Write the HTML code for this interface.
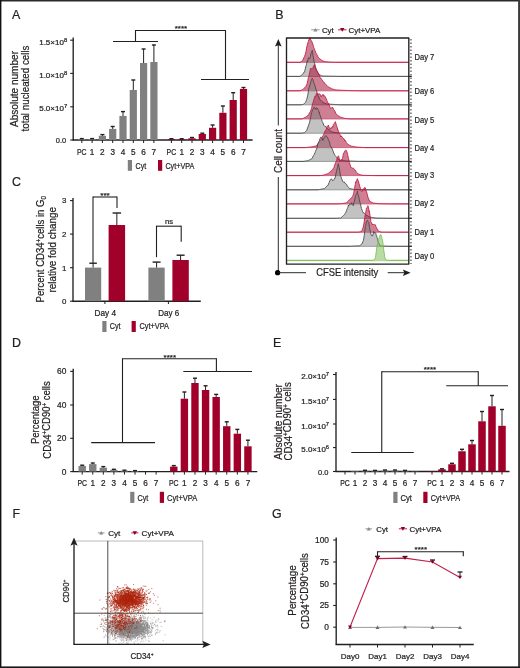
<!DOCTYPE html>
<html><head><meta charset="utf-8"><style>
html,body{margin:0;padding:0;background:#fff;}
svg{display:block;font-family:"Liberation Sans", sans-serif;filter:blur(0.55px);}
text{stroke:#231f20;stroke-width:0.22px;}
</style></head><body>
<svg width="520" height="668" viewBox="0 0 520 668">
<rect width="520" height="668" fill="#fff"/>
<rect x="0" y="0" width="520" height="1.5" fill="#2a2a2a"/>
<rect x="0" y="0" width="1.4" height="668" fill="#111"/>
<rect x="518.1" y="0" width="1.9" height="668" fill="#3a3a3a"/>
<rect x="0" y="666.4" width="520" height="1.6" fill="#1a1a1a"/>
<text x="12" y="18.8" font-size="12.4" fill="#231f20">A</text>
<text x="275.3" y="18.8" font-size="12.4" fill="#231f20">B</text>
<text x="12" y="185.6" font-size="12.4" fill="#231f20">C</text>
<text x="12" y="347.1" font-size="12.4" fill="#231f20">D</text>
<text x="273" y="347.1" font-size="12.4" fill="#231f20">E</text>
<text x="12.4" y="517.5" font-size="12.4" fill="#231f20">F</text>
<text x="272" y="518" font-size="12.4" fill="#231f20">G</text>
<line x1="73.2" y1="37.6" x2="73.2" y2="140.5" stroke="#231f20" stroke-width="1.35"/>
<line x1="72.7" y1="140" x2="252.6" y2="140" stroke="#231f20" stroke-width="1.35"/>
<line x1="70.2" y1="40.2" x2="73.2" y2="40.2" stroke="#231f20" stroke-width="1.1"/>
<text x="67.2" y="44.8" font-size="7.4" fill="#231f20" text-anchor="end" textLength="28" lengthAdjust="spacingAndGlyphs">1.5×10<tspan font-size="5.4" dy="-2.97">8</tspan></text>
<line x1="70.2" y1="73.4" x2="73.2" y2="73.4" stroke="#231f20" stroke-width="1.1"/>
<text x="67.2" y="78" font-size="7.4" fill="#231f20" text-anchor="end" textLength="28" lengthAdjust="spacingAndGlyphs">1.0×10<tspan font-size="5.4" dy="-2.97">8</tspan></text>
<line x1="70.2" y1="106.8" x2="73.2" y2="106.8" stroke="#231f20" stroke-width="1.1"/>
<text x="67.2" y="111.4" font-size="7.4" fill="#231f20" text-anchor="end" textLength="28" lengthAdjust="spacingAndGlyphs">5.0×10<tspan font-size="5.4" dy="-2.97">7</tspan></text>
<line x1="70.2" y1="140" x2="73.2" y2="140" stroke="#231f20" stroke-width="1.1"/>
<text x="66.2" y="143" font-size="7.4" fill="#231f20" text-anchor="end" textLength="10.4" lengthAdjust="spacingAndGlyphs">0.0</text>
<rect x="78.2" y="139.2" width="7.2" height="0.8" fill="#808080"/>
<line x1="81.8" y1="139.2" x2="81.8" y2="138.6" stroke="#231f20" stroke-width="1"/>
<line x1="79.8" y1="138.6" x2="83.8" y2="138.6" stroke="#231f20" stroke-width="1.4"/>
<rect x="88.5" y="139.2" width="7.2" height="0.8" fill="#808080"/>
<line x1="92.1" y1="139.2" x2="92.1" y2="138.6" stroke="#231f20" stroke-width="1"/>
<line x1="90.1" y1="138.6" x2="94.1" y2="138.6" stroke="#231f20" stroke-width="1.4"/>
<rect x="98.8" y="135.8" width="7.2" height="4.2" fill="#808080"/>
<line x1="102.4" y1="135.8" x2="102.4" y2="134.6" stroke="#231f20" stroke-width="1"/>
<line x1="100.4" y1="134.6" x2="104.4" y2="134.6" stroke="#231f20" stroke-width="1.4"/>
<rect x="109.1" y="128.9" width="7.2" height="11.1" fill="#808080"/>
<line x1="112.7" y1="128.9" x2="112.7" y2="126.5" stroke="#231f20" stroke-width="1"/>
<line x1="110.7" y1="126.5" x2="114.7" y2="126.5" stroke="#231f20" stroke-width="1.4"/>
<rect x="119.4" y="115.9" width="7.2" height="24.1" fill="#808080"/>
<line x1="123" y1="115.9" x2="123" y2="111.6" stroke="#231f20" stroke-width="1"/>
<line x1="121" y1="111.6" x2="125" y2="111.6" stroke="#231f20" stroke-width="1.4"/>
<rect x="129.7" y="90" width="7.2" height="50" fill="#808080"/>
<line x1="133.3" y1="90" x2="133.3" y2="80" stroke="#231f20" stroke-width="1"/>
<line x1="131.3" y1="80" x2="135.3" y2="80" stroke="#231f20" stroke-width="1.4"/>
<rect x="140" y="63" width="7.2" height="77" fill="#808080"/>
<line x1="143.6" y1="63" x2="143.6" y2="49" stroke="#231f20" stroke-width="1"/>
<line x1="141.6" y1="49" x2="145.6" y2="49" stroke="#231f20" stroke-width="1.4"/>
<rect x="150.3" y="62" width="7.2" height="78" fill="#808080"/>
<line x1="153.9" y1="62" x2="153.9" y2="45" stroke="#231f20" stroke-width="1"/>
<line x1="151.9" y1="45" x2="155.9" y2="45" stroke="#231f20" stroke-width="1.4"/>
<rect x="167.8" y="139.2" width="7.2" height="0.8" fill="#a0002a"/>
<line x1="171.4" y1="139.2" x2="171.4" y2="138.7" stroke="#231f20" stroke-width="1"/>
<line x1="169.4" y1="138.7" x2="173.4" y2="138.7" stroke="#231f20" stroke-width="1.4"/>
<rect x="178.1" y="139.2" width="7.2" height="0.8" fill="#a0002a"/>
<line x1="181.7" y1="139.2" x2="181.7" y2="138.7" stroke="#231f20" stroke-width="1"/>
<line x1="179.7" y1="138.7" x2="183.7" y2="138.7" stroke="#231f20" stroke-width="1.4"/>
<rect x="188.4" y="138.3" width="7.2" height="1.7" fill="#a0002a"/>
<line x1="192" y1="138.3" x2="192" y2="137.5" stroke="#231f20" stroke-width="1"/>
<line x1="190" y1="137.5" x2="194" y2="137.5" stroke="#231f20" stroke-width="1.4"/>
<rect x="198.7" y="134" width="7.2" height="6" fill="#a0002a"/>
<line x1="202.3" y1="134" x2="202.3" y2="133.2" stroke="#231f20" stroke-width="1"/>
<line x1="200.3" y1="133.2" x2="204.3" y2="133.2" stroke="#231f20" stroke-width="1.4"/>
<rect x="209" y="127.8" width="7.2" height="12.2" fill="#a0002a"/>
<line x1="212.6" y1="127.8" x2="212.6" y2="125" stroke="#231f20" stroke-width="1"/>
<line x1="210.6" y1="125" x2="214.6" y2="125" stroke="#231f20" stroke-width="1.4"/>
<rect x="219.3" y="112.8" width="7.2" height="27.2" fill="#a0002a"/>
<line x1="222.9" y1="112.8" x2="222.9" y2="106" stroke="#231f20" stroke-width="1"/>
<line x1="220.9" y1="106" x2="224.9" y2="106" stroke="#231f20" stroke-width="1.4"/>
<rect x="229.6" y="100" width="7.2" height="40" fill="#a0002a"/>
<line x1="233.2" y1="100" x2="233.2" y2="92.7" stroke="#231f20" stroke-width="1"/>
<line x1="231.2" y1="92.7" x2="235.2" y2="92.7" stroke="#231f20" stroke-width="1.4"/>
<rect x="239.9" y="88.9" width="7.2" height="51.1" fill="#a0002a"/>
<line x1="243.5" y1="88.9" x2="243.5" y2="87.5" stroke="#231f20" stroke-width="1"/>
<line x1="241.5" y1="87.5" x2="245.5" y2="87.5" stroke="#231f20" stroke-width="1.4"/>
<line x1="81.8" y1="140" x2="81.8" y2="143" stroke="#231f20" stroke-width="1"/>
<line x1="92.1" y1="140" x2="92.1" y2="143" stroke="#231f20" stroke-width="1"/>
<line x1="102.4" y1="140" x2="102.4" y2="143" stroke="#231f20" stroke-width="1"/>
<line x1="112.7" y1="140" x2="112.7" y2="143" stroke="#231f20" stroke-width="1"/>
<line x1="123" y1="140" x2="123" y2="143" stroke="#231f20" stroke-width="1"/>
<line x1="133.3" y1="140" x2="133.3" y2="143" stroke="#231f20" stroke-width="1"/>
<line x1="143.6" y1="140" x2="143.6" y2="143" stroke="#231f20" stroke-width="1"/>
<line x1="153.9" y1="140" x2="153.9" y2="143" stroke="#231f20" stroke-width="1"/>
<line x1="171.4" y1="140" x2="171.4" y2="143" stroke="#231f20" stroke-width="1"/>
<line x1="181.7" y1="140" x2="181.7" y2="143" stroke="#231f20" stroke-width="1"/>
<line x1="192" y1="140" x2="192" y2="143" stroke="#231f20" stroke-width="1"/>
<line x1="202.3" y1="140" x2="202.3" y2="143" stroke="#231f20" stroke-width="1"/>
<line x1="212.6" y1="140" x2="212.6" y2="143" stroke="#231f20" stroke-width="1"/>
<line x1="222.9" y1="140" x2="222.9" y2="143" stroke="#231f20" stroke-width="1"/>
<line x1="233.2" y1="140" x2="233.2" y2="143" stroke="#231f20" stroke-width="1"/>
<line x1="243.5" y1="140" x2="243.5" y2="143" stroke="#231f20" stroke-width="1"/>
<text x="81.8" y="154.6" font-size="8.2" fill="#231f20" text-anchor="middle" textLength="9.6" lengthAdjust="spacingAndGlyphs">PC</text>
<text x="92.1" y="154.6" font-size="8.2" fill="#231f20" text-anchor="middle">1</text>
<text x="102.4" y="154.6" font-size="8.2" fill="#231f20" text-anchor="middle">2</text>
<text x="112.7" y="154.6" font-size="8.2" fill="#231f20" text-anchor="middle">3</text>
<text x="123" y="154.6" font-size="8.2" fill="#231f20" text-anchor="middle">4</text>
<text x="133.3" y="154.6" font-size="8.2" fill="#231f20" text-anchor="middle">5</text>
<text x="143.6" y="154.6" font-size="8.2" fill="#231f20" text-anchor="middle">6</text>
<text x="153.9" y="154.6" font-size="8.2" fill="#231f20" text-anchor="middle">7</text>
<text x="171.4" y="154.6" font-size="8.2" fill="#231f20" text-anchor="middle" textLength="9.6" lengthAdjust="spacingAndGlyphs">PC</text>
<text x="181.7" y="154.6" font-size="8.2" fill="#231f20" text-anchor="middle">1</text>
<text x="192" y="154.6" font-size="8.2" fill="#231f20" text-anchor="middle">2</text>
<text x="202.3" y="154.6" font-size="8.2" fill="#231f20" text-anchor="middle">3</text>
<text x="212.6" y="154.6" font-size="8.2" fill="#231f20" text-anchor="middle">4</text>
<text x="222.9" y="154.6" font-size="8.2" fill="#231f20" text-anchor="middle">5</text>
<text x="233.2" y="154.6" font-size="8.2" fill="#231f20" text-anchor="middle">6</text>
<text x="243.5" y="154.6" font-size="8.2" fill="#231f20" text-anchor="middle">7</text>
<line x1="135.5" y1="30.5" x2="225.5" y2="30.5" stroke="#231f20" stroke-width="1.1"/>
<line x1="135.5" y1="30" x2="135.5" y2="41.5" stroke="#231f20" stroke-width="1.1"/>
<line x1="225.5" y1="30" x2="225.5" y2="79.5" stroke="#231f20" stroke-width="1.1"/>
<line x1="113" y1="41.5" x2="158" y2="41.5" stroke="#231f20" stroke-width="1.1"/>
<line x1="201" y1="79.5" x2="249" y2="79.5" stroke="#231f20" stroke-width="1.1"/>
<text x="181" y="31.2" font-size="7.2" fill="#231f20" text-anchor="middle" textLength="12.5" lengthAdjust="spacingAndGlyphs">****</text>
<rect x="127.8" y="160" width="4.2" height="10.8" fill="#808080"/>
<text x="135.6" y="168.6" font-size="8.6" fill="#231f20" textLength="10.6" lengthAdjust="spacingAndGlyphs">Cyt</text>
<rect x="158" y="160" width="4.2" height="10.8" fill="#a0002a"/>
<text x="165.4" y="168.6" font-size="8.6" fill="#231f20" textLength="28.9" lengthAdjust="spacingAndGlyphs">Cyt+VPA</text>
<text x="18" y="89" font-size="10.2" fill="#231f20" text-anchor="middle" textLength="76" lengthAdjust="spacingAndGlyphs" transform="rotate(-90 18 89)">Absolute number</text>
<text x="28.8" y="88.5" font-size="10.2" fill="#231f20" text-anchor="middle" textLength="86" lengthAdjust="spacingAndGlyphs" transform="rotate(-90 28.8 88.5)">total nucleated cells</text>
<path d="M286.5 62.3L300 62.3L300.75 61.85L301.5 61.4L302.25 60.95L302.5 60.8L303 59.75L303.75 58.04L304.5 56.56L304.6 56.37L305.25 54.27L306 51.39L306.75 47.05L307 46.11L307.5 44.1L308.25 41.86L308.3 41.62L309 39.31L309.2 39.45L309.75 37.9L310 37.87L310.5 38.94L310.8 40.56L311.25 40.91L311.5 40.7L312 42.07L312.3 42.66L312.75 44.22L313.5 46.29L313.75 47.59L314.25 48.56L315 50.63L315.75 52.91L316.2 53.25L316.5 54.13L317.25 55.25L318 56.93L318.75 57.79L319.5 58.57L320 59.11L320.25 59.2L321 59.76L321.75 60.32L322.5 60.8L323.25 61.04L324 61.28L324.75 61.52L325 61.6L325.5 61.65L326.25 61.72L327 61.8L327.75 61.88L328.5 61.95L329.25 62.02L330 62.1L330.75 62.12L331.5 62.15L332.25 62.17L333 62.2L333.75 62.22L334.5 62.25L335.25 62.27L336 62.3L408.8 62.3Z" fill="rgba(160,0,40,0.5)" stroke="none"/>
<line x1="286.5" y1="62.3" x2="408.8" y2="62.3" stroke="#d2607f" stroke-width="1"/>
<path d="M286.5 62.3L300 62.3L300.75 61.85L301.5 61.4L302.25 60.95L302.5 60.8L303 59.75L303.75 58.04L304.5 56.56L304.6 56.37L305.25 54.27L306 51.39L306.75 47.05L307 46.11L307.5 44.1L308.25 41.86L308.3 41.62L309 39.31L309.2 39.45L309.75 37.9L310 37.87L310.5 38.94L310.8 40.56L311.25 40.91L311.5 40.7L312 42.07L312.3 42.66L312.75 44.22L313.5 46.29L313.75 47.59L314.25 48.56L315 50.63L315.75 52.91L316.2 53.25L316.5 54.13L317.25 55.25L318 56.93L318.75 57.79L319.5 58.57L320 59.11L320.25 59.2L321 59.76L321.75 60.32L322.5 60.8L323.25 61.04L324 61.28L324.75 61.52L325 61.6L325.5 61.65L326.25 61.72L327 61.8L327.75 61.88L328.5 61.95L329.25 62.02L330 62.1L330.75 62.12L331.5 62.15L332.25 62.17L333 62.2L333.75 62.22L334.5 62.25L335.25 62.27L336 62.3L408.8 62.3" fill="none" stroke="#c0163f" stroke-width="0.85" stroke-linejoin="round"/>
<path d="M286.5 76.4L299.8 76.4L300.55 75.89L301.3 75.38L302 74.9L302.05 74.84L302.8 73.97L303.55 73L304.3 71.78L304.6 71.75L305.05 69.72L305.8 66.58L306.5 64.57L306.55 63.73L307.3 60.91L307.5 61.81L308.05 59.23L308.5 57.65L308.8 58.36L309.5 58.68L309.55 58.76L310.3 56.93L310.9 53.93L311.05 53.63L311.8 51.69L312.3 50.25L312.55 52.31L313.3 57.15L314.05 61.37L314.7 63.62L314.8 64.56L315.55 67.29L315.7 68.11L316.3 69.36L317.05 70.96L317.5 71.68L317.8 72.72L318.55 73.87L319 74.5L319.3 74.65L320.05 75.03L320.8 75.4L321.55 75.78L322 76L322.3 76.01L323.05 76.03L323.8 76.05L324.55 76.06L325.3 76.08L326.05 76.1L326.8 76.12L327.55 76.14L328.3 76.16L329.05 76.18L329.8 76.2L330 76.2L330.55 76.21L331.3 76.23L332.05 76.24L332.8 76.26L333.55 76.27L334.3 76.29L335.05 76.3L335.8 76.32L336.55 76.33L337.3 76.35L338.05 76.36L338.8 76.38L339.55 76.39L340 76.4L408.8 76.4Z" fill="rgba(128,128,128,0.48)" stroke="none"/>
<line x1="286.5" y1="76.4" x2="408.8" y2="76.4" stroke="#999999" stroke-width="1"/>
<path d="M286.5 76.4L299.8 76.4L300.55 75.89L301.3 75.38L302 74.9L302.05 74.84L302.8 73.97L303.55 73L304.3 71.78L304.6 71.75L305.05 69.72L305.8 66.58L306.5 64.57L306.55 63.73L307.3 60.91L307.5 61.81L308.05 59.23L308.5 57.65L308.8 58.36L309.5 58.68L309.55 58.76L310.3 56.93L310.9 53.93L311.05 53.63L311.8 51.69L312.3 50.25L312.55 52.31L313.3 57.15L314.05 61.37L314.7 63.62L314.8 64.56L315.55 67.29L315.7 68.11L316.3 69.36L317.05 70.96L317.5 71.68L317.8 72.72L318.55 73.87L319 74.5L319.3 74.65L320.05 75.03L320.8 75.4L321.55 75.78L322 76L322.3 76.01L323.05 76.03L323.8 76.05L324.55 76.06L325.3 76.08L326.05 76.1L326.8 76.12L327.55 76.14L328.3 76.16L329.05 76.18L329.8 76.2L330 76.2L330.55 76.21L331.3 76.23L332.05 76.24L332.8 76.26L333.55 76.27L334.3 76.29L335.05 76.3L335.8 76.32L336.55 76.33L337.3 76.35L338.05 76.36L338.8 76.38L339.55 76.39L340 76.4L408.8 76.4" fill="none" stroke="#444444" stroke-width="0.85" stroke-linejoin="round"/>
<path d="M286.5 90.8L300 90.8L300.75 90.46L301.5 90.13L302.25 89.79L302.9 89.5L303 89.4L303.75 88.59L304.5 87.66L305 87.22L305.25 87.21L306 86.3L306.7 84.72L306.75 84.78L307.5 82.07L308.25 78.33L308.5 77.3L309 75.47L309.75 72.03L310.4 69L310.5 68.46L311.25 68.7L312 68.55L312.3 68.45L312.75 68.69L313.5 66.22L314.25 65.12L314.7 64.56L315 66.86L315.7 68.99L315.75 68.41L316.5 70.9L317.25 71.47L317.6 71.54L318 73.47L318.75 73.82L319.5 75.95L320 77.37L320.25 77.49L321 78.35L321.75 79.6L322.5 80.23L322.9 81.44L323.25 81.75L324 82.17L324.75 83.36L325.5 84.46L325.8 84.38L326.25 84.67L327 85.73L327.75 86.52L328.5 86.96L328.8 87.22L329.25 87.46L330 87.63L330.75 88.25L331.5 88.41L332.25 88.88L332.7 89.1L333 89.17L333.75 89.35L334.5 89.54L335.25 89.72L336 89.9L336.75 89.95L337.5 90L338.25 90.05L339 90.1L339.75 90.16L340.4 90.2L340.5 90.2L341.25 90.24L342 90.27L342.75 90.3L343.5 90.33L344.25 90.36L345 90.39L345.75 90.42L346.5 90.45L347.25 90.49L348 90.52L348.75 90.55L349.5 90.58L350 90.6L350.25 90.61L351 90.62L351.75 90.63L352.5 90.65L353.25 90.66L354 90.68L354.75 90.69L355.5 90.71L356.25 90.72L357 90.74L357.75 90.75L358.5 90.77L359.25 90.78L360 90.8L408.8 90.8Z" fill="rgba(160,0,40,0.5)" stroke="none"/>
<line x1="286.5" y1="90.8" x2="408.8" y2="90.8" stroke="#d2607f" stroke-width="1"/>
<path d="M286.5 90.8L300 90.8L300.75 90.46L301.5 90.13L302.25 89.79L302.9 89.5L303 89.4L303.75 88.59L304.5 87.66L305 87.22L305.25 87.21L306 86.3L306.7 84.72L306.75 84.78L307.5 82.07L308.25 78.33L308.5 77.3L309 75.47L309.75 72.03L310.4 69L310.5 68.46L311.25 68.7L312 68.55L312.3 68.45L312.75 68.69L313.5 66.22L314.25 65.12L314.7 64.56L315 66.86L315.7 68.99L315.75 68.41L316.5 70.9L317.25 71.47L317.6 71.54L318 73.47L318.75 73.82L319.5 75.95L320 77.37L320.25 77.49L321 78.35L321.75 79.6L322.5 80.23L322.9 81.44L323.25 81.75L324 82.17L324.75 83.36L325.5 84.46L325.8 84.38L326.25 84.67L327 85.73L327.75 86.52L328.5 86.96L328.8 87.22L329.25 87.46L330 87.63L330.75 88.25L331.5 88.41L332.25 88.88L332.7 89.1L333 89.17L333.75 89.35L334.5 89.54L335.25 89.72L336 89.9L336.75 89.95L337.5 90L338.25 90.05L339 90.1L339.75 90.16L340.4 90.2L340.5 90.2L341.25 90.24L342 90.27L342.75 90.3L343.5 90.33L344.25 90.36L345 90.39L345.75 90.42L346.5 90.45L347.25 90.49L348 90.52L348.75 90.55L349.5 90.58L350 90.6L350.25 90.61L351 90.62L351.75 90.63L352.5 90.65L353.25 90.66L354 90.68L354.75 90.69L355.5 90.71L356.25 90.72L357 90.74L357.75 90.75L358.5 90.77L359.25 90.78L360 90.8L408.8 90.8" fill="none" stroke="#c0163f" stroke-width="0.85" stroke-linejoin="round"/>
<path d="M286.5 104.8L301 104.8L301.75 104.65L302.5 104.5L303.25 104.35L303.5 104.3L304 103.8L304.75 103.05L305.5 102.42L306.25 100.69L306.8 99.17L307 98.23L307.75 95.2L307.8 95.18L308.5 90.41L308.7 89.03L309.25 87.05L310 84.94L310.6 82.78L310.75 82.09L311.3 80.3L311.5 79.53L312 78.55L312.25 78.27L313 80.15L313.75 82.44L314 83.07L314.5 84.54L315.25 86.56L315.9 89.25L316 89.24L316.75 90.94L317.3 94.59L317.5 94.43L318.25 95.67L319 97.43L319.7 99.15L319.75 99.34L320.5 99.91L321.25 100.75L322 101.63L322.75 102.12L323 102.57L323.5 102.82L324.25 103.04L325 103.3L325.75 103.56L326.5 103.83L327 104L327.25 104.02L328 104.06L328.75 104.11L329.5 104.16L330.25 104.21L331 104.26L331.7 104.3L331.75 104.3L332.5 104.35L333.25 104.39L334 104.44L334.75 104.48L335.5 104.53L336.25 104.57L337 104.62L337.75 104.66L338.5 104.71L339.25 104.75L340 104.8L408.8 104.8Z" fill="rgba(128,128,128,0.48)" stroke="none"/>
<line x1="286.5" y1="104.8" x2="408.8" y2="104.8" stroke="#999999" stroke-width="1"/>
<path d="M286.5 104.8L301 104.8L301.75 104.65L302.5 104.5L303.25 104.35L303.5 104.3L304 103.8L304.75 103.05L305.5 102.42L306.25 100.69L306.8 99.17L307 98.23L307.75 95.2L307.8 95.18L308.5 90.41L308.7 89.03L309.25 87.05L310 84.94L310.6 82.78L310.75 82.09L311.3 80.3L311.5 79.53L312 78.55L312.25 78.27L313 80.15L313.75 82.44L314 83.07L314.5 84.54L315.25 86.56L315.9 89.25L316 89.24L316.75 90.94L317.3 94.59L317.5 94.43L318.25 95.67L319 97.43L319.7 99.15L319.75 99.34L320.5 99.91L321.25 100.75L322 101.63L322.75 102.12L323 102.57L323.5 102.82L324.25 103.04L325 103.3L325.75 103.56L326.5 103.83L327 104L327.25 104.02L328 104.06L328.75 104.11L329.5 104.16L330.25 104.21L331 104.26L331.7 104.3L331.75 104.3L332.5 104.35L333.25 104.39L334 104.44L334.75 104.48L335.5 104.53L336.25 104.57L337 104.62L337.75 104.66L338.5 104.71L339.25 104.75L340 104.8L408.8 104.8" fill="none" stroke="#444444" stroke-width="0.85" stroke-linejoin="round"/>
<path d="M286.5 118.9L302 118.9L302.75 118.53L303.5 118.15L303.8 118L304.25 117.78L305 117.4L305.75 117.03L306 116.9L306.5 116.48L307.25 115.86L308 115.21L308.7 115.04L308.75 114.58L309.5 112.72L310.25 111.72L311 109.86L311.5 108.44L311.75 107.37L312.5 103.83L313.25 102.04L313.5 100.36L314 99.14L314.75 96.88L314.9 96.31L315.5 96.97L316.25 93.97L316.8 94.15L317 93.31L317.75 94.74L318.3 94.32L318.5 93.79L319.25 94.13L319.7 93.81L320 94.12L320.75 95.87L321.2 96.84L321.5 95.81L322.25 95.28L322.6 95.53L323 94.31L323.75 96.35L324.5 95.7L325 96.42L325.25 96.82L326 98.3L326.75 100.25L326.9 100.41L327.5 102.3L328.25 103.44L328.8 103.32L329 104.55L329.75 106.53L330.5 108.62L330.8 108.32L331.25 108.18L332 107.31L332.7 107.8L332.75 107.49L333.5 109.34L334.25 110.09L335 111.33L335.75 113.37L336.5 114.35L337.25 114.92L338 115.55L338.75 116.2L339.5 116.32L340.25 116.91L340.4 117L341 117.19L341.75 117.42L342.5 117.66L343.25 117.89L344 118.13L344.75 118.36L345.2 118.5L345.5 118.53L346.25 118.59L347 118.65L347.75 118.71L348.5 118.78L349.25 118.84L350 118.9L408.8 118.9Z" fill="rgba(160,0,40,0.5)" stroke="none"/>
<line x1="286.5" y1="118.9" x2="408.8" y2="118.9" stroke="#d2607f" stroke-width="1"/>
<path d="M286.5 118.9L302 118.9L302.75 118.53L303.5 118.15L303.8 118L304.25 117.78L305 117.4L305.75 117.03L306 116.9L306.5 116.48L307.25 115.86L308 115.21L308.7 115.04L308.75 114.58L309.5 112.72L310.25 111.72L311 109.86L311.5 108.44L311.75 107.37L312.5 103.83L313.25 102.04L313.5 100.36L314 99.14L314.75 96.88L314.9 96.31L315.5 96.97L316.25 93.97L316.8 94.15L317 93.31L317.75 94.74L318.3 94.32L318.5 93.79L319.25 94.13L319.7 93.81L320 94.12L320.75 95.87L321.2 96.84L321.5 95.81L322.25 95.28L322.6 95.53L323 94.31L323.75 96.35L324.5 95.7L325 96.42L325.25 96.82L326 98.3L326.75 100.25L326.9 100.41L327.5 102.3L328.25 103.44L328.8 103.32L329 104.55L329.75 106.53L330.5 108.62L330.8 108.32L331.25 108.18L332 107.31L332.7 107.8L332.75 107.49L333.5 109.34L334.25 110.09L335 111.33L335.75 113.37L336.5 114.35L337.25 114.92L338 115.55L338.75 116.2L339.5 116.32L340.25 116.91L340.4 117L341 117.19L341.75 117.42L342.5 117.66L343.25 117.89L344 118.13L344.75 118.36L345.2 118.5L345.5 118.53L346.25 118.59L347 118.65L347.75 118.71L348.5 118.78L349.25 118.84L350 118.9L408.8 118.9" fill="none" stroke="#c0163f" stroke-width="0.85" stroke-linejoin="round"/>
<path d="M286.5 133.2L302 133.2L302.75 133.02L303.5 132.84L304.25 132.66L304.5 132.6L305 132.12L305.75 131.41L306.5 130.71L307.25 128.92L308 126.86L308.7 125.08L308.75 124.56L309.5 122.75L310.25 119.14L310.6 117.73L311 115.17L311.5 112.68L311.75 112.37L312.5 109.87L313 109.15L313.25 108.8L314 107.2L314.4 107.42L314.75 108.66L315.5 108.5L315.9 109.53L316.25 108.11L317 107.85L317.3 108.08L317.75 108.94L318.5 110.46L319.2 112.56L319.25 112.16L320 115.19L320.75 117.1L321.5 119.31L321.6 119.58L322.25 121.89L323 122.77L323.75 125.21L324 125.43L324.5 126.16L325.25 126.08L326 127.38L326.4 127.5L326.75 127.9L327.5 128.65L328.25 129.5L329 130.17L329.75 130.48L330.5 131.1L331.25 131.55L332 132L332.75 132.15L333.5 132.3L334.25 132.45L335 132.6L335.75 132.75L336 132.8L336.5 132.82L337.25 132.86L338 132.89L338.75 132.92L339.5 132.96L340.25 132.99L341 133.02L341.75 133.06L342.5 133.09L343.25 133.12L344 133.16L344.75 133.19L345 133.2L408.8 133.2Z" fill="rgba(128,128,128,0.48)" stroke="none"/>
<line x1="286.5" y1="133.2" x2="408.8" y2="133.2" stroke="#999999" stroke-width="1"/>
<path d="M286.5 133.2L302 133.2L302.75 133.02L303.5 132.84L304.25 132.66L304.5 132.6L305 132.12L305.75 131.41L306.5 130.71L307.25 128.92L308 126.86L308.7 125.08L308.75 124.56L309.5 122.75L310.25 119.14L310.6 117.73L311 115.17L311.5 112.68L311.75 112.37L312.5 109.87L313 109.15L313.25 108.8L314 107.2L314.4 107.42L314.75 108.66L315.5 108.5L315.9 109.53L316.25 108.11L317 107.85L317.3 108.08L317.75 108.94L318.5 110.46L319.2 112.56L319.25 112.16L320 115.19L320.75 117.1L321.5 119.31L321.6 119.58L322.25 121.89L323 122.77L323.75 125.21L324 125.43L324.5 126.16L325.25 126.08L326 127.38L326.4 127.5L326.75 127.9L327.5 128.65L328.25 129.5L329 130.17L329.75 130.48L330.5 131.1L331.25 131.55L332 132L332.75 132.15L333.5 132.3L334.25 132.45L335 132.6L335.75 132.75L336 132.8L336.5 132.82L337.25 132.86L338 132.89L338.75 132.92L339.5 132.96L340.25 132.99L341 133.02L341.75 133.06L342.5 133.09L343.25 133.12L344 133.16L344.75 133.19L345 133.2L408.8 133.2" fill="none" stroke="#444444" stroke-width="0.85" stroke-linejoin="round"/>
<path d="M286.5 147.6L305 147.6L305.75 147.51L306.5 147.43L307.25 147.34L308 147.26L308.75 147.17L309.5 147.09L310.25 147L311 146.91L311.75 146.83L312 146.8L312.5 146.69L313.25 146.52L314 146.36L314.75 146.19L315.5 146.02L316.25 145.86L316.5 145.8L317 145.05L317.75 143.92L318.5 143.03L319.25 142.22L320 141.04L320.75 139.37L321.5 139.03L322.25 137.49L322.9 135.77L323 135.63L323.75 134.31L324.5 132.29L325.2 131.03L325.25 131.51L326 129.87L326.75 127.65L326.9 126.58L327.5 126.33L328.25 125.34L328.4 125.05L329 127.1L329.75 128.61L329.8 129.23L330.5 127.98L331.25 128.61L332 126.81L332.7 126.69L332.75 127.17L333.5 124.41L334.25 123.3L335 122.62L335.2 121.59L335.75 122.9L336.5 125.74L337.25 127.68L337.3 127.86L338 130.04L338.75 132.49L339 132.8L339.5 133.88L340.25 135.14L340.8 137.09L341 135.96L341.75 136.34L342.5 137.51L343.25 138.51L344 138.69L344.75 140.72L344.8 140.17L345.5 140.69L346.25 142.48L347 143.22L347.7 144.07L347.75 144.34L348.5 144.65L349.25 145.01L350 145.55L350.75 145.87L351.2 146.1L351.5 146.15L352.25 146.28L353 146.41L353.75 146.54L354.5 146.67L355.25 146.8L356 146.93L356.75 147.06L357 147.1L357.5 147.13L358.25 147.18L359 147.22L359.75 147.27L360.5 147.32L361.25 147.37L362 147.41L362.75 147.46L363.5 147.51L364.25 147.55L365 147.6L408.8 147.6Z" fill="rgba(160,0,40,0.5)" stroke="none"/>
<line x1="286.5" y1="147.6" x2="408.8" y2="147.6" stroke="#d2607f" stroke-width="1"/>
<path d="M286.5 147.6L305 147.6L305.75 147.51L306.5 147.43L307.25 147.34L308 147.26L308.75 147.17L309.5 147.09L310.25 147L311 146.91L311.75 146.83L312 146.8L312.5 146.69L313.25 146.52L314 146.36L314.75 146.19L315.5 146.02L316.25 145.86L316.5 145.8L317 145.05L317.75 143.92L318.5 143.03L319.25 142.22L320 141.04L320.75 139.37L321.5 139.03L322.25 137.49L322.9 135.77L323 135.63L323.75 134.31L324.5 132.29L325.2 131.03L325.25 131.51L326 129.87L326.75 127.65L326.9 126.58L327.5 126.33L328.25 125.34L328.4 125.05L329 127.1L329.75 128.61L329.8 129.23L330.5 127.98L331.25 128.61L332 126.81L332.7 126.69L332.75 127.17L333.5 124.41L334.25 123.3L335 122.62L335.2 121.59L335.75 122.9L336.5 125.74L337.25 127.68L337.3 127.86L338 130.04L338.75 132.49L339 132.8L339.5 133.88L340.25 135.14L340.8 137.09L341 135.96L341.75 136.34L342.5 137.51L343.25 138.51L344 138.69L344.75 140.72L344.8 140.17L345.5 140.69L346.25 142.48L347 143.22L347.7 144.07L347.75 144.34L348.5 144.65L349.25 145.01L350 145.55L350.75 145.87L351.2 146.1L351.5 146.15L352.25 146.28L353 146.41L353.75 146.54L354.5 146.67L355.25 146.8L356 146.93L356.75 147.06L357 147.1L357.5 147.13L358.25 147.18L359 147.22L359.75 147.27L360.5 147.32L361.25 147.37L362 147.41L362.75 147.46L363.5 147.51L364.25 147.55L365 147.6L408.8 147.6" fill="none" stroke="#c0163f" stroke-width="0.85" stroke-linejoin="round"/>
<path d="M286.5 161.4L303 161.4L303.75 161.3L304.5 161.19L305.25 161.09L306 160.98L306.75 160.88L307.5 160.77L308 160.7L308.25 160.57L309 160.19L309.75 159.8L310.5 159.42L311.25 159.04L311.9 158.67L312 158.41L312.75 157.03L313.5 155.59L314.25 154.35L315 152.71L315.4 151.48L315.75 150.8L316.5 149.17L317.25 147.11L317.7 144.3L318 143.96L318.75 141.63L319.4 140.87L319.5 139.29L320.25 138.4L321 136.9L321.2 137.21L321.75 138.17L322.5 138.92L322.9 140.57L323.25 138.76L324 138.07L324.6 137.72L324.75 136.65L325.5 135.69L326.25 136.38L326.3 136L327 136.7L327.75 137.95L328.1 138.78L328.5 140.24L329.25 141.1L329.8 143.23L330 144.74L330.75 146.7L331.5 147.22L332.1 149.06L332.25 149.01L333 150.99L333.75 153.08L334.4 154.03L334.5 154.83L335.25 155.56L336 156.55L336.7 157.53L336.75 157.74L337.5 158.25L338.25 158.79L339 159.42L339.6 159.9L339.75 159.93L340.5 160.06L341.25 160.18L342 160.31L342.75 160.44L343.5 160.57L344.25 160.7L345 160.83L345.4 160.9L345.75 160.91L346.5 160.94L347.25 160.96L348 160.99L348.75 161.01L349.5 161.04L350.25 161.07L351 161.09L351.75 161.12L352.5 161.14L353.25 161.17L354 161.19L354.75 161.22L355.5 161.25L356.25 161.27L357 161.3L357.75 161.32L358.5 161.35L359.25 161.37L360 161.4L408.8 161.4Z" fill="rgba(128,128,128,0.48)" stroke="none"/>
<line x1="286.5" y1="161.4" x2="408.8" y2="161.4" stroke="#999999" stroke-width="1"/>
<path d="M286.5 161.4L303 161.4L303.75 161.3L304.5 161.19L305.25 161.09L306 160.98L306.75 160.88L307.5 160.77L308 160.7L308.25 160.57L309 160.19L309.75 159.8L310.5 159.42L311.25 159.04L311.9 158.67L312 158.41L312.75 157.03L313.5 155.59L314.25 154.35L315 152.71L315.4 151.48L315.75 150.8L316.5 149.17L317.25 147.11L317.7 144.3L318 143.96L318.75 141.63L319.4 140.87L319.5 139.29L320.25 138.4L321 136.9L321.2 137.21L321.75 138.17L322.5 138.92L322.9 140.57L323.25 138.76L324 138.07L324.6 137.72L324.75 136.65L325.5 135.69L326.25 136.38L326.3 136L327 136.7L327.75 137.95L328.1 138.78L328.5 140.24L329.25 141.1L329.8 143.23L330 144.74L330.75 146.7L331.5 147.22L332.1 149.06L332.25 149.01L333 150.99L333.75 153.08L334.4 154.03L334.5 154.83L335.25 155.56L336 156.55L336.7 157.53L336.75 157.74L337.5 158.25L338.25 158.79L339 159.42L339.6 159.9L339.75 159.93L340.5 160.06L341.25 160.18L342 160.31L342.75 160.44L343.5 160.57L344.25 160.7L345 160.83L345.4 160.9L345.75 160.91L346.5 160.94L347.25 160.96L348 160.99L348.75 161.01L349.5 161.04L350.25 161.07L351 161.09L351.75 161.12L352.5 161.14L353.25 161.17L354 161.19L354.75 161.22L355.5 161.25L356.25 161.27L357 161.3L357.75 161.32L358.5 161.35L359.25 161.37L360 161.4L408.8 161.4" fill="none" stroke="#444444" stroke-width="0.85" stroke-linejoin="round"/>
<path d="M286.5 175.6L320 175.6L320.75 175.49L321.5 175.39L322.25 175.28L323 175.17L323.5 175.1L323.75 175.02L324.5 174.77L325.25 174.53L326 174.28L326.75 174.04L327.5 173.8L328.1 173.6L328.25 173.44L329 172.77L329.75 172.17L330.5 171.6L331.25 170.77L331.5 170.69L332 170.24L332.75 169.28L333.5 168.18L333.8 167.83L334.25 166.45L335 164.33L335.6 162.52L335.75 162.25L336.5 160.73L337.25 157.95L337.3 157.53L338 156.46L338.5 155.79L338.75 156.5L339.5 160.13L339.8 161.75L340.25 160.62L341 160.63L341.75 159.45L341.9 160.19L342.5 158.58L343.1 155.57L343.25 153.98L344 152.84L344.75 151.25L344.8 150.84L345.5 150.27L346.25 150.28L346.3 150.42L347 152.13L347.7 154.78L347.75 155.35L348.5 158.64L349.25 161.74L349.4 162.76L350 164.32L350.75 167.01L351.2 167.84L351.5 167.67L352.25 168.16L353 167.98L353.5 168.24L353.75 168.48L354.5 169.71L355.25 170.13L355.8 171.1L356 171.58L356.75 172.45L357.5 173.15L358.1 174.1L358.25 174.14L359 174.33L359.75 174.53L360.5 174.73L361.25 174.92L362 175.12L362.7 175.3L362.75 175.3L363.5 175.32L364.25 175.34L365 175.36L365.75 175.37L366.5 175.39L367.25 175.41L368 175.43L368.75 175.45L369.5 175.47L370.25 175.48L371 175.5L371.75 175.52L372.5 175.54L373.25 175.56L374 175.58L374.75 175.59L375 175.6L408.8 175.6Z" fill="rgba(160,0,40,0.5)" stroke="none"/>
<line x1="286.5" y1="175.6" x2="408.8" y2="175.6" stroke="#d2607f" stroke-width="1"/>
<path d="M286.5 175.6L320 175.6L320.75 175.49L321.5 175.39L322.25 175.28L323 175.17L323.5 175.1L323.75 175.02L324.5 174.77L325.25 174.53L326 174.28L326.75 174.04L327.5 173.8L328.1 173.6L328.25 173.44L329 172.77L329.75 172.17L330.5 171.6L331.25 170.77L331.5 170.69L332 170.24L332.75 169.28L333.5 168.18L333.8 167.83L334.25 166.45L335 164.33L335.6 162.52L335.75 162.25L336.5 160.73L337.25 157.95L337.3 157.53L338 156.46L338.5 155.79L338.75 156.5L339.5 160.13L339.8 161.75L340.25 160.62L341 160.63L341.75 159.45L341.9 160.19L342.5 158.58L343.1 155.57L343.25 153.98L344 152.84L344.75 151.25L344.8 150.84L345.5 150.27L346.25 150.28L346.3 150.42L347 152.13L347.7 154.78L347.75 155.35L348.5 158.64L349.25 161.74L349.4 162.76L350 164.32L350.75 167.01L351.2 167.84L351.5 167.67L352.25 168.16L353 167.98L353.5 168.24L353.75 168.48L354.5 169.71L355.25 170.13L355.8 171.1L356 171.58L356.75 172.45L357.5 173.15L358.1 174.1L358.25 174.14L359 174.33L359.75 174.53L360.5 174.73L361.25 174.92L362 175.12L362.7 175.3L362.75 175.3L363.5 175.32L364.25 175.34L365 175.36L365.75 175.37L366.5 175.39L367.25 175.41L368 175.43L368.75 175.45L369.5 175.47L370.25 175.48L371 175.5L371.75 175.52L372.5 175.54L373.25 175.56L374 175.58L374.75 175.59L375 175.6L408.8 175.6" fill="none" stroke="#c0163f" stroke-width="0.85" stroke-linejoin="round"/>
<path d="M286.5 189.8L318 189.8L318.75 189.65L319.5 189.5L320.25 189.36L321 189.21L321.75 189.06L322.5 188.91L323.25 188.77L324 188.62L324.6 188.5L324.75 188.35L325.5 187.63L326.25 186.75L327 185.96L327.75 185.35L328.1 185.21L328.5 184.06L329.25 182.3L330 180.32L330.4 179.51L330.75 179.6L331.5 178.86L332.25 180.13L332.7 180.93L333 180.6L333.75 179.77L334.5 178.45L335 178.56L335.25 177.19L336 173.33L336.7 170.66L336.75 169.99L337.5 167.54L338.2 164.01L338.25 163.67L339 167.05L339.6 170.02L339.75 170.97L340.5 175.81L340.8 176.08L341.25 177.76L342 179.38L342.5 181.29L342.75 181.22L343.5 182.2L344.2 181.87L344.25 181.88L345 183.39L345.75 183.66L346.5 184.27L347.25 185.75L348 186.75L348.75 187.67L349.4 188.5L349.5 188.52L350.25 188.66L351 188.81L351.75 188.95L352.5 189.1L353.25 189.24L354 189.38L354.6 189.5L354.75 189.5L355.5 189.53L356.25 189.55L357 189.57L357.75 189.59L358.5 189.61L359.25 189.63L360 189.66L360.75 189.68L361.5 189.7L362.25 189.72L363 189.74L363.75 189.76L364.5 189.79L365 189.8L408.8 189.8Z" fill="rgba(128,128,128,0.48)" stroke="none"/>
<line x1="286.5" y1="189.8" x2="408.8" y2="189.8" stroke="#999999" stroke-width="1"/>
<path d="M286.5 189.8L318 189.8L318.75 189.65L319.5 189.5L320.25 189.36L321 189.21L321.75 189.06L322.5 188.91L323.25 188.77L324 188.62L324.6 188.5L324.75 188.35L325.5 187.63L326.25 186.75L327 185.96L327.75 185.35L328.1 185.21L328.5 184.06L329.25 182.3L330 180.32L330.4 179.51L330.75 179.6L331.5 178.86L332.25 180.13L332.7 180.93L333 180.6L333.75 179.77L334.5 178.45L335 178.56L335.25 177.19L336 173.33L336.7 170.66L336.75 169.99L337.5 167.54L338.2 164.01L338.25 163.67L339 167.05L339.6 170.02L339.75 170.97L340.5 175.81L340.8 176.08L341.25 177.76L342 179.38L342.5 181.29L342.75 181.22L343.5 182.2L344.2 181.87L344.25 181.88L345 183.39L345.75 183.66L346.5 184.27L347.25 185.75L348 186.75L348.75 187.67L349.4 188.5L349.5 188.52L350.25 188.66L351 188.81L351.75 188.95L352.5 189.1L353.25 189.24L354 189.38L354.6 189.5L354.75 189.5L355.5 189.53L356.25 189.55L357 189.57L357.75 189.59L358.5 189.61L359.25 189.63L360 189.66L360.75 189.68L361.5 189.7L362.25 189.72L363 189.74L363.75 189.76L364.5 189.79L365 189.8L408.8 189.8" fill="none" stroke="#444444" stroke-width="0.85" stroke-linejoin="round"/>
<path d="M286.5 203.9L338 203.9L338.75 203.84L339.5 203.78L340.25 203.73L341 203.67L341.75 203.61L341.9 203.6L342.5 203.5L343.25 203.37L344 203.23L344.75 203.1L345.5 202.97L346.25 202.84L346.5 202.8L347 202.3L347.75 201.61L348.5 200.96L349.25 200.05L350 199.26L350.75 198.42L351.5 197.64L352.25 196.66L352.3 196.7L353 195.45L353.5 193.8L353.75 192.74L354.5 188.81L354.6 187.84L355.25 184.66L355.8 181.78L356 182.26L356.75 180.4L357.3 178.61L357.5 179.18L358.25 181.05L358.7 182.03L359 183.6L359.75 186.08L359.8 186.44L360.5 188.57L361.25 190.91L361.5 191.38L362 191.86L362.75 190.07L363.3 188.88L363.5 189.4L364.25 187.96L365 187.31L365.2 187.82L365.75 189.19L366.4 191.44L366.5 191.47L367.25 194.31L367.9 197.01L368 197.45L368.75 199.08L369.5 200.87L369.6 201.02L370.25 201.43L371 201.92L371.75 202.27L372.5 202.67L373.1 203L373.25 203.02L374 203.11L374.75 203.2L375.5 203.29L376.25 203.39L377 203.48L377.75 203.57L378.5 203.66L378.8 203.7L379.25 203.71L380 203.72L380.75 203.73L381.5 203.75L382.25 203.76L383 203.78L383.75 203.79L384.5 203.8L385.25 203.82L386 203.83L386.75 203.84L387.5 203.86L388.25 203.87L389 203.88L389.75 203.9L390 203.9L408.8 203.9Z" fill="rgba(160,0,40,0.5)" stroke="none"/>
<line x1="286.5" y1="203.9" x2="408.8" y2="203.9" stroke="#d2607f" stroke-width="1"/>
<path d="M286.5 203.9L338 203.9L338.75 203.84L339.5 203.78L340.25 203.73L341 203.67L341.75 203.61L341.9 203.6L342.5 203.5L343.25 203.37L344 203.23L344.75 203.1L345.5 202.97L346.25 202.84L346.5 202.8L347 202.3L347.75 201.61L348.5 200.96L349.25 200.05L350 199.26L350.75 198.42L351.5 197.64L352.25 196.66L352.3 196.7L353 195.45L353.5 193.8L353.75 192.74L354.5 188.81L354.6 187.84L355.25 184.66L355.8 181.78L356 182.26L356.75 180.4L357.3 178.61L357.5 179.18L358.25 181.05L358.7 182.03L359 183.6L359.75 186.08L359.8 186.44L360.5 188.57L361.25 190.91L361.5 191.38L362 191.86L362.75 190.07L363.3 188.88L363.5 189.4L364.25 187.96L365 187.31L365.2 187.82L365.75 189.19L366.4 191.44L366.5 191.47L367.25 194.31L367.9 197.01L368 197.45L368.75 199.08L369.5 200.87L369.6 201.02L370.25 201.43L371 201.92L371.75 202.27L372.5 202.67L373.1 203L373.25 203.02L374 203.11L374.75 203.2L375.5 203.29L376.25 203.39L377 203.48L377.75 203.57L378.5 203.66L378.8 203.7L379.25 203.71L380 203.72L380.75 203.73L381.5 203.75L382.25 203.76L383 203.78L383.75 203.79L384.5 203.8L385.25 203.82L386 203.83L386.75 203.84L387.5 203.86L388.25 203.87L389 203.88L389.75 203.9L390 203.9L408.8 203.9" fill="none" stroke="#c0163f" stroke-width="0.85" stroke-linejoin="round"/>
<path d="M286.5 218.3L336 218.3L336.75 218.25L337.5 218.21L338.25 218.16L339 218.11L339.75 218.07L340.5 218.02L340.8 218L341.25 217.57L342 216.86L342.75 216.26L343.5 215.48L344.25 214.82L344.8 214.37L345 213.82L345.75 212.41L346.5 210.77L347.25 208.7L348 207.14L348.3 205.15L348.75 205.87L349.5 204.43L350 204.35L350.25 203.65L351 204.47L351.7 203.04L351.75 202.71L352.5 204.3L353.2 205.15L353.25 205.85L354 202.31L354.6 200.06L354.75 199.32L355.5 196.27L355.8 195.27L356.25 194.04L357 193.21L357.5 191.17L357.75 193.26L358.5 196L359.2 198.25L359.25 199.51L360 202.52L360.75 205.13L361 206.69L361.5 208.53L362.25 210.45L362.7 211.76L363 212.04L363.75 213.1L364.5 213.4L365.25 214.21L365.6 214.8L366 215L366.75 215.51L367.5 215.76L368.25 216.32L369 216.75L369.6 217.1L369.75 217.12L370.5 217.23L371.25 217.34L372 217.45L372.75 217.56L373.5 217.67L374.25 217.77L375 217.88L375.75 217.99L376.5 218.1L377.25 218.11L378 218.12L378.75 218.13L379.5 218.14L380.25 218.16L381 218.17L381.75 218.18L382.5 218.19L383.25 218.2L384 218.21L384.75 218.22L385.5 218.23L386.25 218.24L387 218.26L387.75 218.27L388.5 218.28L389.25 218.29L390 218.3L408.8 218.3Z" fill="rgba(128,128,128,0.48)" stroke="none"/>
<line x1="286.5" y1="218.3" x2="408.8" y2="218.3" stroke="#999999" stroke-width="1"/>
<path d="M286.5 218.3L336 218.3L336.75 218.25L337.5 218.21L338.25 218.16L339 218.11L339.75 218.07L340.5 218.02L340.8 218L341.25 217.57L342 216.86L342.75 216.26L343.5 215.48L344.25 214.82L344.8 214.37L345 213.82L345.75 212.41L346.5 210.77L347.25 208.7L348 207.14L348.3 205.15L348.75 205.87L349.5 204.43L350 204.35L350.25 203.65L351 204.47L351.7 203.04L351.75 202.71L352.5 204.3L353.2 205.15L353.25 205.85L354 202.31L354.6 200.06L354.75 199.32L355.5 196.27L355.8 195.27L356.25 194.04L357 193.21L357.5 191.17L357.75 193.26L358.5 196L359.2 198.25L359.25 199.51L360 202.52L360.75 205.13L361 206.69L361.5 208.53L362.25 210.45L362.7 211.76L363 212.04L363.75 213.1L364.5 213.4L365.25 214.21L365.6 214.8L366 215L366.75 215.51L367.5 215.76L368.25 216.32L369 216.75L369.6 217.1L369.75 217.12L370.5 217.23L371.25 217.34L372 217.45L372.75 217.56L373.5 217.67L374.25 217.77L375 217.88L375.75 217.99L376.5 218.1L377.25 218.11L378 218.12L378.75 218.13L379.5 218.14L380.25 218.16L381 218.17L381.75 218.18L382.5 218.19L383.25 218.2L384 218.21L384.75 218.22L385.5 218.23L386.25 218.24L387 218.26L387.75 218.27L388.5 218.28L389.25 218.29L390 218.3L408.8 218.3" fill="none" stroke="#444444" stroke-width="0.85" stroke-linejoin="round"/>
<path d="M286.5 232.2L358 232.2L358.75 232.07L359.5 231.94L360.25 231.81L361 231.69L361.5 231.6L361.75 230.96L362.5 229.13L363.25 227L363.3 227.09L364 222.96L364.75 217.81L365 216L365.5 213.75L366.25 209.76L366.4 208.23L367 207.7L367.75 206.39L367.9 205.61L368.5 208.07L369.25 211.66L369.4 210.97L370 215.98L370.75 220.64L370.8 221.56L371.5 222.72L372.25 224.72L372.5 224.2L373 224.18L373.75 224.73L374.5 224.63L374.8 224.59L375.25 224.71L376 226.67L376.5 227.61L376.75 228.13L377.5 229.56L378.25 231L378.3 231.1L379 231.34L379.75 231.6L380.5 231.86L381.2 232.1L381.25 232.1L382 232.11L382.75 232.12L383.5 232.13L384.25 232.13L385 232.14L385.75 232.15L386.5 232.16L387.25 232.17L388 232.18L388.75 232.19L389.5 232.19L390 232.2L408.8 232.2Z" fill="rgba(160,0,40,0.5)" stroke="none"/>
<line x1="286.5" y1="232.2" x2="408.8" y2="232.2" stroke="#d2607f" stroke-width="1"/>
<path d="M286.5 232.2L358 232.2L358.75 232.07L359.5 231.94L360.25 231.81L361 231.69L361.5 231.6L361.75 230.96L362.5 229.13L363.25 227L363.3 227.09L364 222.96L364.75 217.81L365 216L365.5 213.75L366.25 209.76L366.4 208.23L367 207.7L367.75 206.39L367.9 205.61L368.5 208.07L369.25 211.66L369.4 210.97L370 215.98L370.75 220.64L370.8 221.56L371.5 222.72L372.25 224.72L372.5 224.2L373 224.18L373.75 224.73L374.5 224.63L374.8 224.59L375.25 224.71L376 226.67L376.5 227.61L376.75 228.13L377.5 229.56L378.25 231L378.3 231.1L379 231.34L379.75 231.6L380.5 231.86L381.2 232.1L381.25 232.1L382 232.11L382.75 232.12L383.5 232.13L384.25 232.13L385 232.14L385.75 232.15L386.5 232.16L387.25 232.17L388 232.18L388.75 232.19L389.5 232.19L390 232.2L408.8 232.2" fill="none" stroke="#c0163f" stroke-width="0.85" stroke-linejoin="round"/>
<path d="M286.5 246.3L350 246.3L350.75 246.25L351.5 246.21L352.25 246.16L353 246.11L353.75 246.07L354.5 246.02L354.8 246L355.25 245.98L356 245.95L356.75 245.92L357.5 245.89L358.25 245.86L359 245.83L359.6 245.8L359.75 245.68L360.5 245.05L361.25 244.43L362 243.9L362.75 241.9L363.5 240.34L364.25 235.2L364.4 234.06L365 229.37L365.4 226.6L365.75 225.23L366.3 222.13L366.5 222.18L367.25 220.39L367.5 220.45L368 221.41L368.75 222.41L369.5 227.49L369.7 228.92L370.25 231.12L371 234.17L371.2 234.99L371.75 235.84L372.1 235.84L372.5 235.87L373.25 233.68L373.6 231.54L374 233.2L374.5 232.03L374.75 232.1L375.5 233.23L375.8 233.57L376.25 235.22L376.9 236.97L377 237.4L377.75 239.63L378.4 242.21L378.5 242.28L379.25 243.96L379.8 245.3L380 245.37L380.75 245.65L381.5 245.93L381.7 246L382.25 246.02L383 246.05L383.75 246.07L384.5 246.1L385.25 246.13L386 246.16L386.75 246.18L387.5 246.21L388.25 246.24L389 246.26L389.75 246.29L390 246.3L408.8 246.3Z" fill="rgba(128,128,128,0.48)" stroke="none"/>
<line x1="286.5" y1="246.3" x2="408.8" y2="246.3" stroke="#999999" stroke-width="1"/>
<path d="M286.5 246.3L350 246.3L350.75 246.25L351.5 246.21L352.25 246.16L353 246.11L353.75 246.07L354.5 246.02L354.8 246L355.25 245.98L356 245.95L356.75 245.92L357.5 245.89L358.25 245.86L359 245.83L359.6 245.8L359.75 245.68L360.5 245.05L361.25 244.43L362 243.9L362.75 241.9L363.5 240.34L364.25 235.2L364.4 234.06L365 229.37L365.4 226.6L365.75 225.23L366.3 222.13L366.5 222.18L367.25 220.39L367.5 220.45L368 221.41L368.75 222.41L369.5 227.49L369.7 228.92L370.25 231.12L371 234.17L371.2 234.99L371.75 235.84L372.1 235.84L372.5 235.87L373.25 233.68L373.6 231.54L374 233.2L374.5 232.03L374.75 232.1L375.5 233.23L375.8 233.57L376.25 235.22L376.9 236.97L377 237.4L377.75 239.63L378.4 242.21L378.5 242.28L379.25 243.96L379.8 245.3L380 245.37L380.75 245.65L381.5 245.93L381.7 246L382.25 246.02L383 246.05L383.75 246.07L384.5 246.1L385.25 246.13L386 246.16L386.75 246.18L387.5 246.21L388.25 246.24L389 246.26L389.75 246.29L390 246.3L408.8 246.3" fill="none" stroke="#444444" stroke-width="0.85" stroke-linejoin="round"/>
<path d="M286.5 260.4L372 260.4L372.75 260.32L373.5 260.25L374 260.2L374.25 259.72L375 258.35L375.5 257.42L375.75 255.29L376.5 249.99L376.9 246.41L377.25 244.8L378 241.65L378.4 239.77L378.75 238.97L379.5 237.26L379.8 235.71L380.25 234.82L380.8 234.44L381 234.89L381.7 236.76L381.75 237.74L382.5 240.65L382.7 241.06L383.25 246.38L383.7 249.54L384 251.75L384.75 256.75L384.8 257.26L385.5 258.99L386 260.2L386.25 260.21L387 260.25L387.75 260.29L388.5 260.32L389.25 260.36L390 260.4L408.8 260.4Z" fill="rgba(130,190,90,0.55)" stroke="none"/>
<line x1="286.5" y1="260.4" x2="408.8" y2="260.4" stroke="#b4d9a0" stroke-width="1.5"/>
<path d="M286.5 260.4L372 260.4L372.75 260.32L373.5 260.25L374 260.2L374.25 259.72L375 258.35L375.5 257.42L375.75 255.29L376.5 249.99L376.9 246.41L377.25 244.8L378 241.65L378.4 239.77L378.75 238.97L379.5 237.26L379.8 235.71L380.25 234.82L380.8 234.44L381 234.89L381.7 236.76L381.75 237.74L382.5 240.65L382.7 241.06L383.25 246.38L383.7 249.54L384 251.75L384.75 256.75L384.8 257.26L385.5 258.99L386 260.2L386.25 260.21L387 260.25L387.75 260.29L388.5 260.32L389.25 260.36L390 260.4L408.8 260.4" fill="none" stroke="#7cbd58" stroke-width="0.85" stroke-linejoin="round"/>
<line x1="286.5" y1="37.5" x2="286.5" y2="264.6" stroke="#231f20" stroke-width="1.35"/>
<line x1="286.5" y1="38" x2="409.3" y2="38" stroke="#231f20" stroke-width="1.35"/>
<line x1="286.5" y1="264.1" x2="409.3" y2="264.1" stroke="#231f20" stroke-width="1.35"/>
<line x1="408.8" y1="38" x2="408.8" y2="264.1" stroke="#231f20" stroke-width="1.35"/>
<line x1="410.7" y1="39" x2="410.7" y2="264.1" stroke="#8a8a8a" stroke-width="2.4" stroke-dasharray="1.6 1.9"/>
<line x1="408.8" y1="76.4" x2="411.8" y2="76.4" stroke="#231f20" stroke-width="1.1"/>
<line x1="408.8" y1="104.8" x2="411.8" y2="104.8" stroke="#231f20" stroke-width="1.1"/>
<line x1="408.8" y1="133.2" x2="411.8" y2="133.2" stroke="#231f20" stroke-width="1.1"/>
<line x1="408.8" y1="161.4" x2="411.8" y2="161.4" stroke="#231f20" stroke-width="1.1"/>
<line x1="408.8" y1="189.8" x2="411.8" y2="189.8" stroke="#231f20" stroke-width="1.1"/>
<line x1="408.8" y1="218.3" x2="411.8" y2="218.3" stroke="#231f20" stroke-width="1.1"/>
<line x1="408.8" y1="246.3" x2="411.8" y2="246.3" stroke="#231f20" stroke-width="1.1"/>
<text x="414.5" y="60.3" font-size="8.2" fill="#231f20" textLength="19.8" lengthAdjust="spacingAndGlyphs">Day 7</text>
<text x="414.5" y="94.1" font-size="8.2" fill="#231f20" textLength="19.8" lengthAdjust="spacingAndGlyphs">Day 6</text>
<text x="414.5" y="123.3" font-size="8.2" fill="#231f20" textLength="19.8" lengthAdjust="spacingAndGlyphs">Day 5</text>
<text x="414.5" y="150.6" font-size="8.2" fill="#231f20" textLength="19.8" lengthAdjust="spacingAndGlyphs">Day 4</text>
<text x="414.5" y="178.1" font-size="8.2" fill="#231f20" textLength="19.8" lengthAdjust="spacingAndGlyphs">Day 3</text>
<text x="414.5" y="206.4" font-size="8.2" fill="#231f20" textLength="19.8" lengthAdjust="spacingAndGlyphs">Day 2</text>
<text x="414.5" y="234.9" font-size="8.2" fill="#231f20" textLength="19.8" lengthAdjust="spacingAndGlyphs">Day 1</text>
<text x="414.5" y="258.6" font-size="8.2" fill="#231f20" textLength="19.8" lengthAdjust="spacingAndGlyphs">Day 0</text>
<line x1="311.2" y1="29.8" x2="319.6" y2="29.8" stroke="#9a9a9a" stroke-width="1"/>
<path d="M313.4 31.4L317.4 31.4L315.4 28Z" fill="#8a8a8a"/>
<text x="321.9" y="32.7" font-size="8" fill="#231f20" textLength="11.9" lengthAdjust="spacingAndGlyphs">Cyt</text>
<line x1="338" y1="29.8" x2="346.5" y2="29.8" stroke="#c21e4b" stroke-width="1"/>
<path d="M340.05 28.04L344.45 28.04L342.25 31.78Z" fill="#8a0022"/>
<text x="348.5" y="32.7" font-size="8" fill="#231f20" textLength="31.9" lengthAdjust="spacingAndGlyphs">Cyt+VPA</text>
<line x1="278.3" y1="272.5" x2="278.3" y2="177" stroke="#231f20" stroke-width="0.95"/>
<line x1="278.3" y1="125.5" x2="278.3" y2="44" stroke="#231f20" stroke-width="0.95"/>
<path d="M278.3 38.9L275.0 46.6L278.3 45.2L281.6 46.6Z" fill="#231f20"/>
<text x="281.9" y="151" font-size="10.5" fill="#231f20" text-anchor="middle" textLength="44" lengthAdjust="spacingAndGlyphs" transform="rotate(-90 281.9 151)">Cell count</text>
<circle cx="277.6" cy="272.7" r="2.6" fill="#000"/>
<line x1="277.6" y1="272.7" x2="306" y2="272.7" stroke="#231f20" stroke-width="0.95"/>
<text x="347.2" y="275.9" font-size="10.5" fill="#231f20" text-anchor="middle" textLength="62.1" lengthAdjust="spacingAndGlyphs">CFSE intensity</text>
<line x1="387.7" y1="272.7" x2="405" y2="272.7" stroke="#231f20" stroke-width="0.95"/>
<path d="M410.6 272.7L402.9 269.4L404.3 272.7L402.9 276.0Z" fill="#231f20"/>
<line x1="74" y1="541" x2="202.8" y2="541" stroke="#a8a8a8" stroke-width="0.8"/>
<line x1="202.8" y1="540.9" x2="202.8" y2="644.4" stroke="#a0a0a0" stroke-width="0.7"/>
<path d="M130.2 627.7h1v1h-1zM129.6 629.1h1v1h-1zM133.7 634.3h1v1h-1zM139.2 626.7h1v1h-1zM108.4 627.4h1v1h-1zM130.7 627.1h1v1h-1zM126.0 625.5h1v1h-1zM138.3 634.5h1v1h-1zM139.9 621.0h1v1h-1zM137.0 625.1h1v1h-1zM125.1 627.5h1v1h-1zM133.8 629.0h1v1h-1zM142.3 627.4h1v1h-1zM130.2 635.1h1v1h-1zM126.0 628.8h1v1h-1zM132.4 622.6h1v1h-1zM143.5 621.4h1v1h-1zM145.0 630.6h1v1h-1zM126.1 630.3h1v1h-1zM121.7 631.3h1v1h-1zM142.7 630.3h1v1h-1zM132.5 630.7h1v1h-1zM139.2 630.6h1v1h-1zM124.9 631.4h1v1h-1zM131.5 638.9h1v1h-1zM151.2 624.8h1v1h-1zM113.0 639.2h1v1h-1zM118.3 626.9h1v1h-1zM142.4 629.7h1v1h-1zM120.6 625.4h1v1h-1zM121.3 632.2h1v1h-1zM128.0 625.2h1v1h-1zM137.0 629.4h1v1h-1zM138.4 621.6h1v1h-1zM120.7 619.9h1v1h-1zM130.3 625.4h1v1h-1zM125.2 630.6h1v1h-1zM130.4 628.8h1v1h-1zM134.2 630.1h1v1h-1zM131.5 630.6h1v1h-1zM147.4 617.6h1v1h-1zM137.2 619.2h1v1h-1zM134.3 636.6h1v1h-1zM123.2 637.3h1v1h-1zM135.5 627.2h1v1h-1zM130.5 624.5h1v1h-1zM151.6 626.9h1v1h-1zM127.5 625.2h1v1h-1zM125.5 631.1h1v1h-1zM128.0 634.2h1v1h-1zM125.8 630.0h1v1h-1zM126.2 625.7h1v1h-1zM131.8 633.6h1v1h-1zM124.9 629.0h1v1h-1zM141.4 638.1h1v1h-1zM118.6 617.4h1v1h-1zM136.9 622.8h1v1h-1zM132.6 622.7h1v1h-1zM126.8 628.1h1v1h-1zM126.3 630.4h1v1h-1zM130.8 628.8h1v1h-1zM120.0 627.5h1v1h-1zM127.1 630.3h1v1h-1zM143.9 628.5h1v1h-1zM132.1 623.8h1v1h-1zM139.7 627.7h1v1h-1zM136.5 628.3h1v1h-1zM137.4 633.4h1v1h-1zM126.5 635.3h1v1h-1zM143.6 632.2h1v1h-1zM123.9 631.0h1v1h-1zM120.6 622.7h1v1h-1zM121.7 627.9h1v1h-1zM136.3 625.7h1v1h-1zM135.2 636.2h1v1h-1zM143.6 631.2h1v1h-1zM136.7 629.8h1v1h-1zM131.3 624.3h1v1h-1zM117.0 627.8h1v1h-1zM130.7 630.6h1v1h-1zM142.5 626.6h1v1h-1zM122.2 630.1h1v1h-1zM142.6 630.5h1v1h-1zM132.6 622.0h1v1h-1zM139.0 627.6h1v1h-1zM128.8 626.3h1v1h-1zM133.1 635.5h1v1h-1zM120.6 620.1h1v1h-1zM135.3 631.5h1v1h-1zM141.2 625.7h1v1h-1zM150.4 633.3h1v1h-1zM145.8 629.2h1v1h-1zM127.7 628.8h1v1h-1zM126.5 639.7h1v1h-1zM122.8 632.3h1v1h-1zM132.0 621.9h1v1h-1zM148.6 635.7h1v1h-1zM150.9 626.3h1v1h-1zM129.1 637.3h1v1h-1zM144.3 621.0h1v1h-1zM130.0 632.4h1v1h-1zM121.1 627.4h1v1h-1zM131.9 627.0h1v1h-1zM141.7 626.9h1v1h-1zM121.9 628.3h1v1h-1zM124.4 635.0h1v1h-1zM128.6 620.9h1v1h-1zM131.3 623.5h1v1h-1zM146.5 629.6h1v1h-1zM133.2 629.9h1v1h-1zM131.3 632.0h1v1h-1zM124.9 634.0h1v1h-1zM125.1 629.3h1v1h-1zM129.8 634.5h1v1h-1zM127.9 636.8h1v1h-1zM122.4 621.7h1v1h-1zM131.1 626.4h1v1h-1zM112.4 628.0h1v1h-1zM129.2 630.5h1v1h-1zM147.1 625.4h1v1h-1zM126.0 623.4h1v1h-1zM113.4 626.0h1v1h-1zM145.1 636.0h1v1h-1zM124.5 622.2h1v1h-1zM122.5 629.4h1v1h-1zM142.4 631.7h1v1h-1zM137.1 623.8h1v1h-1zM139.5 632.0h1v1h-1zM142.8 635.5h1v1h-1zM130.4 627.6h1v1h-1zM130.9 622.8h1v1h-1zM134.0 627.7h1v1h-1zM122.7 629.7h1v1h-1zM138.0 629.4h1v1h-1zM128.3 627.3h1v1h-1zM125.5 629.9h1v1h-1zM127.9 630.6h1v1h-1zM135.7 622.6h1v1h-1zM131.5 619.0h1v1h-1zM128.0 625.9h1v1h-1zM144.9 616.9h1v1h-1zM130.9 631.4h1v1h-1zM127.5 630.2h1v1h-1zM121.9 634.6h1v1h-1zM128.3 625.4h1v1h-1zM125.0 630.5h1v1h-1zM138.9 628.0h1v1h-1zM135.4 632.1h1v1h-1zM133.2 628.5h1v1h-1zM132.9 628.9h1v1h-1zM135.2 625.2h1v1h-1zM136.7 632.8h1v1h-1zM134.1 625.1h1v1h-1zM133.0 622.9h1v1h-1zM119.0 622.9h1v1h-1zM141.3 629.5h1v1h-1zM139.0 622.7h1v1h-1zM136.2 621.7h1v1h-1zM123.8 635.1h1v1h-1zM136.1 631.8h1v1h-1zM135.1 628.9h1v1h-1zM125.7 634.2h1v1h-1zM138.5 626.3h1v1h-1zM127.3 623.5h1v1h-1zM141.1 625.9h1v1h-1zM140.8 619.4h1v1h-1zM138.9 620.8h1v1h-1zM124.7 630.2h1v1h-1zM135.8 624.2h1v1h-1zM147.4 625.3h1v1h-1zM145.1 632.7h1v1h-1zM111.8 634.3h1v1h-1zM134.0 643.1h1v1h-1zM136.2 630.9h1v1h-1zM137.4 629.6h1v1h-1zM130.6 629.8h1v1h-1zM142.0 628.1h1v1h-1zM129.6 626.9h1v1h-1zM123.8 632.3h1v1h-1zM130.2 622.0h1v1h-1zM138.4 635.0h1v1h-1zM124.4 630.0h1v1h-1zM125.0 628.0h1v1h-1zM137.5 631.1h1v1h-1zM111.5 630.2h1v1h-1zM124.1 627.8h1v1h-1zM130.0 629.6h1v1h-1zM142.7 630.5h1v1h-1zM132.0 627.2h1v1h-1zM122.3 618.9h1v1h-1zM131.5 630.7h1v1h-1zM103.7 635.8h1v1h-1zM139.2 624.8h1v1h-1zM113.6 627.3h1v1h-1zM135.8 630.2h1v1h-1zM120.0 627.3h1v1h-1zM133.0 626.6h1v1h-1zM133.9 621.7h1v1h-1zM134.5 630.4h1v1h-1zM131.5 635.0h1v1h-1zM136.3 627.1h1v1h-1zM134.1 628.4h1v1h-1zM119.1 629.5h1v1h-1zM134.3 628.9h1v1h-1zM129.8 619.4h1v1h-1zM130.8 631.9h1v1h-1zM135.7 631.6h1v1h-1zM130.8 629.4h1v1h-1zM113.3 630.2h1v1h-1zM129.4 620.8h1v1h-1zM116.5 629.4h1v1h-1zM133.7 624.2h1v1h-1zM136.7 631.2h1v1h-1zM145.5 639.4h1v1h-1zM126.5 636.9h1v1h-1zM130.7 627.5h1v1h-1zM126.8 627.3h1v1h-1zM135.5 627.4h1v1h-1zM147.2 622.6h1v1h-1zM124.0 628.4h1v1h-1zM123.1 623.5h1v1h-1zM129.4 632.2h1v1h-1zM130.8 630.8h1v1h-1zM129.7 632.3h1v1h-1zM111.6 627.4h1v1h-1zM119.2 628.1h1v1h-1zM112.3 626.6h1v1h-1zM126.0 634.9h1v1h-1zM136.2 626.5h1v1h-1zM152.3 622.1h1v1h-1zM125.8 642.5h1v1h-1zM135.5 629.9h1v1h-1zM131.8 625.5h1v1h-1zM133.4 630.6h1v1h-1zM127.0 635.8h1v1h-1zM122.9 632.2h1v1h-1zM126.8 626.6h1v1h-1zM120.8 630.3h1v1h-1zM118.5 631.8h1v1h-1zM136.1 631.4h1v1h-1zM135.0 623.4h1v1h-1zM118.6 634.6h1v1h-1zM134.6 627.5h1v1h-1zM125.9 625.0h1v1h-1zM125.7 623.9h1v1h-1zM131.6 628.8h1v1h-1zM131.6 632.7h1v1h-1zM133.3 618.7h1v1h-1zM145.3 629.6h1v1h-1zM127.5 637.0h1v1h-1zM139.5 633.1h1v1h-1zM125.0 625.4h1v1h-1zM127.2 630.1h1v1h-1zM138.2 618.2h1v1h-1zM119.5 621.0h1v1h-1zM117.2 623.8h1v1h-1zM120.5 639.4h1v1h-1zM132.1 634.7h1v1h-1zM127.2 631.5h1v1h-1zM138.8 625.5h1v1h-1zM123.5 626.7h1v1h-1zM128.8 625.3h1v1h-1zM138.3 634.3h1v1h-1zM143.6 618.2h1v1h-1zM141.9 627.9h1v1h-1zM142.6 627.8h1v1h-1zM124.2 621.5h1v1h-1zM134.3 624.8h1v1h-1zM124.6 620.7h1v1h-1zM132.6 628.5h1v1h-1zM140.4 630.9h1v1h-1zM149.4 631.7h1v1h-1zM118.9 625.4h1v1h-1zM117.1 635.9h1v1h-1zM134.4 627.9h1v1h-1zM131.8 627.2h1v1h-1zM126.0 622.7h1v1h-1zM128.5 622.2h1v1h-1zM130.9 630.9h1v1h-1zM141.4 631.1h1v1h-1zM151.6 619.6h1v1h-1zM140.2 629.6h1v1h-1zM126.7 627.1h1v1h-1zM127.7 632.4h1v1h-1zM133.8 632.1h1v1h-1zM131.9 632.9h1v1h-1zM126.9 623.4h1v1h-1zM138.1 620.4h1v1h-1zM132.3 626.6h1v1h-1zM116.5 627.4h1v1h-1zM127.0 625.1h1v1h-1zM140.6 626.6h1v1h-1zM123.2 630.6h1v1h-1zM112.1 635.9h1v1h-1zM121.6 629.8h1v1h-1zM138.9 622.4h1v1h-1zM110.9 625.7h1v1h-1zM127.1 626.7h1v1h-1zM135.3 628.9h1v1h-1zM119.1 628.2h1v1h-1zM136.9 621.3h1v1h-1zM137.0 634.5h1v1h-1zM127.1 622.5h1v1h-1zM139.3 629.2h1v1h-1zM127.9 624.3h1v1h-1zM129.8 634.2h1v1h-1zM143.0 632.8h1v1h-1zM135.6 627.9h1v1h-1zM135.4 623.5h1v1h-1zM128.5 622.3h1v1h-1zM129.4 634.2h1v1h-1zM129.8 626.7h1v1h-1zM135.9 625.4h1v1h-1zM130.4 633.3h1v1h-1zM139.3 626.0h1v1h-1zM118.9 631.2h1v1h-1zM129.6 637.2h1v1h-1zM135.3 628.7h1v1h-1zM137.2 627.1h1v1h-1zM127.7 625.8h1v1h-1zM132.8 635.0h1v1h-1zM145.0 627.7h1v1h-1zM131.0 626.3h1v1h-1zM136.4 627.9h1v1h-1zM136.8 631.9h1v1h-1zM114.6 637.7h1v1h-1zM119.6 624.3h1v1h-1zM131.4 624.5h1v1h-1zM122.5 625.9h1v1h-1zM122.7 634.4h1v1h-1zM134.5 628.6h1v1h-1zM141.0 630.5h1v1h-1zM123.0 628.0h1v1h-1zM133.2 626.9h1v1h-1zM131.2 626.1h1v1h-1zM130.5 625.7h1v1h-1zM134.0 624.7h1v1h-1zM120.1 629.3h1v1h-1zM128.9 628.5h1v1h-1zM138.5 623.2h1v1h-1zM131.0 630.3h1v1h-1zM134.7 627.6h1v1h-1zM135.0 633.8h1v1h-1zM137.9 637.3h1v1h-1zM141.1 619.6h1v1h-1zM125.1 628.3h1v1h-1zM140.0 624.3h1v1h-1zM133.0 626.6h1v1h-1zM135.8 621.2h1v1h-1zM127.1 627.4h1v1h-1zM129.0 632.0h1v1h-1zM135.5 624.5h1v1h-1zM133.7 628.2h1v1h-1zM132.4 628.9h1v1h-1zM124.4 624.1h1v1h-1zM144.7 634.6h1v1h-1zM135.3 623.9h1v1h-1zM133.2 627.4h1v1h-1zM130.6 631.0h1v1h-1zM146.8 626.6h1v1h-1zM134.8 631.8h1v1h-1zM135.2 609.8h1v1h-1zM159.2 631.5h1v1h-1zM136.8 633.5h1v1h-1zM121.1 626.9h1v1h-1zM136.9 629.8h1v1h-1zM127.4 618.5h1v1h-1zM141.5 620.0h1v1h-1zM134.9 630.2h1v1h-1zM124.5 618.9h1v1h-1zM141.4 633.0h1v1h-1zM115.6 623.4h1v1h-1zM133.4 641.4h1v1h-1zM125.0 630.1h1v1h-1zM129.0 616.4h1v1h-1zM139.9 622.6h1v1h-1zM134.8 627.6h1v1h-1zM121.4 625.6h1v1h-1zM136.3 629.9h1v1h-1zM131.7 629.9h1v1h-1zM125.2 623.5h1v1h-1zM128.3 633.0h1v1h-1zM125.0 632.6h1v1h-1zM129.7 626.8h1v1h-1zM135.3 623.7h1v1h-1zM142.9 623.3h1v1h-1zM131.7 625.5h1v1h-1zM103.7 636.9h1v1h-1zM124.7 632.0h1v1h-1zM122.4 628.4h1v1h-1zM127.8 627.9h1v1h-1zM129.6 627.7h1v1h-1zM128.3 631.6h1v1h-1zM129.6 633.9h1v1h-1zM134.7 624.9h1v1h-1zM132.6 619.0h1v1h-1zM142.3 619.9h1v1h-1zM143.5 623.9h1v1h-1zM123.3 633.5h1v1h-1zM131.4 621.3h1v1h-1zM123.5 623.4h1v1h-1zM142.3 624.0h1v1h-1zM125.7 625.0h1v1h-1zM128.2 630.0h1v1h-1zM130.2 630.6h1v1h-1zM137.3 625.5h1v1h-1zM124.4 623.0h1v1h-1zM145.0 628.9h1v1h-1zM142.4 623.7h1v1h-1zM136.2 630.6h1v1h-1zM122.6 635.2h1v1h-1zM114.1 631.5h1v1h-1zM126.0 631.5h1v1h-1zM139.6 624.9h1v1h-1zM130.9 628.1h1v1h-1zM141.8 630.9h1v1h-1zM130.5 629.0h1v1h-1zM128.7 624.6h1v1h-1zM127.9 635.9h1v1h-1zM127.9 631.0h1v1h-1zM130.3 622.3h1v1h-1zM128.8 628.3h1v1h-1zM123.4 633.0h1v1h-1zM127.9 625.5h1v1h-1zM134.6 629.6h1v1h-1zM130.8 629.7h1v1h-1zM145.4 622.4h1v1h-1zM131.3 631.8h1v1h-1zM127.5 636.8h1v1h-1zM128.7 626.2h1v1h-1zM135.1 632.4h1v1h-1zM132.8 626.1h1v1h-1zM135.8 621.4h1v1h-1zM136.1 627.6h1v1h-1zM127.8 622.0h1v1h-1zM118.0 628.4h1v1h-1zM137.5 622.9h1v1h-1zM133.9 626.9h1v1h-1zM126.2 630.8h1v1h-1zM118.7 629.5h1v1h-1zM126.0 626.1h1v1h-1zM133.1 633.3h1v1h-1zM131.9 625.1h1v1h-1zM136.6 628.8h1v1h-1zM139.5 625.8h1v1h-1zM137.6 622.6h1v1h-1zM128.8 628.3h1v1h-1zM119.0 625.8h1v1h-1zM150.9 625.5h1v1h-1zM119.8 633.1h1v1h-1zM127.5 626.4h1v1h-1zM141.6 626.2h1v1h-1zM127.0 624.6h1v1h-1zM136.4 628.4h1v1h-1zM138.7 621.8h1v1h-1zM130.3 619.2h1v1h-1zM121.2 620.1h1v1h-1zM131.4 634.9h1v1h-1zM131.9 622.5h1v1h-1zM133.6 630.9h1v1h-1zM131.3 632.6h1v1h-1zM121.8 624.6h1v1h-1zM132.8 629.9h1v1h-1zM127.4 632.6h1v1h-1zM144.6 627.7h1v1h-1zM123.1 638.4h1v1h-1zM120.3 635.2h1v1h-1zM142.4 637.6h1v1h-1zM127.8 629.7h1v1h-1zM131.4 625.7h1v1h-1zM125.9 627.3h1v1h-1zM119.2 627.9h1v1h-1zM143.7 632.5h1v1h-1zM120.8 630.2h1v1h-1zM122.9 619.8h1v1h-1zM132.1 628.7h1v1h-1zM126.5 632.8h1v1h-1zM138.1 635.4h1v1h-1zM130.7 630.1h1v1h-1zM141.4 631.4h1v1h-1zM123.8 627.2h1v1h-1zM116.0 633.1h1v1h-1zM126.3 627.9h1v1h-1zM134.2 627.0h1v1h-1zM115.3 624.3h1v1h-1zM134.0 636.1h1v1h-1zM122.6 621.4h1v1h-1zM143.8 625.3h1v1h-1zM139.3 629.5h1v1h-1zM155.2 630.3h1v1h-1zM126.3 628.0h1v1h-1zM140.4 624.6h1v1h-1zM134.9 630.3h1v1h-1zM136.2 630.3h1v1h-1zM132.4 627.5h1v1h-1zM137.9 629.1h1v1h-1zM127.7 625.5h1v1h-1zM118.9 624.5h1v1h-1zM120.2 631.1h1v1h-1zM127.1 630.0h1v1h-1zM139.0 631.4h1v1h-1zM123.1 628.5h1v1h-1zM119.2 625.3h1v1h-1zM136.0 625.1h1v1h-1zM132.3 628.7h1v1h-1zM131.1 637.6h1v1h-1zM133.6 623.0h1v1h-1zM130.0 619.4h1v1h-1zM125.0 631.4h1v1h-1zM135.6 629.5h1v1h-1zM112.5 638.8h1v1h-1zM125.5 625.0h1v1h-1zM125.1 628.6h1v1h-1zM133.0 624.0h1v1h-1zM127.9 637.2h1v1h-1zM141.9 625.0h1v1h-1zM138.7 616.8h1v1h-1zM133.4 620.5h1v1h-1zM142.9 630.2h1v1h-1zM148.1 627.6h1v1h-1zM123.4 629.7h1v1h-1zM136.0 635.2h1v1h-1zM147.0 633.6h1v1h-1zM119.3 630.1h1v1h-1zM137.7 626.0h1v1h-1zM122.7 629.0h1v1h-1zM137.5 628.2h1v1h-1zM119.6 630.5h1v1h-1zM130.5 631.4h1v1h-1zM123.7 630.9h1v1h-1zM148.6 626.8h1v1h-1zM120.7 633.5h1v1h-1zM124.3 633.5h1v1h-1zM135.1 633.9h1v1h-1zM129.9 618.8h1v1h-1zM125.0 634.5h1v1h-1zM129.7 632.1h1v1h-1zM140.4 626.7h1v1h-1zM136.2 629.4h1v1h-1zM131.8 626.4h1v1h-1zM128.9 635.0h1v1h-1zM107.9 632.2h1v1h-1zM121.3 625.4h1v1h-1zM116.1 627.6h1v1h-1zM136.2 624.5h1v1h-1zM124.9 630.6h1v1h-1zM139.0 634.3h1v1h-1zM145.0 622.8h1v1h-1zM134.5 631.7h1v1h-1zM141.9 629.3h1v1h-1zM137.5 632.3h1v1h-1zM123.3 636.9h1v1h-1zM140.3 620.5h1v1h-1zM131.3 627.2h1v1h-1zM128.5 632.4h1v1h-1zM137.3 637.1h1v1h-1zM130.8 630.8h1v1h-1zM128.9 630.1h1v1h-1zM143.3 629.9h1v1h-1zM132.2 619.9h1v1h-1zM122.1 629.6h1v1h-1zM128.9 637.3h1v1h-1zM131.3 628.5h1v1h-1zM132.5 635.7h1v1h-1zM125.6 626.2h1v1h-1zM135.6 625.8h1v1h-1zM129.5 625.2h1v1h-1zM134.3 627.0h1v1h-1zM127.3 620.4h1v1h-1zM143.1 631.8h1v1h-1zM131.5 623.6h1v1h-1zM134.3 630.7h1v1h-1zM120.7 642.4h1v1h-1zM125.9 627.6h1v1h-1zM127.8 615.6h1v1h-1zM132.6 627.5h1v1h-1zM132.9 629.4h1v1h-1zM139.0 630.4h1v1h-1zM127.2 623.1h1v1h-1zM145.7 630.0h1v1h-1zM124.6 623.8h1v1h-1zM137.6 632.3h1v1h-1zM125.3 628.8h1v1h-1zM128.5 629.8h1v1h-1zM128.1 626.2h1v1h-1zM134.9 627.2h1v1h-1zM122.7 642.1h1v1h-1zM134.1 632.5h1v1h-1zM142.6 621.2h1v1h-1zM125.7 628.1h1v1h-1zM143.1 628.2h1v1h-1zM143.6 629.6h1v1h-1zM149.1 628.1h1v1h-1zM138.8 623.6h1v1h-1zM123.7 628.3h1v1h-1zM141.8 626.8h1v1h-1zM124.8 627.7h1v1h-1zM122.1 624.9h1v1h-1zM125.7 628.0h1v1h-1zM126.8 628.4h1v1h-1zM111.4 626.0h1v1h-1zM123.7 631.5h1v1h-1zM135.9 629.9h1v1h-1zM128.3 624.6h1v1h-1zM137.6 623.6h1v1h-1zM119.1 633.4h1v1h-1zM123.7 629.3h1v1h-1zM126.8 634.7h1v1h-1zM115.8 632.3h1v1h-1zM119.1 628.7h1v1h-1zM120.8 632.3h1v1h-1zM143.1 632.7h1v1h-1zM119.8 625.4h1v1h-1zM130.6 626.1h1v1h-1zM110.0 629.3h1v1h-1zM141.9 635.1h1v1h-1zM128.4 627.0h1v1h-1zM130.6 628.3h1v1h-1zM126.2 626.8h1v1h-1zM130.1 627.5h1v1h-1zM126.7 630.2h1v1h-1zM120.4 631.0h1v1h-1zM121.5 631.8h1v1h-1zM127.5 622.7h1v1h-1zM155.1 621.0h1v1h-1zM139.3 632.1h1v1h-1zM132.0 628.3h1v1h-1zM124.7 631.1h1v1h-1zM127.8 633.9h1v1h-1zM136.9 628.5h1v1h-1zM119.2 630.1h1v1h-1zM135.3 624.7h1v1h-1zM137.8 625.1h1v1h-1zM123.6 627.0h1v1h-1zM122.7 631.9h1v1h-1zM134.8 620.3h1v1h-1zM144.2 623.9h1v1h-1zM129.4 626.3h1v1h-1zM126.9 623.0h1v1h-1zM124.8 627.1h1v1h-1zM135.2 629.9h1v1h-1zM129.5 630.9h1v1h-1zM127.1 629.6h1v1h-1zM121.8 625.6h1v1h-1zM126.3 623.8h1v1h-1zM122.0 630.2h1v1h-1zM117.1 622.7h1v1h-1zM141.3 628.6h1v1h-1zM144.5 632.5h1v1h-1zM121.0 632.6h1v1h-1zM133.5 623.4h1v1h-1zM122.4 626.7h1v1h-1zM135.3 629.0h1v1h-1zM139.0 618.9h1v1h-1zM122.6 633.0h1v1h-1zM140.3 626.0h1v1h-1zM136.6 630.8h1v1h-1zM142.8 620.4h1v1h-1zM119.0 627.5h1v1h-1zM144.6 627.2h1v1h-1zM135.2 628.0h1v1h-1zM136.0 633.1h1v1h-1zM135.2 625.3h1v1h-1zM130.3 626.3h1v1h-1zM133.3 623.1h1v1h-1zM142.5 630.6h1v1h-1zM121.6 628.8h1v1h-1zM144.5 623.8h1v1h-1zM147.5 626.6h1v1h-1zM136.3 630.8h1v1h-1zM116.4 632.4h1v1h-1zM135.8 629.4h1v1h-1zM119.8 631.8h1v1h-1zM135.9 632.1h1v1h-1zM126.6 629.2h1v1h-1zM112.4 623.7h1v1h-1zM111.0 628.4h1v1h-1zM110.2 623.3h1v1h-1zM115.3 625.2h1v1h-1zM122.9 631.4h1v1h-1zM114.6 622.9h1v1h-1zM112.9 630.6h1v1h-1zM113.6 620.6h1v1h-1zM116.8 623.9h1v1h-1zM118.3 631.7h1v1h-1zM109.6 623.4h1v1h-1zM112.2 632.7h1v1h-1zM117.9 617.8h1v1h-1zM102.3 620.2h1v1h-1zM100.6 622.3h1v1h-1zM110.6 627.2h1v1h-1zM112.7 622.3h1v1h-1zM110.8 630.8h1v1h-1zM115.4 625.7h1v1h-1zM103.0 619.6h1v1h-1zM112.2 622.5h1v1h-1zM105.2 620.0h1v1h-1zM118.4 611.9h1v1h-1zM115.3 616.8h1v1h-1zM107.9 623.2h1v1h-1zM118.7 625.6h1v1h-1zM116.0 616.9h1v1h-1zM111.9 624.1h1v1h-1zM116.7 625.1h1v1h-1zM114.6 633.4h1v1h-1zM109.9 625.5h1v1h-1zM115.9 617.1h1v1h-1zM120.9 632.1h1v1h-1zM113.8 620.6h1v1h-1zM102.5 626.0h1v1h-1zM103.8 615.0h1v1h-1zM110.0 625.8h1v1h-1zM119.4 636.6h1v1h-1zM115.1 621.5h1v1h-1zM110.6 623.5h1v1h-1zM119.0 626.3h1v1h-1zM121.1 625.6h1v1h-1zM110.4 632.3h1v1h-1zM105.7 629.9h1v1h-1zM112.4 626.1h1v1h-1zM122.0 630.0h1v1h-1zM108.4 630.2h1v1h-1zM116.7 624.6h1v1h-1zM112.9 621.4h1v1h-1zM106.9 625.5h1v1h-1zM116.7 613.5h1v1h-1zM116.3 622.5h1v1h-1zM106.0 624.1h1v1h-1zM110.4 621.7h1v1h-1zM109.0 631.0h1v1h-1zM119.0 631.5h1v1h-1zM109.7 629.4h1v1h-1zM110.4 618.1h1v1h-1zM115.6 630.9h1v1h-1zM109.4 635.7h1v1h-1zM112.0 611.4h1v1h-1zM110.5 623.7h1v1h-1zM117.1 629.9h1v1h-1zM120.3 619.8h1v1h-1zM129.2 624.4h1v1h-1zM126.9 630.0h1v1h-1zM136.2 624.9h1v1h-1zM146.4 625.6h1v1h-1zM159.7 611.8h1v1h-1zM116.7 631.6h1v1h-1zM157.3 630.4h1v1h-1zM128.0 622.2h1v1h-1zM106.2 621.4h1v1h-1zM136.7 623.6h1v1h-1zM105.0 634.5h1v1h-1zM134.5 629.8h1v1h-1zM123.6 617.2h1v1h-1zM119.3 627.6h1v1h-1zM112.0 618.4h1v1h-1zM155.0 633.0h1v1h-1zM112.6 620.2h1v1h-1zM138.3 630.9h1v1h-1zM135.6 615.4h1v1h-1zM131.9 629.6h1v1h-1zM137.2 633.0h1v1h-1zM109.4 627.0h1v1h-1zM136.1 632.3h1v1h-1zM128.5 620.5h1v1h-1zM134.2 631.9h1v1h-1zM127.0 618.4h1v1h-1zM147.0 625.9h1v1h-1zM111.1 628.6h1v1h-1z" fill="#7e7e7e" fill-opacity="0.55"/>
<path d="M130.5 631.7h1v1h-1zM133.5 633.6h1v1h-1zM131.9 627.9h1v1h-1zM134.8 629.3h1v1h-1zM123.4 633.1h1v1h-1zM132.5 632.1h1v1h-1zM127.4 631.1h1v1h-1zM136.0 631.9h1v1h-1zM131.8 629.6h1v1h-1zM126.6 624.9h1v1h-1zM115.3 624.7h1v1h-1zM141.0 631.8h1v1h-1zM148.7 625.4h1v1h-1zM138.7 631.0h1v1h-1zM146.7 622.3h1v1h-1zM133.4 622.6h1v1h-1zM130.4 630.0h1v1h-1zM132.0 625.9h1v1h-1zM117.7 627.7h1v1h-1zM136.0 630.3h1v1h-1zM134.0 638.2h1v1h-1zM142.0 625.2h1v1h-1zM122.7 631.5h1v1h-1zM135.8 625.4h1v1h-1zM115.1 632.9h1v1h-1zM134.6 625.9h1v1h-1zM130.0 636.6h1v1h-1zM135.7 631.3h1v1h-1zM114.3 629.6h1v1h-1zM131.9 630.7h1v1h-1zM111.2 628.5h1v1h-1zM125.6 636.0h1v1h-1zM129.5 639.3h1v1h-1zM111.7 621.1h1v1h-1zM134.4 629.9h1v1h-1zM126.9 626.0h1v1h-1zM146.6 627.4h1v1h-1zM147.7 631.5h1v1h-1zM124.8 638.2h1v1h-1zM134.9 618.6h1v1h-1zM138.3 619.0h1v1h-1zM134.1 624.8h1v1h-1zM124.2 630.0h1v1h-1zM138.5 627.1h1v1h-1zM136.9 627.4h1v1h-1zM123.2 625.6h1v1h-1zM117.9 627.7h1v1h-1zM124.8 637.2h1v1h-1zM137.9 631.4h1v1h-1zM138.7 627.8h1v1h-1zM112.8 631.6h1v1h-1zM137.6 620.9h1v1h-1zM133.5 626.8h1v1h-1zM131.0 628.0h1v1h-1zM128.7 628.5h1v1h-1zM113.7 623.4h1v1h-1zM143.1 622.9h1v1h-1zM126.6 626.1h1v1h-1zM133.1 635.4h1v1h-1zM114.8 634.6h1v1h-1zM122.7 635.3h1v1h-1zM132.6 631.5h1v1h-1zM127.0 629.3h1v1h-1zM137.9 631.8h1v1h-1zM131.7 619.6h1v1h-1zM122.5 622.6h1v1h-1zM140.7 632.6h1v1h-1zM131.4 626.1h1v1h-1zM140.0 626.5h1v1h-1zM138.5 622.8h1v1h-1zM123.5 628.9h1v1h-1zM129.0 623.8h1v1h-1zM118.4 632.4h1v1h-1zM119.7 630.7h1v1h-1zM121.8 637.3h1v1h-1zM116.7 630.1h1v1h-1zM128.8 624.9h1v1h-1zM129.5 625.0h1v1h-1zM133.9 631.2h1v1h-1zM133.7 631.4h1v1h-1zM130.0 626.2h1v1h-1zM132.6 629.7h1v1h-1zM136.2 628.9h1v1h-1zM133.1 625.1h1v1h-1zM122.8 624.7h1v1h-1zM133.1 629.9h1v1h-1zM128.7 623.7h1v1h-1zM121.7 631.8h1v1h-1zM131.4 622.4h1v1h-1zM127.9 628.8h1v1h-1zM137.4 622.7h1v1h-1zM118.9 630.6h1v1h-1zM126.9 632.2h1v1h-1zM135.8 622.6h1v1h-1zM144.3 626.9h1v1h-1zM131.9 625.2h1v1h-1zM126.5 626.6h1v1h-1zM127.2 629.3h1v1h-1zM138.0 627.4h1v1h-1zM128.9 636.7h1v1h-1zM103.7 621.7h1v1h-1zM124.0 630.1h1v1h-1zM131.0 621.2h1v1h-1zM141.6 628.9h1v1h-1zM129.9 623.8h1v1h-1zM121.4 621.9h1v1h-1zM133.2 627.4h1v1h-1zM141.7 631.4h1v1h-1zM129.2 632.9h1v1h-1zM139.9 623.0h1v1h-1zM147.4 627.6h1v1h-1zM125.6 625.1h1v1h-1zM121.1 626.6h1v1h-1zM125.8 621.8h1v1h-1zM125.1 626.2h1v1h-1zM118.3 622.2h1v1h-1zM127.4 636.1h1v1h-1zM134.8 625.0h1v1h-1zM136.2 627.4h1v1h-1zM121.2 635.4h1v1h-1zM140.7 617.8h1v1h-1zM132.1 630.0h1v1h-1zM128.1 633.8h1v1h-1zM140.1 626.1h1v1h-1zM133.7 627.9h1v1h-1zM108.2 626.7h1v1h-1zM124.9 623.2h1v1h-1zM145.1 630.6h1v1h-1zM148.9 627.2h1v1h-1zM147.0 627.9h1v1h-1zM131.2 623.1h1v1h-1zM135.2 619.0h1v1h-1zM127.5 623.8h1v1h-1zM124.1 624.6h1v1h-1zM126.4 620.1h1v1h-1zM126.4 633.1h1v1h-1zM134.4 627.4h1v1h-1zM121.8 626.1h1v1h-1zM127.3 616.7h1v1h-1zM144.7 633.0h1v1h-1zM136.6 622.2h1v1h-1zM129.3 624.8h1v1h-1zM130.0 627.7h1v1h-1zM133.4 622.3h1v1h-1zM126.2 624.3h1v1h-1zM127.1 623.9h1v1h-1zM132.7 630.8h1v1h-1zM128.5 623.4h1v1h-1zM146.9 622.8h1v1h-1zM124.3 636.4h1v1h-1zM122.4 626.1h1v1h-1zM139.4 631.4h1v1h-1zM135.0 630.6h1v1h-1zM131.9 620.5h1v1h-1zM128.0 626.8h1v1h-1zM127.9 633.4h1v1h-1zM121.7 629.0h1v1h-1zM127.2 633.5h1v1h-1zM126.1 628.8h1v1h-1zM129.6 633.2h1v1h-1zM128.4 625.2h1v1h-1zM136.6 631.3h1v1h-1zM120.4 635.1h1v1h-1zM125.9 625.0h1v1h-1zM132.2 630.8h1v1h-1zM139.3 628.8h1v1h-1zM133.4 625.6h1v1h-1zM131.4 623.3h1v1h-1zM155.5 622.1h1v1h-1zM133.0 625.9h1v1h-1zM135.8 625.0h1v1h-1zM133.2 633.3h1v1h-1zM130.0 629.3h1v1h-1zM138.0 621.6h1v1h-1zM137.1 622.9h1v1h-1zM117.8 633.5h1v1h-1zM131.7 631.0h1v1h-1zM134.8 627.9h1v1h-1zM115.2 619.9h1v1h-1zM133.4 620.7h1v1h-1zM118.3 631.0h1v1h-1zM137.1 628.8h1v1h-1zM131.6 625.4h1v1h-1zM142.7 622.6h1v1h-1zM115.8 628.6h1v1h-1zM142.8 630.8h1v1h-1zM137.1 624.8h1v1h-1zM121.2 635.6h1v1h-1zM145.4 630.6h1v1h-1zM121.1 634.9h1v1h-1zM130.6 623.0h1v1h-1zM127.2 638.8h1v1h-1zM142.8 631.2h1v1h-1zM139.8 621.8h1v1h-1zM141.5 633.9h1v1h-1zM138.0 629.9h1v1h-1zM143.9 626.3h1v1h-1zM141.0 638.6h1v1h-1zM125.4 635.4h1v1h-1zM127.2 628.0h1v1h-1zM123.9 622.8h1v1h-1zM124.2 624.3h1v1h-1zM126.1 640.1h1v1h-1zM122.1 631.1h1v1h-1zM136.1 627.7h1v1h-1zM137.5 630.1h1v1h-1zM124.8 627.1h1v1h-1zM141.3 625.8h1v1h-1zM125.9 624.5h1v1h-1zM125.6 632.4h1v1h-1zM126.6 642.5h1v1h-1zM145.2 624.4h1v1h-1zM121.9 630.0h1v1h-1zM131.0 624.5h1v1h-1zM122.6 634.2h1v1h-1zM108.8 632.1h1v1h-1zM123.1 624.4h1v1h-1zM139.1 628.3h1v1h-1zM131.2 626.8h1v1h-1zM140.5 636.8h1v1h-1zM127.1 626.8h1v1h-1zM135.1 635.1h1v1h-1zM127.7 624.6h1v1h-1zM129.7 624.4h1v1h-1zM129.9 626.1h1v1h-1zM140.1 629.3h1v1h-1zM114.3 635.8h1v1h-1zM134.7 627.0h1v1h-1zM135.5 626.1h1v1h-1zM147.6 622.8h1v1h-1zM121.6 627.7h1v1h-1zM124.9 629.8h1v1h-1zM143.1 619.7h1v1h-1zM128.5 631.8h1v1h-1zM144.3 627.9h1v1h-1zM142.3 623.1h1v1h-1zM134.9 630.1h1v1h-1zM128.3 625.9h1v1h-1zM141.5 630.4h1v1h-1zM127.2 628.5h1v1h-1zM121.8 628.7h1v1h-1zM131.2 622.3h1v1h-1zM133.5 627.8h1v1h-1zM140.1 627.5h1v1h-1zM126.9 625.2h1v1h-1zM138.8 628.4h1v1h-1zM128.2 639.5h1v1h-1zM137.4 628.2h1v1h-1zM126.2 630.8h1v1h-1zM130.6 624.4h1v1h-1zM132.8 632.2h1v1h-1zM107.9 630.6h1v1h-1zM121.0 634.7h1v1h-1zM110.2 625.5h1v1h-1zM133.7 626.5h1v1h-1zM137.1 635.2h1v1h-1zM152.1 627.8h1v1h-1zM137.0 637.9h1v1h-1zM121.2 628.8h1v1h-1zM121.8 632.3h1v1h-1zM136.0 631.4h1v1h-1zM141.5 616.7h1v1h-1zM111.9 630.7h1v1h-1zM124.1 622.1h1v1h-1zM123.0 633.7h1v1h-1zM142.3 628.0h1v1h-1zM135.0 626.9h1v1h-1zM124.7 631.7h1v1h-1zM121.6 621.6h1v1h-1zM136.4 632.8h1v1h-1zM137.3 628.8h1v1h-1zM140.6 624.1h1v1h-1zM129.4 624.0h1v1h-1zM124.2 635.8h1v1h-1zM116.0 633.1h1v1h-1zM127.5 643.1h1v1h-1zM142.0 630.9h1v1h-1zM131.0 624.4h1v1h-1zM135.2 632.8h1v1h-1zM127.6 632.8h1v1h-1zM126.7 627.5h1v1h-1zM122.6 631.7h1v1h-1zM137.4 630.4h1v1h-1zM138.5 619.4h1v1h-1zM154.1 623.9h1v1h-1zM135.1 623.9h1v1h-1zM140.9 626.1h1v1h-1zM122.8 632.1h1v1h-1zM141.5 627.3h1v1h-1zM119.6 637.0h1v1h-1zM129.9 627.4h1v1h-1zM138.3 628.1h1v1h-1zM133.1 622.1h1v1h-1zM147.1 634.5h1v1h-1zM118.9 632.1h1v1h-1zM129.2 626.1h1v1h-1zM132.5 633.0h1v1h-1zM124.2 626.5h1v1h-1zM135.4 625.9h1v1h-1zM121.6 625.5h1v1h-1zM127.9 634.8h1v1h-1zM122.4 628.8h1v1h-1zM142.7 627.5h1v1h-1zM136.3 628.2h1v1h-1zM137.0 623.4h1v1h-1zM136.3 632.5h1v1h-1zM135.2 624.1h1v1h-1zM138.6 621.0h1v1h-1zM146.7 626.9h1v1h-1zM133.9 630.4h1v1h-1zM125.4 635.4h1v1h-1zM146.5 625.3h1v1h-1zM127.5 620.2h1v1h-1zM119.6 631.3h1v1h-1zM139.0 626.5h1v1h-1zM129.5 629.9h1v1h-1zM125.4 634.1h1v1h-1zM133.6 623.2h1v1h-1zM129.7 626.3h1v1h-1zM118.3 636.7h1v1h-1zM131.4 628.2h1v1h-1zM142.2 614.9h1v1h-1zM124.5 637.8h1v1h-1zM130.4 628.4h1v1h-1zM124.7 620.5h1v1h-1zM129.6 630.9h1v1h-1zM125.3 620.5h1v1h-1zM149.2 630.3h1v1h-1zM157.2 624.4h1v1h-1zM133.2 616.7h1v1h-1zM134.1 622.8h1v1h-1zM126.2 626.3h1v1h-1zM120.4 622.7h1v1h-1zM139.6 630.3h1v1h-1zM127.9 621.7h1v1h-1zM142.2 633.3h1v1h-1zM144.3 630.2h1v1h-1zM126.9 631.4h1v1h-1zM135.8 625.4h1v1h-1zM143.9 623.5h1v1h-1zM124.3 632.9h1v1h-1zM124.5 629.8h1v1h-1zM127.4 634.8h1v1h-1zM131.9 624.9h1v1h-1zM132.0 628.3h1v1h-1zM128.4 628.7h1v1h-1zM128.9 624.3h1v1h-1zM122.9 627.0h1v1h-1zM130.8 624.4h1v1h-1zM136.6 632.5h1v1h-1zM135.3 630.0h1v1h-1zM137.1 629.9h1v1h-1zM123.5 631.9h1v1h-1zM143.6 615.9h1v1h-1zM130.6 637.0h1v1h-1zM135.3 624.4h1v1h-1zM144.6 628.6h1v1h-1zM126.7 626.4h1v1h-1zM137.2 637.1h1v1h-1zM124.5 633.5h1v1h-1zM135.1 637.8h1v1h-1zM135.5 627.7h1v1h-1zM134.8 637.0h1v1h-1zM136.2 621.3h1v1h-1zM141.4 640.4h1v1h-1zM133.6 633.8h1v1h-1zM135.8 624.6h1v1h-1zM139.8 626.6h1v1h-1zM146.3 624.6h1v1h-1zM132.9 625.1h1v1h-1zM151.8 623.2h1v1h-1zM137.6 627.2h1v1h-1zM140.5 636.1h1v1h-1zM131.5 630.1h1v1h-1zM139.2 624.2h1v1h-1zM129.5 626.0h1v1h-1zM135.6 632.0h1v1h-1zM129.3 628.7h1v1h-1zM136.5 634.7h1v1h-1zM116.3 625.7h1v1h-1zM132.1 629.4h1v1h-1zM118.6 629.9h1v1h-1zM130.7 633.6h1v1h-1zM125.4 633.7h1v1h-1zM114.3 627.7h1v1h-1zM112.6 629.8h1v1h-1zM154.9 625.3h1v1h-1zM119.9 623.0h1v1h-1zM128.2 632.0h1v1h-1zM127.2 630.1h1v1h-1zM129.0 634.2h1v1h-1zM130.7 631.0h1v1h-1zM131.0 618.0h1v1h-1zM130.2 626.5h1v1h-1zM120.5 632.6h1v1h-1zM136.1 623.0h1v1h-1zM137.2 628.5h1v1h-1zM129.0 637.2h1v1h-1zM139.3 636.2h1v1h-1zM129.6 633.0h1v1h-1zM130.4 633.2h1v1h-1zM130.6 628.1h1v1h-1zM125.7 631.9h1v1h-1zM118.6 628.9h1v1h-1zM155.7 631.9h1v1h-1zM140.3 634.1h1v1h-1zM129.2 621.9h1v1h-1zM126.4 627.5h1v1h-1zM114.5 629.3h1v1h-1zM136.9 620.6h1v1h-1zM126.1 636.5h1v1h-1zM113.2 624.3h1v1h-1zM147.8 630.1h1v1h-1zM125.8 635.6h1v1h-1zM129.3 636.4h1v1h-1zM125.5 625.4h1v1h-1zM124.2 636.9h1v1h-1zM137.5 631.2h1v1h-1zM124.9 626.5h1v1h-1zM150.2 623.6h1v1h-1zM135.6 631.9h1v1h-1zM144.5 627.1h1v1h-1zM126.5 629.2h1v1h-1zM127.7 627.1h1v1h-1zM133.4 631.2h1v1h-1zM125.5 629.0h1v1h-1zM129.1 626.3h1v1h-1zM138.9 627.5h1v1h-1zM126.0 635.9h1v1h-1zM125.6 632.8h1v1h-1zM138.3 627.0h1v1h-1zM130.5 627.0h1v1h-1zM135.1 632.2h1v1h-1zM135.3 627.0h1v1h-1zM132.8 622.2h1v1h-1zM142.2 631.4h1v1h-1zM134.4 628.0h1v1h-1zM125.0 629.1h1v1h-1zM116.2 631.7h1v1h-1zM138.8 630.7h1v1h-1zM125.5 628.7h1v1h-1zM120.1 626.9h1v1h-1zM122.5 636.5h1v1h-1zM140.4 633.4h1v1h-1zM116.7 631.7h1v1h-1zM132.8 623.3h1v1h-1zM146.9 623.7h1v1h-1zM137.5 631.2h1v1h-1zM132.0 624.7h1v1h-1zM131.4 624.5h1v1h-1zM126.3 626.1h1v1h-1zM128.8 624.8h1v1h-1zM131.3 619.5h1v1h-1zM128.7 625.9h1v1h-1zM127.4 636.2h1v1h-1zM131.0 622.5h1v1h-1zM114.7 637.3h1v1h-1zM134.9 618.9h1v1h-1zM119.4 624.5h1v1h-1zM123.0 628.7h1v1h-1zM130.2 625.9h1v1h-1zM120.0 629.7h1v1h-1zM122.4 629.0h1v1h-1zM134.4 635.8h1v1h-1zM113.5 633.2h1v1h-1zM139.7 626.2h1v1h-1zM129.0 629.1h1v1h-1zM130.5 628.3h1v1h-1zM118.2 627.8h1v1h-1zM123.9 630.1h1v1h-1zM131.0 633.0h1v1h-1zM120.6 624.0h1v1h-1zM130.3 630.4h1v1h-1zM137.2 631.4h1v1h-1zM135.5 620.9h1v1h-1zM122.5 625.8h1v1h-1zM125.1 624.5h1v1h-1zM141.8 620.3h1v1h-1zM143.0 631.8h1v1h-1zM137.7 625.5h1v1h-1zM127.7 633.2h1v1h-1zM141.0 633.3h1v1h-1zM118.3 623.9h1v1h-1zM133.0 628.7h1v1h-1zM121.1 627.4h1v1h-1zM130.7 624.6h1v1h-1zM135.7 622.1h1v1h-1zM145.6 625.7h1v1h-1zM137.3 628.8h1v1h-1zM125.3 635.4h1v1h-1zM126.7 625.1h1v1h-1zM120.8 636.7h1v1h-1zM142.7 630.6h1v1h-1zM136.8 621.1h1v1h-1zM142.6 629.1h1v1h-1zM140.9 638.2h1v1h-1zM139.7 630.3h1v1h-1zM133.9 625.5h1v1h-1zM132.6 632.9h1v1h-1zM139.7 630.7h1v1h-1zM139.7 632.4h1v1h-1zM141.9 629.1h1v1h-1zM132.5 621.2h1v1h-1zM137.9 624.6h1v1h-1zM123.9 623.2h1v1h-1zM124.1 631.0h1v1h-1zM123.8 633.3h1v1h-1zM123.6 622.5h1v1h-1zM118.6 627.2h1v1h-1zM139.9 625.5h1v1h-1zM123.4 625.3h1v1h-1zM135.3 634.6h1v1h-1zM132.7 629.4h1v1h-1zM122.3 632.9h1v1h-1zM138.5 625.7h1v1h-1zM130.9 633.2h1v1h-1zM143.0 621.5h1v1h-1zM141.0 626.4h1v1h-1zM144.7 627.1h1v1h-1zM131.5 630.4h1v1h-1zM137.0 625.7h1v1h-1zM135.7 625.8h1v1h-1zM125.7 622.7h1v1h-1zM106.0 631.1h1v1h-1zM133.5 634.2h1v1h-1zM129.4 625.9h1v1h-1zM124.7 626.9h1v1h-1zM124.6 633.0h1v1h-1zM139.3 632.2h1v1h-1zM145.0 636.6h1v1h-1zM117.5 628.7h1v1h-1zM146.5 630.3h1v1h-1zM137.7 626.4h1v1h-1zM128.3 626.3h1v1h-1zM126.2 631.4h1v1h-1zM116.1 625.7h1v1h-1zM127.2 625.8h1v1h-1zM132.3 629.3h1v1h-1zM134.0 629.2h1v1h-1zM131.1 631.1h1v1h-1zM142.9 634.0h1v1h-1zM124.7 628.0h1v1h-1zM124.0 624.5h1v1h-1zM123.7 630.6h1v1h-1zM130.4 628.6h1v1h-1zM131.6 628.9h1v1h-1zM124.9 631.8h1v1h-1zM128.6 625.1h1v1h-1zM123.5 624.2h1v1h-1zM133.1 630.3h1v1h-1zM127.3 632.1h1v1h-1zM134.4 627.7h1v1h-1zM133.6 626.1h1v1h-1zM116.8 631.5h1v1h-1zM129.7 627.6h1v1h-1zM135.5 625.6h1v1h-1zM131.8 627.8h1v1h-1zM133.6 629.9h1v1h-1zM126.8 620.9h1v1h-1zM126.2 630.0h1v1h-1zM127.7 635.6h1v1h-1zM141.1 624.6h1v1h-1zM125.9 625.4h1v1h-1zM125.5 624.0h1v1h-1zM128.8 626.9h1v1h-1zM127.5 628.9h1v1h-1zM123.5 633.8h1v1h-1zM132.5 626.8h1v1h-1zM131.2 629.8h1v1h-1zM125.9 628.3h1v1h-1zM141.4 631.7h1v1h-1zM125.0 631.4h1v1h-1zM127.7 632.7h1v1h-1zM133.5 617.7h1v1h-1zM122.7 625.9h1v1h-1zM137.4 621.5h1v1h-1zM128.5 630.6h1v1h-1zM144.0 623.7h1v1h-1zM141.4 624.2h1v1h-1zM122.1 636.1h1v1h-1zM146.7 627.8h1v1h-1zM132.0 629.8h1v1h-1zM129.3 633.1h1v1h-1zM116.3 629.5h1v1h-1zM120.8 624.2h1v1h-1zM127.1 624.4h1v1h-1zM111.6 620.6h1v1h-1zM132.3 619.2h1v1h-1zM145.0 627.9h1v1h-1zM124.8 628.4h1v1h-1zM130.1 627.3h1v1h-1zM140.2 627.9h1v1h-1zM127.7 626.0h1v1h-1zM135.5 633.1h1v1h-1zM127.5 630.4h1v1h-1zM136.2 622.0h1v1h-1zM142.4 635.6h1v1h-1zM132.4 631.7h1v1h-1zM138.6 632.3h1v1h-1zM155.5 626.1h1v1h-1zM137.2 630.7h1v1h-1zM112.3 633.7h1v1h-1zM132.4 621.9h1v1h-1zM127.7 623.8h1v1h-1zM135.2 630.4h1v1h-1zM146.3 626.6h1v1h-1zM125.1 629.8h1v1h-1zM130.9 622.2h1v1h-1zM159.6 630.2h1v1h-1zM138.5 629.0h1v1h-1zM141.5 629.5h1v1h-1zM144.1 624.7h1v1h-1zM134.4 633.1h1v1h-1zM138.7 631.2h1v1h-1zM125.3 632.0h1v1h-1zM137.5 634.5h1v1h-1zM135.5 630.4h1v1h-1zM136.3 625.7h1v1h-1zM119.8 627.4h1v1h-1zM139.4 622.3h1v1h-1zM125.8 623.2h1v1h-1zM135.0 627.3h1v1h-1zM130.2 630.9h1v1h-1zM142.5 632.3h1v1h-1zM128.7 634.8h1v1h-1zM119.2 628.6h1v1h-1zM143.7 628.4h1v1h-1zM119.9 626.9h1v1h-1zM131.1 628.9h1v1h-1zM127.6 632.4h1v1h-1zM140.0 624.1h1v1h-1zM130.3 624.5h1v1h-1zM138.5 627.1h1v1h-1zM117.0 624.3h1v1h-1zM132.2 633.4h1v1h-1zM139.7 625.1h1v1h-1zM116.5 628.4h1v1h-1zM129.9 623.4h1v1h-1zM139.9 630.4h1v1h-1zM137.5 625.4h1v1h-1zM131.3 629.2h1v1h-1zM129.5 624.9h1v1h-1zM118.5 630.7h1v1h-1zM138.5 621.7h1v1h-1zM146.1 625.9h1v1h-1zM126.0 622.1h1v1h-1zM120.9 633.8h1v1h-1zM125.7 633.0h1v1h-1zM133.8 624.3h1v1h-1zM108.8 626.5h1v1h-1zM134.1 622.5h1v1h-1zM123.3 626.2h1v1h-1zM137.4 620.6h1v1h-1zM141.8 623.8h1v1h-1zM136.0 634.7h1v1h-1zM139.5 627.3h1v1h-1zM123.9 633.3h1v1h-1zM132.8 635.5h1v1h-1zM125.9 629.3h1v1h-1zM133.8 629.6h1v1h-1zM125.8 625.1h1v1h-1zM122.4 627.5h1v1h-1zM122.4 629.1h1v1h-1zM118.1 630.3h1v1h-1zM147.8 631.7h1v1h-1zM133.8 624.4h1v1h-1zM130.6 623.6h1v1h-1zM129.9 622.6h1v1h-1zM126.4 626.1h1v1h-1zM132.4 627.7h1v1h-1zM130.5 635.7h1v1h-1zM136.2 626.9h1v1h-1zM135.0 635.5h1v1h-1zM126.9 636.1h1v1h-1zM132.4 627.8h1v1h-1zM119.2 621.5h1v1h-1zM118.9 629.2h1v1h-1zM109.0 631.5h1v1h-1zM117.3 628.3h1v1h-1zM107.7 617.1h1v1h-1zM107.0 616.1h1v1h-1zM119.6 622.2h1v1h-1zM114.0 626.7h1v1h-1zM107.6 627.1h1v1h-1zM114.4 632.0h1v1h-1zM103.0 628.6h1v1h-1zM118.4 621.3h1v1h-1zM114.4 618.9h1v1h-1zM108.2 630.9h1v1h-1zM117.9 627.7h1v1h-1zM109.4 615.0h1v1h-1zM115.8 632.5h1v1h-1zM115.8 620.3h1v1h-1zM115.6 618.1h1v1h-1zM115.7 625.6h1v1h-1zM113.8 626.4h1v1h-1zM117.6 628.6h1v1h-1zM111.1 621.0h1v1h-1zM109.2 622.5h1v1h-1zM114.3 624.4h1v1h-1zM116.1 625.1h1v1h-1zM111.8 621.8h1v1h-1zM115.5 630.3h1v1h-1zM117.5 629.1h1v1h-1zM110.8 621.6h1v1h-1zM112.3 623.7h1v1h-1zM120.9 627.2h1v1h-1zM111.8 618.4h1v1h-1zM119.7 629.7h1v1h-1zM120.0 634.1h1v1h-1zM113.8 627.5h1v1h-1zM107.2 633.7h1v1h-1zM114.3 623.3h1v1h-1zM112.0 616.9h1v1h-1zM112.5 624.8h1v1h-1zM104.1 626.2h1v1h-1zM115.5 624.2h1v1h-1zM118.2 618.5h1v1h-1zM109.2 629.1h1v1h-1zM109.5 626.8h1v1h-1zM112.8 623.3h1v1h-1zM110.9 627.3h1v1h-1zM117.3 628.7h1v1h-1zM110.6 628.2h1v1h-1zM118.6 630.5h1v1h-1zM117.3 613.9h1v1h-1zM115.3 624.4h1v1h-1zM109.5 637.7h1v1h-1zM122.4 628.9h1v1h-1zM109.9 631.0h1v1h-1zM114.8 628.4h1v1h-1zM118.7 634.8h1v1h-1zM115.1 628.0h1v1h-1zM117.3 625.9h1v1h-1zM108.1 628.3h1v1h-1zM109.2 631.8h1v1h-1zM103.0 620.7h1v1h-1zM111.2 629.7h1v1h-1zM137.7 643.1h1v1h-1zM122.8 626.7h1v1h-1zM140.2 621.7h1v1h-1zM129.9 619.5h1v1h-1zM138.1 624.7h1v1h-1zM164.5 634.2h1v1h-1zM126.2 615.6h1v1h-1zM138.0 621.9h1v1h-1zM140.0 620.2h1v1h-1zM140.3 630.8h1v1h-1zM121.0 621.3h1v1h-1zM143.5 629.2h1v1h-1zM124.8 631.6h1v1h-1zM132.3 618.2h1v1h-1zM147.2 632.2h1v1h-1zM137.5 625.3h1v1h-1zM115.0 625.6h1v1h-1zM146.2 623.3h1v1h-1zM120.0 636.2h1v1h-1zM137.2 629.6h1v1h-1zM138.5 627.9h1v1h-1zM120.4 616.8h1v1h-1zM154.8 634.3h1v1h-1zM132.9 636.1h1v1h-1zM146.2 622.0h1v1h-1zM119.2 623.0h1v1h-1zM162.7 640.2h1v1h-1zM144.1 628.6h1v1h-1zM121.1 625.1h1v1h-1z" fill="#7e7e7e" fill-opacity="0.55"/>
<path d="M130.4 621.5h1v1h-1zM137.3 628.5h1v1h-1zM136.2 621.3h1v1h-1zM138.4 622.7h1v1h-1zM137.3 622.3h1v1h-1zM137.1 629.6h1v1h-1zM129.3 639.4h1v1h-1zM144.1 627.0h1v1h-1zM128.7 632.0h1v1h-1zM139.9 625.1h1v1h-1zM126.5 630.7h1v1h-1zM133.9 623.5h1v1h-1zM145.5 627.8h1v1h-1zM110.6 633.4h1v1h-1zM127.7 635.0h1v1h-1zM139.3 627.8h1v1h-1zM146.9 619.4h1v1h-1zM120.5 630.2h1v1h-1zM133.8 632.0h1v1h-1zM125.3 634.2h1v1h-1zM133.6 626.9h1v1h-1zM116.3 631.0h1v1h-1zM129.8 621.6h1v1h-1zM135.0 632.8h1v1h-1zM128.8 628.2h1v1h-1zM125.4 629.2h1v1h-1zM122.6 630.5h1v1h-1zM142.9 626.3h1v1h-1zM143.8 637.3h1v1h-1zM136.6 625.8h1v1h-1zM135.5 635.2h1v1h-1zM140.2 630.0h1v1h-1zM144.8 620.8h1v1h-1zM130.9 628.0h1v1h-1zM140.2 631.4h1v1h-1zM112.4 630.7h1v1h-1zM127.0 626.0h1v1h-1zM140.6 624.4h1v1h-1zM136.5 619.2h1v1h-1zM121.3 632.8h1v1h-1zM145.7 628.4h1v1h-1zM132.5 626.2h1v1h-1zM133.3 625.1h1v1h-1zM125.9 625.2h1v1h-1zM138.2 627.0h1v1h-1zM122.8 633.1h1v1h-1zM130.8 621.5h1v1h-1zM130.1 624.7h1v1h-1zM143.8 624.9h1v1h-1zM121.0 631.8h1v1h-1zM133.0 625.6h1v1h-1zM128.6 625.7h1v1h-1zM120.8 632.6h1v1h-1zM131.6 620.4h1v1h-1zM131.6 637.4h1v1h-1zM140.9 623.6h1v1h-1zM124.8 629.5h1v1h-1zM137.9 629.7h1v1h-1zM130.6 626.8h1v1h-1zM119.8 625.7h1v1h-1zM144.7 618.2h1v1h-1zM129.5 629.0h1v1h-1zM130.0 627.8h1v1h-1zM139.7 629.2h1v1h-1zM131.4 630.3h1v1h-1zM123.0 622.7h1v1h-1zM125.8 627.6h1v1h-1zM141.1 616.7h1v1h-1zM130.7 626.7h1v1h-1zM149.8 636.1h1v1h-1zM141.1 620.6h1v1h-1zM129.2 616.6h1v1h-1zM129.5 637.6h1v1h-1zM130.0 629.3h1v1h-1zM129.4 625.0h1v1h-1zM126.9 622.5h1v1h-1zM122.8 626.5h1v1h-1zM131.5 630.8h1v1h-1zM117.4 630.3h1v1h-1zM132.1 629.1h1v1h-1zM138.4 623.9h1v1h-1zM140.9 625.7h1v1h-1zM124.6 627.4h1v1h-1zM122.0 628.4h1v1h-1zM130.2 617.2h1v1h-1zM141.1 627.7h1v1h-1zM123.8 619.3h1v1h-1zM120.0 621.2h1v1h-1zM130.4 630.8h1v1h-1zM140.6 628.9h1v1h-1zM164.5 620.2h1v1h-1zM136.3 626.5h1v1h-1zM123.1 621.0h1v1h-1zM124.2 630.1h1v1h-1zM122.7 627.8h1v1h-1zM112.3 626.7h1v1h-1zM137.6 632.8h1v1h-1zM136.6 623.2h1v1h-1zM123.3 627.6h1v1h-1zM113.8 635.3h1v1h-1zM126.5 629.0h1v1h-1zM136.6 634.6h1v1h-1zM134.8 623.9h1v1h-1zM116.5 624.6h1v1h-1zM128.6 626.4h1v1h-1zM142.0 620.2h1v1h-1zM142.8 630.2h1v1h-1zM138.1 624.3h1v1h-1zM138.1 632.4h1v1h-1zM132.6 638.6h1v1h-1zM142.3 623.5h1v1h-1zM131.5 637.4h1v1h-1zM138.9 627.6h1v1h-1zM143.0 629.4h1v1h-1zM123.5 624.1h1v1h-1zM126.9 625.6h1v1h-1zM133.6 630.4h1v1h-1zM136.1 623.3h1v1h-1zM148.6 625.1h1v1h-1zM142.4 628.0h1v1h-1zM136.5 630.1h1v1h-1zM140.1 618.6h1v1h-1zM146.6 632.8h1v1h-1zM131.3 625.7h1v1h-1zM125.0 632.6h1v1h-1zM125.9 632.5h1v1h-1zM130.0 628.0h1v1h-1zM133.1 631.4h1v1h-1zM134.4 630.1h1v1h-1zM132.1 632.5h1v1h-1zM133.3 622.8h1v1h-1zM121.8 628.5h1v1h-1zM134.4 627.2h1v1h-1zM118.6 642.8h1v1h-1zM122.7 622.6h1v1h-1zM128.1 629.7h1v1h-1zM133.4 626.5h1v1h-1zM129.3 630.7h1v1h-1zM124.9 626.4h1v1h-1zM121.5 635.0h1v1h-1zM130.2 627.7h1v1h-1zM131.0 628.9h1v1h-1zM131.4 625.2h1v1h-1zM134.0 629.0h1v1h-1zM124.9 630.2h1v1h-1zM130.2 627.3h1v1h-1zM131.2 632.6h1v1h-1zM139.5 620.5h1v1h-1zM121.3 626.4h1v1h-1zM119.2 623.4h1v1h-1zM125.5 631.3h1v1h-1zM138.3 625.5h1v1h-1zM119.6 624.6h1v1h-1zM112.5 633.2h1v1h-1zM140.1 629.8h1v1h-1zM147.1 630.2h1v1h-1zM116.8 626.8h1v1h-1zM133.3 629.6h1v1h-1zM131.6 633.4h1v1h-1zM125.2 634.2h1v1h-1zM129.4 621.9h1v1h-1zM144.8 625.9h1v1h-1zM136.6 621.6h1v1h-1zM126.1 632.2h1v1h-1zM146.5 631.4h1v1h-1zM132.0 625.9h1v1h-1zM123.1 630.9h1v1h-1zM124.1 628.1h1v1h-1zM124.5 629.9h1v1h-1zM131.5 635.1h1v1h-1zM132.1 624.7h1v1h-1zM130.3 629.4h1v1h-1zM146.8 623.4h1v1h-1zM140.4 633.3h1v1h-1zM130.0 622.9h1v1h-1zM127.4 629.3h1v1h-1zM120.5 632.0h1v1h-1zM121.2 628.3h1v1h-1zM131.5 629.2h1v1h-1zM130.2 629.7h1v1h-1zM120.6 623.0h1v1h-1zM151.3 629.6h1v1h-1zM122.0 635.5h1v1h-1zM138.4 625.0h1v1h-1zM131.0 626.6h1v1h-1zM127.3 634.7h1v1h-1zM138.6 627.8h1v1h-1zM122.2 618.8h1v1h-1zM125.7 632.3h1v1h-1zM121.8 626.6h1v1h-1zM122.9 633.0h1v1h-1zM127.0 628.9h1v1h-1zM135.9 624.7h1v1h-1zM142.8 624.6h1v1h-1zM142.5 628.5h1v1h-1zM145.5 627.3h1v1h-1zM118.9 631.6h1v1h-1zM113.9 634.0h1v1h-1zM119.6 638.5h1v1h-1zM128.0 634.1h1v1h-1zM118.1 624.0h1v1h-1zM122.8 622.7h1v1h-1zM115.7 630.6h1v1h-1zM134.9 634.2h1v1h-1zM123.7 633.4h1v1h-1zM122.4 633.4h1v1h-1zM132.4 622.9h1v1h-1zM137.5 627.2h1v1h-1zM114.9 627.7h1v1h-1zM126.3 627.5h1v1h-1zM129.6 626.4h1v1h-1zM134.8 633.4h1v1h-1zM123.2 625.6h1v1h-1zM123.0 636.6h1v1h-1zM143.1 626.7h1v1h-1zM134.6 620.3h1v1h-1zM134.2 626.0h1v1h-1zM139.3 633.6h1v1h-1zM135.4 630.5h1v1h-1zM127.0 632.4h1v1h-1zM131.7 634.3h1v1h-1zM128.2 632.6h1v1h-1zM147.6 626.0h1v1h-1zM125.2 630.2h1v1h-1zM122.8 625.0h1v1h-1zM130.7 626.4h1v1h-1zM138.7 624.2h1v1h-1zM121.8 626.6h1v1h-1zM157.9 618.6h1v1h-1zM142.9 627.8h1v1h-1zM147.4 623.7h1v1h-1zM137.1 634.9h1v1h-1zM136.4 623.1h1v1h-1zM131.1 631.8h1v1h-1zM130.4 626.9h1v1h-1zM129.9 630.7h1v1h-1zM131.3 622.1h1v1h-1zM131.7 636.2h1v1h-1zM141.8 629.8h1v1h-1zM134.7 634.0h1v1h-1zM140.7 629.5h1v1h-1zM139.3 629.0h1v1h-1zM118.8 633.7h1v1h-1zM144.6 620.0h1v1h-1zM136.2 633.2h1v1h-1zM126.4 623.6h1v1h-1zM130.8 626.2h1v1h-1zM133.4 629.0h1v1h-1zM135.1 637.2h1v1h-1zM120.8 625.3h1v1h-1zM151.4 631.0h1v1h-1zM143.8 624.9h1v1h-1zM114.6 631.3h1v1h-1zM127.1 627.9h1v1h-1zM130.6 625.5h1v1h-1zM129.7 622.7h1v1h-1zM135.8 627.5h1v1h-1zM117.1 627.0h1v1h-1zM151.7 634.4h1v1h-1zM132.4 630.9h1v1h-1zM119.4 635.4h1v1h-1zM125.1 624.7h1v1h-1zM119.3 627.6h1v1h-1zM117.1 634.2h1v1h-1zM125.4 623.3h1v1h-1zM127.7 641.3h1v1h-1zM135.6 629.6h1v1h-1zM122.1 632.5h1v1h-1zM131.7 626.3h1v1h-1zM117.4 632.8h1v1h-1zM143.9 620.2h1v1h-1zM151.3 629.0h1v1h-1zM136.1 629.3h1v1h-1zM148.3 637.8h1v1h-1zM123.4 635.8h1v1h-1zM123.3 629.3h1v1h-1zM135.6 621.1h1v1h-1zM132.2 628.6h1v1h-1zM123.0 627.5h1v1h-1zM129.2 633.0h1v1h-1zM128.0 630.4h1v1h-1zM137.4 629.6h1v1h-1zM139.0 626.5h1v1h-1zM136.2 627.6h1v1h-1zM128.0 635.6h1v1h-1zM140.1 631.6h1v1h-1zM129.1 623.8h1v1h-1zM127.1 626.2h1v1h-1zM123.0 632.3h1v1h-1zM119.3 627.9h1v1h-1zM144.7 626.6h1v1h-1zM120.9 628.9h1v1h-1zM123.4 629.0h1v1h-1zM136.3 631.1h1v1h-1zM128.4 632.2h1v1h-1zM138.0 627.5h1v1h-1zM136.5 634.1h1v1h-1zM129.8 625.5h1v1h-1zM127.0 633.3h1v1h-1zM124.5 626.7h1v1h-1zM135.6 629.3h1v1h-1zM137.1 631.4h1v1h-1zM126.7 629.0h1v1h-1zM140.5 616.7h1v1h-1zM133.4 628.8h1v1h-1zM130.8 620.5h1v1h-1zM132.6 627.1h1v1h-1zM132.8 636.7h1v1h-1zM133.1 631.3h1v1h-1zM129.8 632.1h1v1h-1zM155.5 619.4h1v1h-1zM132.5 621.4h1v1h-1zM134.3 626.8h1v1h-1zM146.7 627.3h1v1h-1zM125.5 628.2h1v1h-1zM122.2 627.0h1v1h-1zM143.8 633.9h1v1h-1zM128.5 626.4h1v1h-1zM136.0 632.1h1v1h-1zM126.9 629.1h1v1h-1zM127.4 629.9h1v1h-1zM141.4 633.7h1v1h-1zM125.9 624.8h1v1h-1zM135.0 629.2h1v1h-1zM130.9 630.4h1v1h-1zM127.4 625.4h1v1h-1zM141.4 626.1h1v1h-1zM135.8 627.1h1v1h-1zM131.7 627.5h1v1h-1zM124.3 625.0h1v1h-1zM127.6 633.9h1v1h-1zM130.1 626.9h1v1h-1zM120.0 631.2h1v1h-1zM142.7 637.3h1v1h-1zM129.3 638.2h1v1h-1zM128.4 627.8h1v1h-1zM140.7 631.3h1v1h-1zM123.0 629.9h1v1h-1zM124.7 630.9h1v1h-1zM136.0 626.3h1v1h-1zM135.9 624.6h1v1h-1zM120.0 630.7h1v1h-1zM140.5 627.9h1v1h-1zM122.1 621.6h1v1h-1zM145.4 627.1h1v1h-1zM135.2 627.8h1v1h-1zM137.8 627.1h1v1h-1zM131.0 630.3h1v1h-1zM122.4 632.3h1v1h-1zM125.1 620.9h1v1h-1zM125.0 633.3h1v1h-1zM131.4 624.9h1v1h-1zM142.7 633.8h1v1h-1zM134.7 628.4h1v1h-1zM140.9 629.0h1v1h-1zM134.4 631.0h1v1h-1zM129.0 633.2h1v1h-1zM119.2 628.3h1v1h-1zM112.2 630.9h1v1h-1zM132.0 626.8h1v1h-1zM127.7 625.7h1v1h-1zM133.9 624.0h1v1h-1zM133.3 627.7h1v1h-1zM139.0 624.1h1v1h-1zM151.2 626.9h1v1h-1zM143.1 628.3h1v1h-1zM139.7 626.1h1v1h-1zM143.9 625.8h1v1h-1zM126.9 627.2h1v1h-1zM109.5 639.6h1v1h-1zM112.6 625.5h1v1h-1zM143.2 631.3h1v1h-1zM131.3 630.6h1v1h-1zM123.5 633.1h1v1h-1zM146.7 631.2h1v1h-1zM130.2 622.7h1v1h-1zM136.4 627.0h1v1h-1zM129.0 621.2h1v1h-1zM136.2 631.6h1v1h-1zM135.0 631.5h1v1h-1zM140.8 630.8h1v1h-1zM132.5 632.0h1v1h-1zM143.0 626.3h1v1h-1zM113.5 631.4h1v1h-1zM135.6 621.4h1v1h-1zM133.1 626.0h1v1h-1zM130.5 638.7h1v1h-1zM114.2 632.2h1v1h-1zM118.9 625.3h1v1h-1zM126.5 632.8h1v1h-1zM121.0 624.7h1v1h-1zM132.9 627.7h1v1h-1zM134.7 626.3h1v1h-1zM133.8 631.2h1v1h-1zM135.6 631.4h1v1h-1zM139.8 620.1h1v1h-1zM119.0 629.2h1v1h-1zM124.5 626.7h1v1h-1zM137.5 633.1h1v1h-1zM146.7 628.2h1v1h-1zM131.3 636.8h1v1h-1zM131.4 633.6h1v1h-1zM136.2 624.3h1v1h-1zM120.4 622.1h1v1h-1zM144.4 622.4h1v1h-1zM138.3 627.8h1v1h-1zM130.6 625.2h1v1h-1zM141.2 619.6h1v1h-1zM136.9 634.4h1v1h-1zM128.2 631.8h1v1h-1zM148.1 631.3h1v1h-1zM135.3 630.5h1v1h-1zM133.3 623.0h1v1h-1zM138.8 634.7h1v1h-1zM139.9 626.7h1v1h-1zM136.3 634.5h1v1h-1zM127.0 627.3h1v1h-1zM153.5 616.8h1v1h-1zM126.3 630.7h1v1h-1zM130.1 627.5h1v1h-1zM130.5 627.7h1v1h-1zM127.3 622.6h1v1h-1zM133.5 626.3h1v1h-1zM130.6 634.1h1v1h-1zM138.7 626.1h1v1h-1zM140.4 630.7h1v1h-1zM127.6 629.2h1v1h-1zM143.8 631.8h1v1h-1zM118.5 622.8h1v1h-1zM118.6 635.4h1v1h-1zM136.4 627.0h1v1h-1zM130.2 629.4h1v1h-1zM129.2 629.3h1v1h-1zM109.2 625.1h1v1h-1zM131.6 632.7h1v1h-1zM128.3 626.5h1v1h-1zM134.3 627.9h1v1h-1zM115.1 632.7h1v1h-1zM131.3 628.4h1v1h-1zM121.3 619.2h1v1h-1zM118.8 630.6h1v1h-1zM138.6 627.0h1v1h-1zM130.8 626.3h1v1h-1zM130.6 626.3h1v1h-1zM119.5 619.6h1v1h-1zM121.1 629.8h1v1h-1zM116.8 623.9h1v1h-1zM154.3 623.8h1v1h-1zM126.3 620.0h1v1h-1zM124.1 634.7h1v1h-1zM137.6 630.8h1v1h-1zM127.7 637.5h1v1h-1zM131.5 625.6h1v1h-1zM147.3 628.9h1v1h-1zM132.7 636.4h1v1h-1zM139.0 627.2h1v1h-1zM140.8 618.7h1v1h-1zM138.7 627.0h1v1h-1zM121.4 631.8h1v1h-1zM135.9 631.4h1v1h-1zM121.8 635.5h1v1h-1zM127.7 628.2h1v1h-1zM102.3 627.7h1v1h-1zM122.2 624.9h1v1h-1zM124.6 628.0h1v1h-1zM136.1 626.2h1v1h-1zM143.5 630.2h1v1h-1zM146.5 626.0h1v1h-1zM134.0 629.0h1v1h-1zM125.1 625.3h1v1h-1zM119.8 625.6h1v1h-1zM132.4 623.4h1v1h-1zM134.7 622.6h1v1h-1zM116.5 637.7h1v1h-1zM138.6 626.5h1v1h-1zM134.8 630.9h1v1h-1zM157.3 620.2h1v1h-1zM123.6 629.4h1v1h-1zM119.9 631.3h1v1h-1zM138.1 628.0h1v1h-1zM138.6 624.2h1v1h-1zM134.6 626.2h1v1h-1zM129.3 628.5h1v1h-1zM141.4 627.6h1v1h-1zM121.2 630.4h1v1h-1zM136.8 632.8h1v1h-1zM123.2 629.5h1v1h-1zM138.5 625.4h1v1h-1zM115.1 628.5h1v1h-1zM122.0 621.9h1v1h-1zM121.4 629.6h1v1h-1zM132.9 631.2h1v1h-1zM121.5 629.8h1v1h-1zM138.1 633.4h1v1h-1zM122.3 625.6h1v1h-1zM149.2 626.6h1v1h-1zM127.8 625.6h1v1h-1zM136.1 630.0h1v1h-1zM129.6 627.7h1v1h-1zM140.3 618.9h1v1h-1zM133.5 636.5h1v1h-1zM135.4 629.5h1v1h-1zM136.7 634.8h1v1h-1zM128.1 632.7h1v1h-1zM129.4 635.5h1v1h-1zM131.3 632.4h1v1h-1zM118.6 631.8h1v1h-1zM130.1 625.9h1v1h-1zM137.2 629.2h1v1h-1zM128.7 622.5h1v1h-1zM133.9 624.6h1v1h-1zM131.5 628.5h1v1h-1zM117.2 628.7h1v1h-1zM138.4 627.0h1v1h-1zM134.2 629.3h1v1h-1zM119.4 626.1h1v1h-1zM120.2 630.8h1v1h-1zM132.5 632.3h1v1h-1zM124.0 621.4h1v1h-1zM144.1 625.1h1v1h-1zM133.5 631.6h1v1h-1zM120.2 624.1h1v1h-1zM145.6 621.6h1v1h-1zM146.4 630.0h1v1h-1zM145.0 626.3h1v1h-1zM126.3 626.5h1v1h-1zM134.9 635.1h1v1h-1zM132.0 630.5h1v1h-1zM140.9 634.4h1v1h-1zM133.1 624.4h1v1h-1zM119.2 630.3h1v1h-1zM135.9 628.3h1v1h-1zM133.1 624.0h1v1h-1zM128.2 626.8h1v1h-1zM136.2 629.2h1v1h-1zM115.0 632.9h1v1h-1zM129.7 621.8h1v1h-1zM139.5 623.7h1v1h-1zM121.2 621.2h1v1h-1zM144.3 628.6h1v1h-1zM109.6 634.3h1v1h-1zM119.1 628.4h1v1h-1zM131.0 632.4h1v1h-1zM150.3 621.6h1v1h-1zM125.1 632.3h1v1h-1zM130.7 633.3h1v1h-1zM130.8 620.0h1v1h-1zM129.8 635.0h1v1h-1zM129.8 635.8h1v1h-1zM141.0 612.1h1v1h-1zM132.0 626.6h1v1h-1zM132.3 624.8h1v1h-1zM106.8 628.6h1v1h-1zM141.4 625.5h1v1h-1zM141.0 631.9h1v1h-1zM146.4 629.3h1v1h-1zM116.6 622.3h1v1h-1zM136.0 630.4h1v1h-1zM128.4 624.6h1v1h-1zM133.6 631.0h1v1h-1zM136.1 629.2h1v1h-1zM132.2 629.2h1v1h-1zM123.3 632.7h1v1h-1zM128.3 628.4h1v1h-1zM116.4 625.8h1v1h-1zM149.8 631.6h1v1h-1zM112.1 626.0h1v1h-1zM138.3 629.6h1v1h-1zM124.9 628.4h1v1h-1zM125.4 632.9h1v1h-1zM148.8 641.0h1v1h-1zM132.3 623.4h1v1h-1zM130.9 640.3h1v1h-1zM139.0 627.6h1v1h-1zM129.7 634.4h1v1h-1zM123.7 633.6h1v1h-1zM128.9 620.5h1v1h-1zM127.1 635.9h1v1h-1zM116.2 634.3h1v1h-1zM126.0 631.5h1v1h-1zM130.5 623.9h1v1h-1zM134.0 629.6h1v1h-1zM134.7 630.0h1v1h-1zM131.6 630.2h1v1h-1zM127.0 632.1h1v1h-1zM126.9 629.7h1v1h-1zM133.7 629.2h1v1h-1zM138.9 631.1h1v1h-1zM117.3 630.3h1v1h-1zM135.0 631.5h1v1h-1zM129.2 637.6h1v1h-1zM113.8 638.5h1v1h-1zM112.1 632.7h1v1h-1zM126.8 632.3h1v1h-1zM144.9 620.6h1v1h-1zM129.4 626.9h1v1h-1zM144.9 637.4h1v1h-1zM136.9 619.2h1v1h-1zM144.0 635.9h1v1h-1zM141.8 622.4h1v1h-1zM147.6 620.4h1v1h-1zM130.3 634.5h1v1h-1zM119.5 629.3h1v1h-1zM146.2 628.8h1v1h-1zM149.9 631.2h1v1h-1zM129.4 629.3h1v1h-1zM113.8 628.3h1v1h-1zM122.7 628.6h1v1h-1zM125.5 631.2h1v1h-1zM141.9 634.4h1v1h-1zM137.5 631.5h1v1h-1zM131.5 635.5h1v1h-1zM124.5 633.3h1v1h-1zM133.7 618.0h1v1h-1zM124.9 630.9h1v1h-1zM126.7 626.3h1v1h-1zM123.0 626.3h1v1h-1zM116.1 626.6h1v1h-1zM135.4 624.8h1v1h-1zM127.2 622.9h1v1h-1zM128.9 632.8h1v1h-1zM129.1 625.1h1v1h-1zM113.6 619.9h1v1h-1zM127.1 633.9h1v1h-1zM126.0 629.0h1v1h-1zM144.1 633.5h1v1h-1zM137.4 628.1h1v1h-1zM128.3 624.7h1v1h-1zM122.3 620.0h1v1h-1zM123.6 636.0h1v1h-1zM125.6 628.2h1v1h-1zM156.3 629.0h1v1h-1zM131.6 621.1h1v1h-1zM137.3 626.9h1v1h-1zM141.5 628.4h1v1h-1zM142.6 634.9h1v1h-1zM129.1 623.1h1v1h-1zM141.7 629.2h1v1h-1zM134.0 631.7h1v1h-1zM123.9 625.1h1v1h-1zM131.6 630.2h1v1h-1zM133.8 629.2h1v1h-1zM125.8 626.2h1v1h-1zM126.9 629.3h1v1h-1zM125.3 629.6h1v1h-1zM123.6 622.0h1v1h-1zM138.7 634.8h1v1h-1zM122.3 622.5h1v1h-1zM125.5 631.7h1v1h-1zM132.6 635.1h1v1h-1zM116.1 626.7h1v1h-1zM124.1 632.7h1v1h-1zM136.5 628.0h1v1h-1zM126.9 634.3h1v1h-1zM132.5 628.6h1v1h-1zM144.5 629.7h1v1h-1zM125.4 631.4h1v1h-1zM116.5 636.6h1v1h-1zM145.5 628.0h1v1h-1zM116.6 631.8h1v1h-1zM128.0 631.0h1v1h-1zM123.4 627.8h1v1h-1zM140.4 633.6h1v1h-1zM140.0 630.5h1v1h-1zM139.1 629.2h1v1h-1zM146.8 625.1h1v1h-1zM140.7 629.6h1v1h-1zM140.6 630.4h1v1h-1zM135.7 629.9h1v1h-1zM115.8 630.4h1v1h-1zM103.5 631.0h1v1h-1zM124.4 634.5h1v1h-1zM131.7 622.7h1v1h-1zM140.1 625.5h1v1h-1zM118.1 623.6h1v1h-1zM106.3 630.4h1v1h-1zM115.7 630.7h1v1h-1zM113.8 629.0h1v1h-1zM119.8 622.8h1v1h-1zM101.0 619.7h1v1h-1zM116.6 623.1h1v1h-1zM113.8 620.2h1v1h-1zM119.2 622.0h1v1h-1zM119.8 620.9h1v1h-1zM117.2 630.8h1v1h-1zM101.2 623.9h1v1h-1zM125.4 625.3h1v1h-1zM107.3 629.1h1v1h-1zM113.7 617.8h1v1h-1zM109.8 621.5h1v1h-1zM108.2 621.8h1v1h-1zM114.4 625.0h1v1h-1zM105.7 626.9h1v1h-1zM109.8 620.4h1v1h-1zM109.9 633.3h1v1h-1zM114.1 621.6h1v1h-1zM119.5 624.0h1v1h-1zM115.0 626.9h1v1h-1zM120.8 630.7h1v1h-1zM119.2 628.9h1v1h-1zM109.1 620.3h1v1h-1zM119.7 622.8h1v1h-1zM116.9 627.7h1v1h-1zM116.1 633.4h1v1h-1zM110.5 621.8h1v1h-1zM115.8 623.6h1v1h-1zM111.5 628.0h1v1h-1zM116.3 621.5h1v1h-1zM108.2 626.4h1v1h-1zM112.4 623.4h1v1h-1zM106.0 619.6h1v1h-1zM116.6 620.5h1v1h-1zM113.1 629.5h1v1h-1zM114.4 624.8h1v1h-1zM115.4 620.1h1v1h-1zM111.0 631.9h1v1h-1zM118.4 625.8h1v1h-1zM106.4 617.6h1v1h-1zM118.9 622.9h1v1h-1zM120.1 622.5h1v1h-1zM111.3 624.3h1v1h-1zM119.1 622.5h1v1h-1zM111.3 621.4h1v1h-1zM110.3 619.4h1v1h-1zM122.7 629.2h1v1h-1zM111.7 632.6h1v1h-1zM110.4 624.3h1v1h-1zM114.3 637.1h1v1h-1zM109.9 615.9h1v1h-1zM99.8 626.3h1v1h-1zM112.0 621.0h1v1h-1zM117.2 626.1h1v1h-1zM110.3 629.0h1v1h-1zM116.4 629.4h1v1h-1zM108.9 625.7h1v1h-1zM105.9 627.7h1v1h-1zM140.2 620.6h1v1h-1zM131.5 628.5h1v1h-1zM124.1 635.7h1v1h-1zM124.0 631.1h1v1h-1zM157.2 626.4h1v1h-1zM126.9 625.5h1v1h-1zM132.2 624.0h1v1h-1zM137.9 630.4h1v1h-1zM117.4 624.2h1v1h-1zM115.2 614.8h1v1h-1zM137.2 626.9h1v1h-1zM129.6 623.7h1v1h-1zM137.5 624.4h1v1h-1zM99.7 624.0h1v1h-1zM150.2 617.6h1v1h-1zM133.0 626.0h1v1h-1zM137.6 631.1h1v1h-1zM109.7 623.3h1v1h-1zM127.0 633.2h1v1h-1zM157.3 629.3h1v1h-1zM150.9 632.1h1v1h-1zM136.5 618.9h1v1h-1zM138.4 611.6h1v1h-1zM163.9 620.9h1v1h-1zM146.9 632.4h1v1h-1zM138.3 626.5h1v1h-1zM140.5 625.8h1v1h-1zM136.8 629.4h1v1h-1zM140.5 630.8h1v1h-1zM137.6 623.4h1v1h-1z" fill="#7e7e7e" fill-opacity="0.55"/>
<path d="M134.4 626.9h1v1h-1zM125.0 624.2h1v1h-1zM128.8 630.9h1v1h-1zM136.5 621.0h1v1h-1zM139.0 623.1h1v1h-1zM137.2 630.2h1v1h-1zM124.3 623.9h1v1h-1zM119.0 626.9h1v1h-1zM136.6 638.8h1v1h-1zM130.9 631.9h1v1h-1zM142.0 627.5h1v1h-1zM139.4 629.5h1v1h-1zM127.0 623.5h1v1h-1zM136.4 625.5h1v1h-1zM127.6 627.0h1v1h-1zM151.6 628.1h1v1h-1zM140.2 630.4h1v1h-1zM129.8 637.9h1v1h-1zM144.2 627.2h1v1h-1zM132.3 631.6h1v1h-1zM132.5 635.2h1v1h-1zM133.5 625.4h1v1h-1zM135.5 627.9h1v1h-1zM125.2 630.7h1v1h-1zM148.2 627.0h1v1h-1zM129.0 629.5h1v1h-1zM159.4 622.1h1v1h-1zM117.4 627.5h1v1h-1zM136.4 629.4h1v1h-1zM121.4 625.6h1v1h-1zM132.1 633.0h1v1h-1zM160.8 625.9h1v1h-1zM128.0 630.7h1v1h-1zM134.5 624.6h1v1h-1zM129.8 634.8h1v1h-1zM133.7 626.5h1v1h-1zM130.9 622.6h1v1h-1zM137.4 622.6h1v1h-1zM136.4 626.1h1v1h-1zM143.0 636.3h1v1h-1zM121.5 638.5h1v1h-1zM143.6 620.8h1v1h-1zM137.2 628.4h1v1h-1zM142.3 626.9h1v1h-1zM138.8 630.9h1v1h-1zM131.1 635.7h1v1h-1zM129.3 629.9h1v1h-1zM128.2 633.1h1v1h-1zM141.5 623.9h1v1h-1zM126.0 624.6h1v1h-1zM140.6 630.5h1v1h-1zM132.1 629.3h1v1h-1zM136.1 634.8h1v1h-1zM138.8 630.9h1v1h-1zM116.3 631.9h1v1h-1zM129.5 623.2h1v1h-1zM131.7 635.0h1v1h-1zM130.4 632.5h1v1h-1zM122.3 632.3h1v1h-1zM140.8 621.5h1v1h-1zM118.7 633.2h1v1h-1zM124.7 635.0h1v1h-1zM122.6 632.8h1v1h-1zM133.4 632.3h1v1h-1zM142.4 628.2h1v1h-1zM137.1 627.0h1v1h-1zM126.8 621.2h1v1h-1zM133.1 628.9h1v1h-1zM127.0 622.7h1v1h-1zM133.2 624.1h1v1h-1zM149.2 634.3h1v1h-1zM129.5 636.9h1v1h-1zM133.3 626.5h1v1h-1zM134.8 625.8h1v1h-1zM152.9 627.4h1v1h-1zM115.9 630.1h1v1h-1zM122.4 628.2h1v1h-1zM133.1 630.5h1v1h-1zM142.1 626.7h1v1h-1zM124.6 628.2h1v1h-1zM139.5 623.4h1v1h-1zM135.4 623.9h1v1h-1zM135.9 628.0h1v1h-1zM115.2 633.0h1v1h-1zM133.1 631.4h1v1h-1zM125.4 626.7h1v1h-1zM134.4 621.8h1v1h-1zM133.1 626.7h1v1h-1zM126.4 622.1h1v1h-1zM128.6 631.8h1v1h-1zM128.2 625.4h1v1h-1zM120.8 625.9h1v1h-1zM125.0 635.2h1v1h-1zM121.1 640.3h1v1h-1zM134.7 632.2h1v1h-1zM118.9 632.1h1v1h-1zM127.8 628.0h1v1h-1zM129.3 623.2h1v1h-1zM140.7 625.0h1v1h-1zM115.2 629.3h1v1h-1zM123.6 628.0h1v1h-1zM125.7 627.4h1v1h-1zM123.1 621.7h1v1h-1zM138.2 624.3h1v1h-1zM108.7 632.6h1v1h-1zM125.9 631.6h1v1h-1zM158.2 618.6h1v1h-1zM124.9 619.5h1v1h-1zM117.2 626.2h1v1h-1zM137.6 632.0h1v1h-1zM136.7 632.2h1v1h-1zM134.2 632.5h1v1h-1zM144.3 626.4h1v1h-1zM112.4 630.1h1v1h-1zM125.3 622.2h1v1h-1zM120.7 631.5h1v1h-1zM108.7 627.2h1v1h-1zM136.6 620.8h1v1h-1zM127.5 615.9h1v1h-1zM118.9 631.4h1v1h-1zM149.5 628.5h1v1h-1zM128.6 633.1h1v1h-1zM137.9 631.7h1v1h-1zM128.0 629.8h1v1h-1zM148.0 624.3h1v1h-1zM133.2 630.5h1v1h-1zM133.0 624.9h1v1h-1zM136.9 624.9h1v1h-1zM131.5 631.3h1v1h-1zM132.8 629.6h1v1h-1zM139.6 631.2h1v1h-1zM134.5 627.8h1v1h-1zM142.0 630.6h1v1h-1zM122.0 628.2h1v1h-1zM130.4 625.3h1v1h-1zM119.8 632.4h1v1h-1zM143.3 631.8h1v1h-1zM123.6 634.5h1v1h-1zM126.1 627.3h1v1h-1zM117.2 625.8h1v1h-1zM146.4 623.4h1v1h-1zM139.3 623.4h1v1h-1zM124.5 631.0h1v1h-1zM138.2 633.2h1v1h-1zM131.6 626.1h1v1h-1zM122.1 633.0h1v1h-1zM146.1 627.6h1v1h-1zM147.2 631.2h1v1h-1zM129.2 623.9h1v1h-1zM134.8 627.2h1v1h-1zM127.3 632.3h1v1h-1zM129.2 620.1h1v1h-1zM128.4 626.2h1v1h-1zM120.0 626.7h1v1h-1zM129.2 632.1h1v1h-1zM147.1 631.5h1v1h-1zM139.1 624.7h1v1h-1zM146.5 633.2h1v1h-1zM121.6 631.3h1v1h-1zM134.6 621.6h1v1h-1zM146.4 622.0h1v1h-1zM122.3 633.1h1v1h-1zM138.4 621.2h1v1h-1zM134.1 631.1h1v1h-1zM143.7 632.2h1v1h-1zM127.8 630.6h1v1h-1zM128.6 625.6h1v1h-1zM135.1 623.2h1v1h-1zM123.6 632.9h1v1h-1zM139.4 623.6h1v1h-1zM135.6 626.6h1v1h-1zM141.3 629.4h1v1h-1zM122.3 622.5h1v1h-1zM130.6 628.6h1v1h-1zM137.1 630.4h1v1h-1zM141.3 624.1h1v1h-1zM132.0 633.2h1v1h-1zM142.7 627.1h1v1h-1zM133.4 624.1h1v1h-1zM116.0 627.2h1v1h-1zM145.5 630.4h1v1h-1zM105.2 629.2h1v1h-1zM136.8 624.9h1v1h-1zM141.7 626.7h1v1h-1zM118.4 624.3h1v1h-1zM119.5 632.5h1v1h-1zM152.7 625.3h1v1h-1zM139.0 632.8h1v1h-1zM120.6 626.7h1v1h-1zM121.3 633.2h1v1h-1zM131.0 632.0h1v1h-1zM137.3 623.9h1v1h-1zM129.6 629.9h1v1h-1zM134.3 622.8h1v1h-1zM120.7 635.4h1v1h-1zM116.6 628.3h1v1h-1zM121.4 637.1h1v1h-1zM135.8 628.9h1v1h-1zM144.9 621.8h1v1h-1zM126.2 628.8h1v1h-1zM116.4 626.2h1v1h-1zM120.6 632.6h1v1h-1zM128.6 625.1h1v1h-1zM126.1 635.7h1v1h-1zM127.3 633.5h1v1h-1zM131.7 637.7h1v1h-1zM121.2 628.7h1v1h-1zM129.8 629.7h1v1h-1zM115.0 633.8h1v1h-1zM128.3 628.1h1v1h-1zM140.2 627.0h1v1h-1zM128.8 628.6h1v1h-1zM125.8 634.5h1v1h-1zM118.0 628.0h1v1h-1zM135.6 620.9h1v1h-1zM119.1 625.9h1v1h-1zM130.6 627.4h1v1h-1zM118.6 633.7h1v1h-1zM125.6 635.0h1v1h-1zM133.4 620.9h1v1h-1zM135.2 640.4h1v1h-1zM145.8 623.9h1v1h-1zM146.8 624.8h1v1h-1zM125.6 629.3h1v1h-1zM132.1 635.3h1v1h-1zM131.6 627.9h1v1h-1zM138.6 639.2h1v1h-1zM128.0 617.9h1v1h-1zM123.3 632.3h1v1h-1zM151.1 635.1h1v1h-1zM125.9 629.5h1v1h-1zM134.4 622.3h1v1h-1zM142.7 631.1h1v1h-1zM132.0 616.8h1v1h-1zM137.0 630.6h1v1h-1zM137.9 625.9h1v1h-1zM121.9 632.1h1v1h-1zM134.0 626.8h1v1h-1zM120.0 629.1h1v1h-1zM140.3 630.7h1v1h-1zM136.4 621.0h1v1h-1zM157.5 632.1h1v1h-1zM133.9 615.4h1v1h-1zM122.0 634.1h1v1h-1zM117.5 628.2h1v1h-1zM115.4 628.0h1v1h-1zM134.8 623.6h1v1h-1zM120.3 625.1h1v1h-1zM141.3 629.5h1v1h-1zM128.3 632.2h1v1h-1zM145.6 620.3h1v1h-1zM133.2 624.3h1v1h-1zM127.2 635.7h1v1h-1zM131.8 631.5h1v1h-1zM130.0 635.4h1v1h-1zM113.9 631.0h1v1h-1zM141.5 627.6h1v1h-1zM123.5 632.9h1v1h-1zM115.0 631.4h1v1h-1zM130.1 639.3h1v1h-1zM118.7 629.5h1v1h-1zM139.2 635.0h1v1h-1zM133.7 628.7h1v1h-1zM133.1 635.5h1v1h-1zM121.4 629.8h1v1h-1zM147.5 628.0h1v1h-1zM135.3 633.4h1v1h-1zM137.8 627.7h1v1h-1zM123.4 633.1h1v1h-1zM115.6 626.0h1v1h-1zM128.8 628.8h1v1h-1zM122.6 640.0h1v1h-1zM132.5 637.1h1v1h-1zM129.8 623.1h1v1h-1zM140.0 626.4h1v1h-1zM140.2 625.9h1v1h-1zM135.9 629.4h1v1h-1zM128.5 632.7h1v1h-1zM139.6 628.5h1v1h-1zM147.8 632.2h1v1h-1zM128.3 633.8h1v1h-1zM131.8 634.9h1v1h-1zM119.9 623.6h1v1h-1zM122.3 639.3h1v1h-1zM120.0 629.7h1v1h-1zM122.3 625.9h1v1h-1zM128.0 635.6h1v1h-1zM123.9 622.8h1v1h-1zM143.3 624.0h1v1h-1zM144.5 631.4h1v1h-1zM119.6 633.9h1v1h-1zM121.4 626.3h1v1h-1zM135.6 628.4h1v1h-1zM125.7 629.7h1v1h-1zM133.1 626.1h1v1h-1zM133.9 630.7h1v1h-1zM129.5 629.0h1v1h-1zM131.7 619.9h1v1h-1zM130.1 637.7h1v1h-1zM138.4 622.5h1v1h-1zM137.0 630.6h1v1h-1zM136.4 634.1h1v1h-1zM127.7 633.4h1v1h-1zM121.2 629.0h1v1h-1zM132.0 624.5h1v1h-1zM127.4 628.0h1v1h-1zM129.4 622.8h1v1h-1zM123.8 630.4h1v1h-1zM124.5 626.7h1v1h-1zM139.1 629.4h1v1h-1zM147.6 616.6h1v1h-1zM134.6 626.4h1v1h-1zM120.0 629.7h1v1h-1zM124.4 628.6h1v1h-1zM130.0 621.0h1v1h-1zM126.0 630.2h1v1h-1zM124.1 634.8h1v1h-1zM131.2 628.5h1v1h-1zM137.9 626.4h1v1h-1zM126.8 635.5h1v1h-1zM133.5 635.2h1v1h-1zM139.3 629.7h1v1h-1zM131.6 625.9h1v1h-1zM129.4 622.1h1v1h-1zM131.7 622.2h1v1h-1zM120.3 627.2h1v1h-1zM121.1 628.6h1v1h-1zM139.4 631.3h1v1h-1zM138.8 623.2h1v1h-1zM137.8 629.4h1v1h-1zM119.7 633.0h1v1h-1zM136.1 636.1h1v1h-1zM127.0 621.6h1v1h-1zM126.2 635.9h1v1h-1zM116.3 628.4h1v1h-1zM131.8 627.3h1v1h-1zM123.5 630.3h1v1h-1zM130.4 625.2h1v1h-1zM143.5 636.1h1v1h-1zM119.4 633.1h1v1h-1zM139.8 615.4h1v1h-1zM130.4 628.3h1v1h-1zM116.4 629.9h1v1h-1zM132.4 632.6h1v1h-1zM130.9 626.3h1v1h-1zM148.0 632.9h1v1h-1zM135.4 629.5h1v1h-1zM131.0 632.5h1v1h-1zM136.0 635.8h1v1h-1zM137.4 627.2h1v1h-1zM130.7 627.2h1v1h-1zM128.5 625.4h1v1h-1zM116.1 631.6h1v1h-1zM122.9 633.8h1v1h-1zM139.3 624.9h1v1h-1zM137.2 633.2h1v1h-1zM134.2 631.7h1v1h-1zM128.5 628.1h1v1h-1zM136.5 620.2h1v1h-1zM122.8 629.0h1v1h-1zM142.3 627.2h1v1h-1zM139.4 618.3h1v1h-1zM140.5 620.1h1v1h-1zM125.0 618.2h1v1h-1zM127.8 633.7h1v1h-1zM132.9 630.6h1v1h-1zM144.7 623.4h1v1h-1zM137.5 630.3h1v1h-1zM142.1 638.4h1v1h-1zM126.8 635.4h1v1h-1zM133.7 628.0h1v1h-1zM140.7 633.6h1v1h-1zM119.7 621.9h1v1h-1zM140.2 627.7h1v1h-1zM139.6 630.9h1v1h-1zM129.4 632.5h1v1h-1zM134.6 626.9h1v1h-1zM135.5 626.3h1v1h-1zM130.8 632.2h1v1h-1zM124.9 630.6h1v1h-1zM146.3 631.6h1v1h-1zM138.8 636.7h1v1h-1zM145.1 630.2h1v1h-1zM115.6 626.7h1v1h-1zM128.0 629.0h1v1h-1zM128.3 627.0h1v1h-1zM108.2 636.7h1v1h-1zM134.3 627.3h1v1h-1zM134.3 621.9h1v1h-1zM150.1 623.0h1v1h-1zM124.0 632.6h1v1h-1zM149.4 629.3h1v1h-1zM134.6 624.6h1v1h-1zM140.9 626.8h1v1h-1zM138.0 621.1h1v1h-1zM126.8 628.7h1v1h-1zM131.5 633.5h1v1h-1zM133.1 629.1h1v1h-1zM141.2 636.1h1v1h-1zM148.4 625.0h1v1h-1zM131.6 627.8h1v1h-1zM123.7 640.4h1v1h-1zM124.3 621.2h1v1h-1zM124.2 623.9h1v1h-1zM130.5 635.8h1v1h-1zM135.3 622.1h1v1h-1zM123.9 631.3h1v1h-1zM116.4 627.8h1v1h-1zM133.2 630.2h1v1h-1zM129.5 630.3h1v1h-1zM126.8 637.5h1v1h-1zM113.8 629.8h1v1h-1zM121.9 632.4h1v1h-1zM127.8 626.6h1v1h-1zM116.6 630.1h1v1h-1zM137.2 628.7h1v1h-1zM126.8 626.3h1v1h-1zM134.8 624.6h1v1h-1zM121.1 637.6h1v1h-1zM130.8 626.0h1v1h-1zM136.3 625.5h1v1h-1zM128.1 624.2h1v1h-1zM127.4 635.2h1v1h-1zM130.6 626.2h1v1h-1zM135.6 635.0h1v1h-1zM144.6 627.5h1v1h-1zM130.8 626.3h1v1h-1zM132.6 629.5h1v1h-1zM148.0 629.7h1v1h-1zM145.0 632.0h1v1h-1zM135.4 621.7h1v1h-1zM121.3 632.3h1v1h-1zM124.8 620.8h1v1h-1zM130.9 632.5h1v1h-1zM127.6 625.0h1v1h-1zM127.6 624.6h1v1h-1zM141.5 620.2h1v1h-1zM133.7 634.8h1v1h-1zM127.3 629.5h1v1h-1zM141.6 631.0h1v1h-1zM129.6 629.7h1v1h-1zM130.6 626.2h1v1h-1zM117.9 628.5h1v1h-1zM127.1 626.8h1v1h-1zM114.2 635.2h1v1h-1zM138.4 631.9h1v1h-1zM136.3 626.6h1v1h-1zM122.8 629.0h1v1h-1zM127.0 629.5h1v1h-1zM126.6 618.2h1v1h-1zM144.2 626.6h1v1h-1zM120.1 630.1h1v1h-1zM135.3 622.8h1v1h-1zM130.0 632.0h1v1h-1zM145.7 632.9h1v1h-1zM133.7 624.6h1v1h-1zM130.2 628.3h1v1h-1zM127.9 622.2h1v1h-1zM137.4 634.3h1v1h-1zM139.5 632.2h1v1h-1zM150.9 630.2h1v1h-1zM128.9 631.6h1v1h-1zM132.6 631.5h1v1h-1zM142.6 615.8h1v1h-1zM144.4 625.6h1v1h-1zM145.4 622.7h1v1h-1zM110.2 629.1h1v1h-1zM134.1 619.0h1v1h-1zM118.9 620.6h1v1h-1zM134.6 622.4h1v1h-1zM144.6 628.1h1v1h-1zM149.6 631.6h1v1h-1zM121.3 633.4h1v1h-1zM136.3 627.4h1v1h-1zM120.9 627.3h1v1h-1zM131.3 618.4h1v1h-1zM134.4 625.5h1v1h-1zM120.7 630.7h1v1h-1zM140.4 632.6h1v1h-1zM127.5 634.5h1v1h-1zM134.1 635.7h1v1h-1zM126.8 631.9h1v1h-1zM124.8 628.1h1v1h-1zM123.7 626.7h1v1h-1zM132.8 623.9h1v1h-1zM123.2 632.4h1v1h-1zM126.3 629.8h1v1h-1zM133.5 633.5h1v1h-1zM122.0 630.1h1v1h-1zM135.0 625.0h1v1h-1zM123.0 628.6h1v1h-1zM123.3 625.7h1v1h-1zM122.4 634.8h1v1h-1zM132.8 631.0h1v1h-1zM142.6 629.0h1v1h-1zM145.4 628.1h1v1h-1zM139.4 635.4h1v1h-1zM130.2 624.3h1v1h-1zM138.1 623.6h1v1h-1zM133.7 622.9h1v1h-1zM133.5 621.6h1v1h-1zM133.6 623.8h1v1h-1zM125.2 629.4h1v1h-1zM134.3 622.3h1v1h-1zM138.7 633.4h1v1h-1zM131.8 623.6h1v1h-1zM123.8 635.0h1v1h-1zM134.7 630.9h1v1h-1zM132.4 628.2h1v1h-1zM133.6 628.8h1v1h-1zM146.9 624.3h1v1h-1zM143.1 628.8h1v1h-1zM147.9 640.3h1v1h-1zM135.0 629.0h1v1h-1zM127.0 626.9h1v1h-1zM125.6 639.7h1v1h-1zM142.6 626.2h1v1h-1zM135.8 628.4h1v1h-1zM141.7 626.0h1v1h-1zM149.6 631.9h1v1h-1zM140.2 624.8h1v1h-1zM127.7 626.9h1v1h-1zM129.0 628.2h1v1h-1zM106.2 631.2h1v1h-1zM120.6 630.1h1v1h-1zM118.5 631.2h1v1h-1zM125.3 627.9h1v1h-1zM119.5 635.9h1v1h-1zM130.7 631.8h1v1h-1zM136.1 632.9h1v1h-1zM121.0 627.0h1v1h-1zM123.9 630.3h1v1h-1zM146.7 618.3h1v1h-1zM126.8 624.0h1v1h-1zM139.4 635.1h1v1h-1zM132.5 632.3h1v1h-1zM123.9 633.7h1v1h-1zM144.2 624.7h1v1h-1zM140.2 628.5h1v1h-1zM129.1 631.9h1v1h-1zM136.5 624.8h1v1h-1zM129.7 625.8h1v1h-1zM128.5 632.6h1v1h-1zM147.7 627.1h1v1h-1zM130.3 628.6h1v1h-1zM123.3 627.3h1v1h-1zM132.5 636.2h1v1h-1zM116.8 634.3h1v1h-1zM132.2 629.2h1v1h-1zM130.6 625.1h1v1h-1zM116.3 631.5h1v1h-1zM125.9 629.4h1v1h-1zM132.8 623.3h1v1h-1zM118.4 630.6h1v1h-1zM131.2 635.0h1v1h-1zM129.1 631.1h1v1h-1zM119.8 630.3h1v1h-1zM143.8 627.3h1v1h-1zM146.9 626.2h1v1h-1zM144.0 634.8h1v1h-1zM123.3 635.2h1v1h-1zM129.6 632.0h1v1h-1zM141.0 621.3h1v1h-1zM120.4 629.4h1v1h-1zM133.9 626.1h1v1h-1zM125.6 624.1h1v1h-1zM134.1 633.4h1v1h-1zM124.2 631.2h1v1h-1zM152.5 622.7h1v1h-1zM127.6 626.6h1v1h-1zM122.2 620.9h1v1h-1zM123.8 630.5h1v1h-1zM129.7 622.3h1v1h-1zM123.1 630.6h1v1h-1zM129.6 631.7h1v1h-1zM112.7 626.2h1v1h-1zM133.2 636.7h1v1h-1zM139.2 635.5h1v1h-1zM128.3 627.8h1v1h-1zM135.8 625.6h1v1h-1zM142.1 629.0h1v1h-1zM120.4 631.4h1v1h-1zM129.0 628.0h1v1h-1zM122.0 627.2h1v1h-1zM132.8 624.2h1v1h-1zM129.9 628.0h1v1h-1zM147.1 629.5h1v1h-1zM150.6 623.5h1v1h-1zM137.5 628.4h1v1h-1zM140.1 633.3h1v1h-1zM134.5 621.9h1v1h-1zM122.1 621.3h1v1h-1zM137.7 630.3h1v1h-1zM138.1 628.3h1v1h-1zM126.9 626.3h1v1h-1zM132.4 627.3h1v1h-1zM115.0 637.7h1v1h-1zM138.1 625.6h1v1h-1zM126.5 635.6h1v1h-1zM138.2 625.8h1v1h-1zM133.3 618.7h1v1h-1zM129.2 636.6h1v1h-1zM132.3 631.7h1v1h-1zM129.5 624.2h1v1h-1zM138.4 628.2h1v1h-1zM149.1 626.1h1v1h-1zM130.7 623.9h1v1h-1zM134.0 622.7h1v1h-1zM130.5 622.6h1v1h-1zM136.1 623.5h1v1h-1zM118.1 631.7h1v1h-1zM126.2 629.7h1v1h-1zM144.6 622.8h1v1h-1zM119.9 634.8h1v1h-1zM119.7 626.6h1v1h-1zM132.6 623.3h1v1h-1zM114.8 632.1h1v1h-1zM128.5 629.7h1v1h-1zM136.3 628.8h1v1h-1zM133.9 627.5h1v1h-1zM132.8 625.5h1v1h-1zM129.1 629.8h1v1h-1zM120.9 628.3h1v1h-1zM118.1 630.2h1v1h-1zM139.7 627.6h1v1h-1zM120.8 624.6h1v1h-1zM141.5 611.2h1v1h-1zM128.4 636.7h1v1h-1zM129.5 622.2h1v1h-1zM135.2 621.7h1v1h-1zM119.1 633.3h1v1h-1zM125.3 621.2h1v1h-1zM119.7 623.0h1v1h-1zM130.6 629.6h1v1h-1zM130.1 630.7h1v1h-1zM125.8 628.9h1v1h-1zM140.6 617.8h1v1h-1zM151.9 627.0h1v1h-1zM127.4 625.3h1v1h-1zM127.5 633.3h1v1h-1zM133.7 632.4h1v1h-1zM125.4 626.1h1v1h-1zM126.6 630.1h1v1h-1zM137.2 621.3h1v1h-1zM139.1 618.2h1v1h-1zM134.4 637.3h1v1h-1zM138.6 624.4h1v1h-1zM127.9 627.2h1v1h-1zM122.8 628.1h1v1h-1zM136.1 622.3h1v1h-1zM149.5 632.0h1v1h-1zM141.3 638.0h1v1h-1zM129.4 626.9h1v1h-1zM137.9 632.5h1v1h-1zM137.9 625.8h1v1h-1zM140.4 627.3h1v1h-1zM135.1 624.2h1v1h-1zM125.1 632.0h1v1h-1zM134.2 625.9h1v1h-1zM122.1 629.6h1v1h-1zM124.2 626.0h1v1h-1zM122.3 625.4h1v1h-1zM142.8 626.7h1v1h-1zM156.6 625.0h1v1h-1zM130.3 616.7h1v1h-1zM133.3 623.1h1v1h-1zM130.9 629.7h1v1h-1zM132.9 629.6h1v1h-1zM135.7 625.0h1v1h-1zM127.3 627.3h1v1h-1zM136.7 624.7h1v1h-1zM132.3 624.9h1v1h-1zM131.7 626.1h1v1h-1zM121.5 634.2h1v1h-1zM121.7 618.5h1v1h-1zM121.6 620.1h1v1h-1zM113.0 616.9h1v1h-1zM108.6 616.6h1v1h-1zM113.4 626.0h1v1h-1zM112.3 622.6h1v1h-1zM119.1 620.3h1v1h-1zM103.3 629.8h1v1h-1zM112.1 626.5h1v1h-1zM115.5 630.2h1v1h-1zM114.6 626.2h1v1h-1zM119.7 622.0h1v1h-1zM107.7 625.3h1v1h-1zM115.4 619.8h1v1h-1zM115.1 624.4h1v1h-1zM113.6 626.3h1v1h-1zM119.1 628.6h1v1h-1zM118.8 627.4h1v1h-1zM121.3 628.0h1v1h-1zM115.0 623.0h1v1h-1zM114.3 624.2h1v1h-1zM110.1 625.8h1v1h-1zM114.8 620.0h1v1h-1zM119.2 632.2h1v1h-1zM106.4 628.9h1v1h-1zM106.4 619.4h1v1h-1zM116.9 621.6h1v1h-1zM103.0 631.2h1v1h-1zM113.9 620.5h1v1h-1zM113.4 618.8h1v1h-1zM107.8 612.9h1v1h-1zM108.9 626.8h1v1h-1zM114.3 619.4h1v1h-1zM111.0 621.0h1v1h-1zM114.0 630.5h1v1h-1zM118.2 631.0h1v1h-1zM119.4 632.4h1v1h-1zM108.6 619.8h1v1h-1zM119.7 624.8h1v1h-1zM103.7 620.0h1v1h-1zM104.6 626.6h1v1h-1zM113.4 631.4h1v1h-1zM117.8 628.1h1v1h-1zM114.4 614.9h1v1h-1zM122.6 629.5h1v1h-1zM115.4 616.5h1v1h-1zM114.8 623.4h1v1h-1zM112.1 621.7h1v1h-1zM116.3 624.1h1v1h-1zM117.2 626.8h1v1h-1zM111.2 631.7h1v1h-1zM111.0 625.5h1v1h-1zM102.8 625.2h1v1h-1zM109.9 629.4h1v1h-1zM109.8 620.9h1v1h-1zM109.0 626.4h1v1h-1zM113.2 623.5h1v1h-1zM122.4 623.4h1v1h-1zM115.7 627.8h1v1h-1zM110.1 624.3h1v1h-1zM112.8 625.4h1v1h-1zM126.2 620.2h1v1h-1zM111.8 614.3h1v1h-1zM135.9 628.3h1v1h-1zM117.2 625.2h1v1h-1zM160.7 621.7h1v1h-1zM109.1 642.5h1v1h-1zM125.9 639.3h1v1h-1zM136.2 634.7h1v1h-1zM105.8 635.4h1v1h-1zM118.9 633.0h1v1h-1zM133.0 627.1h1v1h-1zM117.9 631.1h1v1h-1zM131.5 617.8h1v1h-1zM113.7 626.3h1v1h-1zM137.8 631.8h1v1h-1zM108.2 626.0h1v1h-1zM127.3 621.6h1v1h-1zM118.6 626.2h1v1h-1zM143.3 640.8h1v1h-1zM143.7 632.1h1v1h-1zM144.0 613.6h1v1h-1zM136.8 640.6h1v1h-1zM133.2 624.2h1v1h-1zM138.6 628.3h1v1h-1zM140.3 641.5h1v1h-1zM127.2 630.4h1v1h-1zM141.8 627.4h1v1h-1zM135.7 635.1h1v1h-1zM123.6 632.4h1v1h-1zM147.6 635.9h1v1h-1zM122.2 623.4h1v1h-1zM156.3 632.7h1v1h-1z" fill="#7e7e7e" fill-opacity="0.55"/>
<path d="M124.1 599.4h1v1h-1zM143.0 604.6h1v1h-1zM139.2 604.8h1v1h-1zM122.9 595.4h1v1h-1zM132.8 601.0h1v1h-1zM118.4 587.8h1v1h-1zM128.1 590.5h1v1h-1zM134.6 593.7h1v1h-1zM121.5 603.3h1v1h-1zM136.6 604.3h1v1h-1zM112.1 601.6h1v1h-1zM135.1 597.9h1v1h-1zM133.8 595.7h1v1h-1zM121.4 594.1h1v1h-1zM112.1 602.6h1v1h-1zM122.1 602.9h1v1h-1zM128.7 594.4h1v1h-1zM133.5 593.4h1v1h-1zM141.2 603.3h1v1h-1zM131.4 591.8h1v1h-1zM121.6 595.6h1v1h-1zM132.8 611.0h1v1h-1zM118.3 602.3h1v1h-1zM125.3 604.2h1v1h-1zM124.2 596.2h1v1h-1zM117.8 601.2h1v1h-1zM132.0 591.8h1v1h-1zM137.6 601.7h1v1h-1zM140.3 595.3h1v1h-1zM146.0 594.1h1v1h-1zM121.0 597.0h1v1h-1zM122.2 600.8h1v1h-1zM119.4 588.0h1v1h-1zM138.9 596.8h1v1h-1zM121.3 598.1h1v1h-1zM114.3 607.0h1v1h-1zM132.2 608.8h1v1h-1zM138.2 591.4h1v1h-1zM134.5 590.2h1v1h-1zM126.2 599.5h1v1h-1zM123.1 596.3h1v1h-1zM135.1 592.3h1v1h-1zM134.8 590.6h1v1h-1zM131.2 610.7h1v1h-1zM126.5 596.2h1v1h-1zM137.7 603.6h1v1h-1zM134.0 607.8h1v1h-1zM134.7 598.4h1v1h-1zM114.8 592.7h1v1h-1zM123.6 592.2h1v1h-1zM125.0 602.4h1v1h-1zM134.0 599.6h1v1h-1zM122.4 597.5h1v1h-1zM130.6 600.7h1v1h-1zM124.6 609.2h1v1h-1zM141.9 597.7h1v1h-1zM128.3 600.3h1v1h-1zM120.0 605.7h1v1h-1zM131.5 596.4h1v1h-1zM137.9 597.2h1v1h-1zM140.2 599.3h1v1h-1zM141.5 602.6h1v1h-1zM116.8 589.7h1v1h-1zM139.2 600.3h1v1h-1zM137.3 609.9h1v1h-1zM128.2 591.8h1v1h-1zM136.2 603.8h1v1h-1zM115.8 603.8h1v1h-1zM122.3 600.2h1v1h-1zM111.5 604.4h1v1h-1zM127.3 600.5h1v1h-1zM122.3 597.8h1v1h-1zM131.4 603.3h1v1h-1zM123.4 596.6h1v1h-1zM130.7 597.1h1v1h-1zM142.5 588.5h1v1h-1zM125.0 594.6h1v1h-1zM131.6 596.1h1v1h-1zM125.1 604.5h1v1h-1zM112.0 601.9h1v1h-1zM119.2 593.9h1v1h-1zM118.6 600.1h1v1h-1zM119.5 598.7h1v1h-1zM135.0 596.8h1v1h-1zM131.4 609.4h1v1h-1zM123.0 587.1h1v1h-1zM123.2 596.5h1v1h-1zM105.4 608.6h1v1h-1zM136.4 606.2h1v1h-1zM129.0 602.7h1v1h-1zM124.4 593.7h1v1h-1zM131.0 600.3h1v1h-1zM116.6 592.5h1v1h-1zM137.6 602.5h1v1h-1zM128.4 608.0h1v1h-1zM125.6 596.7h1v1h-1zM112.5 602.6h1v1h-1zM131.2 598.0h1v1h-1zM116.8 591.5h1v1h-1zM117.9 604.1h1v1h-1zM109.8 598.4h1v1h-1zM122.4 589.6h1v1h-1zM125.9 591.1h1v1h-1zM128.2 596.1h1v1h-1zM132.0 598.5h1v1h-1zM132.9 601.6h1v1h-1zM137.1 594.0h1v1h-1zM121.9 592.5h1v1h-1zM138.6 602.7h1v1h-1zM121.2 603.9h1v1h-1zM110.4 604.5h1v1h-1zM136.8 604.0h1v1h-1zM114.2 609.0h1v1h-1zM110.6 611.3h1v1h-1zM141.5 591.6h1v1h-1zM118.7 602.9h1v1h-1zM128.7 593.1h1v1h-1zM123.7 594.9h1v1h-1zM118.0 591.8h1v1h-1zM123.0 598.2h1v1h-1zM131.3 597.2h1v1h-1zM134.8 595.0h1v1h-1zM120.2 601.6h1v1h-1zM131.9 601.7h1v1h-1zM130.8 599.1h1v1h-1zM132.0 601.0h1v1h-1zM136.5 600.4h1v1h-1zM140.0 596.4h1v1h-1zM124.4 596.7h1v1h-1zM135.6 595.6h1v1h-1zM136.6 596.1h1v1h-1zM125.5 599.1h1v1h-1zM121.8 598.1h1v1h-1zM127.0 607.3h1v1h-1zM140.5 598.8h1v1h-1zM138.1 593.5h1v1h-1zM134.0 592.1h1v1h-1zM129.4 591.3h1v1h-1zM124.4 610.2h1v1h-1zM120.2 599.8h1v1h-1zM114.8 606.1h1v1h-1zM125.2 598.5h1v1h-1zM129.1 595.7h1v1h-1zM109.5 603.7h1v1h-1zM126.1 606.5h1v1h-1zM120.2 602.2h1v1h-1zM136.5 597.7h1v1h-1zM113.2 601.2h1v1h-1zM126.5 600.5h1v1h-1zM120.4 594.9h1v1h-1zM140.8 606.1h1v1h-1zM125.8 603.8h1v1h-1zM117.1 605.7h1v1h-1zM125.5 602.0h1v1h-1zM123.9 596.4h1v1h-1zM124.7 604.2h1v1h-1zM125.3 603.4h1v1h-1zM136.3 589.9h1v1h-1zM121.8 592.8h1v1h-1zM123.7 600.8h1v1h-1zM129.4 605.8h1v1h-1zM138.0 612.0h1v1h-1zM116.0 595.5h1v1h-1zM122.4 604.7h1v1h-1zM117.5 605.8h1v1h-1zM149.0 592.5h1v1h-1zM129.5 595.8h1v1h-1zM124.0 597.1h1v1h-1zM140.8 587.6h1v1h-1zM114.3 599.6h1v1h-1zM123.6 591.9h1v1h-1zM129.1 602.2h1v1h-1zM120.7 604.0h1v1h-1zM121.7 595.8h1v1h-1zM129.2 606.0h1v1h-1zM131.3 597.8h1v1h-1zM133.0 591.7h1v1h-1zM128.9 598.6h1v1h-1zM122.8 594.7h1v1h-1zM118.3 600.7h1v1h-1zM133.4 606.5h1v1h-1zM141.6 606.6h1v1h-1zM116.3 604.8h1v1h-1zM135.0 597.2h1v1h-1zM120.2 603.5h1v1h-1zM136.2 602.2h1v1h-1zM126.7 602.6h1v1h-1zM123.9 600.8h1v1h-1zM131.8 601.2h1v1h-1zM115.5 599.8h1v1h-1zM110.2 598.5h1v1h-1zM115.7 602.0h1v1h-1zM138.8 593.5h1v1h-1zM129.1 608.9h1v1h-1zM130.0 604.5h1v1h-1zM123.9 604.1h1v1h-1zM118.0 605.3h1v1h-1zM127.9 593.3h1v1h-1zM130.7 596.3h1v1h-1zM129.1 591.5h1v1h-1zM122.9 590.5h1v1h-1zM128.8 599.1h1v1h-1zM106.2 607.7h1v1h-1zM130.4 596.2h1v1h-1zM130.7 604.8h1v1h-1zM124.7 603.7h1v1h-1zM129.4 603.0h1v1h-1zM137.8 609.3h1v1h-1zM122.3 605.6h1v1h-1zM121.1 597.0h1v1h-1zM133.6 596.0h1v1h-1zM131.2 601.5h1v1h-1zM125.9 606.2h1v1h-1zM132.2 595.0h1v1h-1zM125.9 592.5h1v1h-1zM132.1 605.3h1v1h-1zM128.3 601.0h1v1h-1zM126.0 604.4h1v1h-1zM132.4 603.3h1v1h-1zM116.2 606.5h1v1h-1zM119.2 600.9h1v1h-1zM128.5 599.7h1v1h-1zM121.4 603.6h1v1h-1zM123.1 598.1h1v1h-1zM123.2 592.2h1v1h-1zM119.6 594.1h1v1h-1zM111.8 592.9h1v1h-1zM112.9 594.6h1v1h-1zM139.8 596.7h1v1h-1zM118.7 593.2h1v1h-1zM143.0 597.2h1v1h-1zM131.8 602.9h1v1h-1zM129.1 600.5h1v1h-1zM116.3 592.8h1v1h-1zM115.9 600.9h1v1h-1zM136.2 601.9h1v1h-1zM123.5 603.8h1v1h-1zM126.0 600.3h1v1h-1zM131.4 597.0h1v1h-1zM119.1 594.7h1v1h-1zM135.7 598.9h1v1h-1zM125.4 597.9h1v1h-1zM127.3 594.9h1v1h-1zM138.2 604.6h1v1h-1zM137.0 603.2h1v1h-1zM127.0 596.2h1v1h-1zM131.4 597.2h1v1h-1zM140.7 594.6h1v1h-1zM121.4 594.5h1v1h-1zM126.9 587.4h1v1h-1zM130.9 598.8h1v1h-1zM130.9 593.0h1v1h-1zM142.6 594.6h1v1h-1zM124.8 592.8h1v1h-1zM132.5 593.6h1v1h-1zM126.4 590.1h1v1h-1zM140.0 597.4h1v1h-1zM128.4 594.0h1v1h-1zM137.3 604.4h1v1h-1zM136.2 604.2h1v1h-1zM126.4 592.7h1v1h-1zM131.3 597.8h1v1h-1zM139.3 596.9h1v1h-1zM123.4 595.4h1v1h-1zM126.1 606.3h1v1h-1zM138.6 599.2h1v1h-1zM122.6 595.2h1v1h-1zM128.6 598.0h1v1h-1zM124.7 590.7h1v1h-1zM132.4 604.4h1v1h-1zM129.3 597.8h1v1h-1zM134.9 598.5h1v1h-1zM124.6 593.6h1v1h-1zM128.4 602.2h1v1h-1zM135.9 603.4h1v1h-1zM127.8 604.2h1v1h-1zM130.8 603.3h1v1h-1zM126.3 599.6h1v1h-1zM123.0 595.7h1v1h-1zM135.8 597.5h1v1h-1zM118.0 600.1h1v1h-1zM135.7 596.8h1v1h-1zM123.8 599.7h1v1h-1zM140.5 600.7h1v1h-1zM142.6 597.2h1v1h-1zM122.5 608.6h1v1h-1zM132.6 597.6h1v1h-1zM119.3 602.4h1v1h-1zM118.6 603.5h1v1h-1zM126.6 586.9h1v1h-1zM120.3 590.4h1v1h-1zM120.9 601.8h1v1h-1zM133.1 601.5h1v1h-1zM138.7 595.3h1v1h-1zM122.5 596.5h1v1h-1zM124.6 599.4h1v1h-1zM129.2 603.8h1v1h-1zM130.6 596.3h1v1h-1zM136.0 599.7h1v1h-1zM127.2 604.2h1v1h-1zM109.4 600.2h1v1h-1zM114.0 600.0h1v1h-1zM125.7 604.7h1v1h-1zM145.3 585.7h1v1h-1zM122.8 599.3h1v1h-1zM146.8 596.9h1v1h-1zM124.0 596.6h1v1h-1zM126.5 603.6h1v1h-1zM130.2 604.3h1v1h-1zM129.1 599.4h1v1h-1zM120.2 598.7h1v1h-1zM135.9 602.9h1v1h-1zM120.8 598.2h1v1h-1zM122.1 598.3h1v1h-1zM124.3 588.6h1v1h-1zM126.6 596.6h1v1h-1zM121.4 590.3h1v1h-1zM127.3 602.2h1v1h-1zM125.4 593.3h1v1h-1zM128.2 600.4h1v1h-1zM128.1 608.2h1v1h-1zM125.1 593.2h1v1h-1zM130.6 595.7h1v1h-1zM128.7 596.6h1v1h-1zM130.4 595.6h1v1h-1zM126.8 594.4h1v1h-1zM114.8 600.4h1v1h-1zM130.9 599.6h1v1h-1zM132.0 592.4h1v1h-1zM128.0 601.1h1v1h-1zM127.4 594.6h1v1h-1zM125.7 601.7h1v1h-1zM125.2 604.9h1v1h-1zM124.7 596.3h1v1h-1zM130.9 600.3h1v1h-1zM136.9 594.2h1v1h-1zM123.2 608.0h1v1h-1zM127.2 597.1h1v1h-1zM125.4 590.6h1v1h-1zM133.2 598.5h1v1h-1zM120.6 607.3h1v1h-1zM131.5 594.3h1v1h-1zM128.1 599.4h1v1h-1zM118.7 607.5h1v1h-1zM133.2 596.7h1v1h-1zM148.9 599.6h1v1h-1zM135.7 599.3h1v1h-1zM127.4 590.8h1v1h-1zM126.9 601.9h1v1h-1zM120.9 590.3h1v1h-1zM140.2 609.2h1v1h-1zM133.5 606.1h1v1h-1zM130.3 596.2h1v1h-1zM129.1 597.9h1v1h-1zM116.9 597.6h1v1h-1zM134.8 599.7h1v1h-1zM128.2 591.0h1v1h-1zM129.7 596.2h1v1h-1zM111.4 602.6h1v1h-1zM139.2 609.0h1v1h-1zM123.9 603.3h1v1h-1zM125.5 597.9h1v1h-1zM107.3 596.7h1v1h-1zM126.5 603.7h1v1h-1zM136.5 593.3h1v1h-1zM139.4 589.5h1v1h-1zM121.6 599.3h1v1h-1zM128.4 598.4h1v1h-1zM124.5 599.8h1v1h-1zM144.1 592.3h1v1h-1zM125.2 593.8h1v1h-1zM138.9 599.5h1v1h-1zM141.7 589.0h1v1h-1zM124.1 606.8h1v1h-1zM134.1 595.9h1v1h-1zM134.7 605.0h1v1h-1zM138.8 601.7h1v1h-1zM126.1 601.7h1v1h-1zM127.3 599.0h1v1h-1zM132.5 612.2h1v1h-1zM138.6 597.1h1v1h-1zM124.3 592.5h1v1h-1zM131.9 600.7h1v1h-1zM124.7 594.3h1v1h-1zM137.4 602.7h1v1h-1zM117.8 602.0h1v1h-1zM131.1 604.0h1v1h-1zM127.9 598.4h1v1h-1zM130.4 593.9h1v1h-1zM134.2 590.2h1v1h-1zM132.2 605.4h1v1h-1zM136.2 607.9h1v1h-1zM131.4 589.4h1v1h-1zM117.3 602.5h1v1h-1zM127.8 596.4h1v1h-1zM122.0 598.6h1v1h-1zM119.9 594.5h1v1h-1zM130.9 597.4h1v1h-1zM146.6 603.2h1v1h-1zM128.5 599.6h1v1h-1zM116.7 600.5h1v1h-1zM137.7 599.1h1v1h-1zM125.3 587.5h1v1h-1zM127.7 593.2h1v1h-1zM126.4 604.0h1v1h-1zM134.4 595.0h1v1h-1zM119.8 604.6h1v1h-1zM133.5 592.3h1v1h-1zM126.0 600.6h1v1h-1zM123.6 604.2h1v1h-1zM133.3 601.0h1v1h-1zM128.3 594.6h1v1h-1zM131.6 600.9h1v1h-1zM146.0 596.9h1v1h-1zM126.1 597.7h1v1h-1zM121.3 598.0h1v1h-1zM133.7 601.9h1v1h-1zM124.6 594.3h1v1h-1zM143.1 593.9h1v1h-1zM116.6 593.9h1v1h-1zM128.3 588.6h1v1h-1zM116.1 588.3h1v1h-1zM112.5 596.5h1v1h-1zM133.7 598.9h1v1h-1zM136.7 591.8h1v1h-1zM113.4 610.3h1v1h-1zM122.2 608.8h1v1h-1zM128.8 600.0h1v1h-1zM133.7 603.3h1v1h-1zM122.0 601.4h1v1h-1zM115.4 589.9h1v1h-1zM129.7 605.7h1v1h-1zM132.0 607.1h1v1h-1zM125.1 593.8h1v1h-1zM131.7 597.1h1v1h-1zM121.1 590.7h1v1h-1zM132.5 592.8h1v1h-1zM123.5 607.0h1v1h-1zM135.6 598.8h1v1h-1zM137.5 603.2h1v1h-1zM121.9 599.5h1v1h-1zM114.3 590.1h1v1h-1zM126.8 606.5h1v1h-1zM120.5 599.0h1v1h-1zM137.5 597.2h1v1h-1zM125.8 603.0h1v1h-1zM125.0 604.2h1v1h-1zM120.9 592.2h1v1h-1zM133.0 600.3h1v1h-1zM133.2 600.9h1v1h-1zM125.8 596.1h1v1h-1zM120.4 598.2h1v1h-1zM125.9 593.7h1v1h-1zM115.9 603.9h1v1h-1zM121.7 597.8h1v1h-1zM125.3 599.6h1v1h-1zM120.7 600.1h1v1h-1zM136.3 604.8h1v1h-1zM128.9 598.9h1v1h-1zM132.5 600.6h1v1h-1zM143.1 596.9h1v1h-1zM117.4 602.7h1v1h-1zM121.3 600.1h1v1h-1zM134.7 601.7h1v1h-1zM117.4 591.5h1v1h-1zM124.1 613.1h1v1h-1zM139.1 601.0h1v1h-1zM128.6 594.8h1v1h-1zM111.3 595.0h1v1h-1zM121.8 596.1h1v1h-1zM114.3 601.2h1v1h-1zM138.7 593.0h1v1h-1zM128.9 592.2h1v1h-1zM123.1 597.9h1v1h-1zM129.9 595.8h1v1h-1zM122.7 603.3h1v1h-1zM112.5 600.4h1v1h-1zM135.9 600.6h1v1h-1zM129.4 605.6h1v1h-1zM143.1 602.1h1v1h-1zM125.7 600.2h1v1h-1zM124.6 602.5h1v1h-1zM119.3 590.9h1v1h-1zM150.5 600.4h1v1h-1zM127.7 600.5h1v1h-1zM129.7 598.7h1v1h-1zM127.2 592.8h1v1h-1zM111.8 604.2h1v1h-1zM123.0 597.5h1v1h-1zM125.2 590.3h1v1h-1zM128.2 603.1h1v1h-1zM114.6 600.2h1v1h-1zM124.8 606.2h1v1h-1zM124.8 592.6h1v1h-1zM129.9 603.5h1v1h-1zM135.3 602.3h1v1h-1zM120.6 595.8h1v1h-1zM134.6 599.9h1v1h-1zM140.5 593.1h1v1h-1zM126.3 591.1h1v1h-1zM136.5 596.3h1v1h-1zM131.9 597.5h1v1h-1zM123.7 603.6h1v1h-1zM135.5 603.0h1v1h-1zM137.2 597.1h1v1h-1zM126.8 600.7h1v1h-1zM134.9 604.0h1v1h-1zM140.6 600.1h1v1h-1zM120.1 605.9h1v1h-1zM124.4 603.5h1v1h-1zM129.8 594.5h1v1h-1zM146.2 600.8h1v1h-1zM117.2 599.5h1v1h-1zM131.3 598.7h1v1h-1zM116.4 603.8h1v1h-1zM126.1 608.5h1v1h-1zM128.0 596.5h1v1h-1zM138.3 594.6h1v1h-1zM114.2 598.0h1v1h-1zM135.5 601.0h1v1h-1zM132.1 598.9h1v1h-1zM116.6 603.0h1v1h-1zM119.4 603.3h1v1h-1zM130.5 598.8h1v1h-1zM125.7 604.6h1v1h-1zM136.7 594.3h1v1h-1zM131.5 598.0h1v1h-1zM121.5 601.4h1v1h-1zM130.4 604.6h1v1h-1zM112.2 604.0h1v1h-1zM131.5 601.4h1v1h-1zM128.3 598.4h1v1h-1zM112.7 598.9h1v1h-1zM126.7 609.0h1v1h-1zM127.0 594.7h1v1h-1zM120.6 609.9h1v1h-1zM129.6 598.0h1v1h-1zM127.5 601.9h1v1h-1zM136.5 591.9h1v1h-1zM127.3 603.9h1v1h-1zM128.8 603.0h1v1h-1zM140.9 604.7h1v1h-1zM121.0 600.5h1v1h-1zM119.6 600.0h1v1h-1zM128.9 595.1h1v1h-1zM127.0 594.6h1v1h-1zM113.9 591.5h1v1h-1zM138.8 602.4h1v1h-1zM129.5 601.6h1v1h-1zM130.9 606.7h1v1h-1zM123.2 599.6h1v1h-1zM130.5 591.7h1v1h-1zM128.7 593.8h1v1h-1zM131.8 605.1h1v1h-1zM126.9 606.3h1v1h-1zM136.5 595.0h1v1h-1zM132.5 600.9h1v1h-1zM120.6 607.4h1v1h-1zM135.2 603.8h1v1h-1zM125.2 603.4h1v1h-1zM128.5 590.1h1v1h-1zM144.2 585.7h1v1h-1zM127.9 596.0h1v1h-1zM114.4 600.7h1v1h-1zM123.6 593.9h1v1h-1zM118.2 594.6h1v1h-1zM130.7 596.7h1v1h-1zM135.0 597.9h1v1h-1zM132.2 602.5h1v1h-1zM135.3 593.6h1v1h-1zM132.2 600.0h1v1h-1zM128.7 594.5h1v1h-1zM123.1 599.9h1v1h-1zM133.1 595.5h1v1h-1zM123.9 599.3h1v1h-1zM104.7 617.6h1v1h-1zM112.4 617.4h1v1h-1zM115.0 625.0h1v1h-1zM117.3 622.5h1v1h-1zM127.4 623.2h1v1h-1zM132.9 622.5h1v1h-1zM132.3 619.9h1v1h-1zM137.7 622.3h1v1h-1zM131.7 622.9h1v1h-1zM136.2 621.2h1v1h-1zM102.1 618.5h1v1h-1zM120.6 617.5h1v1h-1zM121.3 619.6h1v1h-1zM117.1 620.7h1v1h-1zM122.4 615.9h1v1h-1zM125.2 617.7h1v1h-1zM118.7 623.9h1v1h-1zM110.5 620.5h1v1h-1zM125.0 614.9h1v1h-1zM124.3 629.0h1v1h-1zM119.0 620.3h1v1h-1zM113.3 625.5h1v1h-1zM115.1 627.5h1v1h-1zM124.2 613.8h1v1h-1zM114.7 627.7h1v1h-1zM108.9 624.9h1v1h-1zM139.7 616.9h1v1h-1zM127.8 619.0h1v1h-1zM126.0 616.6h1v1h-1zM125.4 615.2h1v1h-1zM113.6 610.1h1v1h-1zM123.5 607.3h1v1h-1zM120.4 612.0h1v1h-1zM110.7 613.6h1v1h-1zM114.8 627.4h1v1h-1zM116.8 621.7h1v1h-1zM130.4 611.8h1v1h-1zM128.9 618.5h1v1h-1zM113.6 621.8h1v1h-1zM113.3 618.8h1v1h-1zM126.0 611.1h1v1h-1zM130.3 614.1h1v1h-1zM120.1 620.9h1v1h-1zM121.0 622.5h1v1h-1zM118.8 615.8h1v1h-1zM117.9 622.4h1v1h-1zM132.9 615.6h1v1h-1zM125.4 614.5h1v1h-1zM121.6 630.7h1v1h-1zM119.0 628.8h1v1h-1zM117.4 621.6h1v1h-1zM119.7 621.9h1v1h-1zM106.9 628.9h1v1h-1zM124.0 629.0h1v1h-1zM114.2 617.9h1v1h-1zM132.0 621.6h1v1h-1zM112.3 617.6h1v1h-1zM125.9 638.3h1v1h-1zM109.8 625.4h1v1h-1zM134.1 617.5h1v1h-1zM125.0 614.2h1v1h-1zM129.2 631.6h1v1h-1zM128.2 626.4h1v1h-1zM112.8 617.1h1v1h-1zM131.2 611.2h1v1h-1zM118.1 624.5h1v1h-1zM127.2 604.6h1v1h-1zM101.1 623.6h1v1h-1zM128.5 622.7h1v1h-1zM130.1 621.0h1v1h-1zM119.0 613.0h1v1h-1zM121.1 617.1h1v1h-1zM130.4 624.9h1v1h-1zM107.8 623.6h1v1h-1zM122.4 625.7h1v1h-1zM114.8 621.9h1v1h-1zM126.4 620.7h1v1h-1zM111.8 624.6h1v1h-1zM127.1 614.8h1v1h-1zM117.2 624.3h1v1h-1zM103.9 623.3h1v1h-1zM124.5 628.5h1v1h-1zM120.1 607.8h1v1h-1zM116.7 611.9h1v1h-1zM125.4 622.1h1v1h-1zM111.9 615.9h1v1h-1zM123.5 621.7h1v1h-1zM123.5 617.8h1v1h-1zM134.4 620.0h1v1h-1zM116.1 631.5h1v1h-1zM129.7 617.7h1v1h-1zM114.9 632.9h1v1h-1zM123.2 626.9h1v1h-1zM123.6 622.9h1v1h-1zM132.6 619.0h1v1h-1zM119.5 623.2h1v1h-1zM109.2 625.1h1v1h-1zM133.4 621.1h1v1h-1zM116.3 626.8h1v1h-1zM116.8 626.1h1v1h-1zM128.8 616.2h1v1h-1zM108.6 630.0h1v1h-1zM123.6 622.8h1v1h-1zM120.3 627.4h1v1h-1zM114.9 630.8h1v1h-1zM115.0 627.8h1v1h-1zM113.7 624.2h1v1h-1zM130.3 621.4h1v1h-1zM101.2 613.5h1v1h-1zM101.6 608.0h1v1h-1zM120.2 611.3h1v1h-1zM119.5 620.5h1v1h-1zM120.7 624.3h1v1h-1zM110.9 629.8h1v1h-1zM108.6 613.1h1v1h-1zM122.7 624.9h1v1h-1zM127.9 616.2h1v1h-1zM113.4 622.0h1v1h-1zM120.4 617.0h1v1h-1zM129.4 636.2h1v1h-1zM136.3 597.4h1v1h-1zM115.6 640.5h1v1h-1zM125.1 599.6h1v1h-1zM132.4 602.8h1v1h-1zM146.3 624.7h1v1h-1zM140.0 615.0h1v1h-1zM118.6 622.4h1v1h-1zM124.5 605.2h1v1h-1zM157.5 604.2h1v1h-1zM137.6 603.3h1v1h-1zM137.1 601.2h1v1h-1zM109.7 616.7h1v1h-1zM124.3 596.5h1v1h-1zM105.3 595.9h1v1h-1zM134.1 607.9h1v1h-1zM115.5 594.0h1v1h-1zM127.9 621.1h1v1h-1zM113.7 602.0h1v1h-1zM138.6 605.0h1v1h-1zM127.1 615.0h1v1h-1z" fill="#a81a00" fill-opacity="0.62"/>
<path d="M116.9 602.6h1v1h-1zM131.0 598.5h1v1h-1zM127.0 595.1h1v1h-1zM117.0 600.8h1v1h-1zM116.5 600.0h1v1h-1zM118.8 604.7h1v1h-1zM129.5 595.7h1v1h-1zM130.0 598.5h1v1h-1zM138.2 599.5h1v1h-1zM124.1 599.5h1v1h-1zM119.8 599.4h1v1h-1zM130.5 599.1h1v1h-1zM134.2 601.2h1v1h-1zM130.6 597.8h1v1h-1zM111.9 595.7h1v1h-1zM114.6 596.0h1v1h-1zM122.1 596.3h1v1h-1zM127.4 600.6h1v1h-1zM134.2 601.1h1v1h-1zM123.3 607.8h1v1h-1zM128.4 595.8h1v1h-1zM127.5 593.5h1v1h-1zM121.0 595.2h1v1h-1zM121.5 608.0h1v1h-1zM121.3 596.5h1v1h-1zM117.1 602.6h1v1h-1zM135.2 607.2h1v1h-1zM139.8 590.2h1v1h-1zM130.5 600.7h1v1h-1zM127.8 609.3h1v1h-1zM127.9 595.4h1v1h-1zM119.9 596.5h1v1h-1zM142.0 590.0h1v1h-1zM134.6 592.4h1v1h-1zM135.5 597.2h1v1h-1zM110.3 608.8h1v1h-1zM138.0 594.7h1v1h-1zM136.6 596.3h1v1h-1zM124.9 593.6h1v1h-1zM139.1 600.5h1v1h-1zM132.2 600.1h1v1h-1zM129.9 594.7h1v1h-1zM130.7 603.7h1v1h-1zM138.5 594.9h1v1h-1zM120.9 602.6h1v1h-1zM111.1 604.7h1v1h-1zM129.4 594.9h1v1h-1zM124.2 594.6h1v1h-1zM119.5 605.1h1v1h-1zM125.1 591.6h1v1h-1zM151.3 588.1h1v1h-1zM122.9 596.5h1v1h-1zM109.1 600.1h1v1h-1zM132.1 599.4h1v1h-1zM117.5 594.3h1v1h-1zM137.3 606.2h1v1h-1zM127.2 606.8h1v1h-1zM118.5 600.2h1v1h-1zM132.8 603.8h1v1h-1zM120.3 597.3h1v1h-1zM124.5 594.7h1v1h-1zM123.1 594.8h1v1h-1zM122.0 606.6h1v1h-1zM126.8 600.6h1v1h-1zM130.4 597.2h1v1h-1zM134.9 602.5h1v1h-1zM132.8 593.5h1v1h-1zM132.2 592.3h1v1h-1zM126.1 596.5h1v1h-1zM123.4 599.7h1v1h-1zM130.2 599.5h1v1h-1zM127.9 601.1h1v1h-1zM142.5 603.0h1v1h-1zM144.2 595.7h1v1h-1zM127.1 598.9h1v1h-1zM120.4 596.1h1v1h-1zM126.6 601.5h1v1h-1zM120.9 593.7h1v1h-1zM126.3 599.3h1v1h-1zM123.3 597.6h1v1h-1zM143.8 596.6h1v1h-1zM118.5 596.0h1v1h-1zM126.8 600.7h1v1h-1zM127.5 598.1h1v1h-1zM122.1 605.1h1v1h-1zM134.1 592.1h1v1h-1zM127.9 591.6h1v1h-1zM126.1 602.3h1v1h-1zM129.6 598.1h1v1h-1zM123.9 603.2h1v1h-1zM121.8 592.7h1v1h-1zM117.0 594.3h1v1h-1zM132.1 597.2h1v1h-1zM125.7 601.5h1v1h-1zM122.7 604.3h1v1h-1zM128.2 593.8h1v1h-1zM130.1 594.3h1v1h-1zM118.8 612.6h1v1h-1zM138.8 600.7h1v1h-1zM121.4 598.1h1v1h-1zM125.3 594.1h1v1h-1zM129.6 593.9h1v1h-1zM145.9 608.7h1v1h-1zM142.4 599.5h1v1h-1zM135.4 600.2h1v1h-1zM127.3 593.6h1v1h-1zM117.2 598.4h1v1h-1zM121.9 599.0h1v1h-1zM129.6 597.1h1v1h-1zM119.6 596.5h1v1h-1zM106.0 601.5h1v1h-1zM130.7 596.9h1v1h-1zM121.3 596.5h1v1h-1zM124.9 604.6h1v1h-1zM131.3 607.7h1v1h-1zM111.9 595.9h1v1h-1zM119.3 601.0h1v1h-1zM128.9 603.9h1v1h-1zM125.2 593.0h1v1h-1zM120.1 595.2h1v1h-1zM132.8 597.4h1v1h-1zM131.9 592.4h1v1h-1zM132.6 595.3h1v1h-1zM133.9 600.8h1v1h-1zM122.5 602.2h1v1h-1zM128.1 592.4h1v1h-1zM120.1 602.7h1v1h-1zM128.2 605.3h1v1h-1zM135.8 597.5h1v1h-1zM137.2 598.4h1v1h-1zM115.2 594.5h1v1h-1zM127.3 592.7h1v1h-1zM117.8 602.6h1v1h-1zM122.1 600.5h1v1h-1zM127.7 598.8h1v1h-1zM128.8 592.8h1v1h-1zM124.4 595.2h1v1h-1zM137.1 598.6h1v1h-1zM125.8 600.8h1v1h-1zM124.6 609.8h1v1h-1zM119.3 597.2h1v1h-1zM130.1 600.2h1v1h-1zM116.9 586.0h1v1h-1zM115.6 590.7h1v1h-1zM120.4 600.5h1v1h-1zM133.4 598.7h1v1h-1zM133.6 600.3h1v1h-1zM118.4 595.9h1v1h-1zM120.7 607.2h1v1h-1zM130.5 599.7h1v1h-1zM121.5 601.0h1v1h-1zM139.3 602.9h1v1h-1zM136.3 593.7h1v1h-1zM136.8 602.4h1v1h-1zM116.4 603.6h1v1h-1zM141.3 595.9h1v1h-1zM127.3 599.5h1v1h-1zM123.2 600.9h1v1h-1zM139.0 597.4h1v1h-1zM114.1 602.5h1v1h-1zM128.9 607.0h1v1h-1zM125.9 600.6h1v1h-1zM129.9 599.2h1v1h-1zM128.7 599.9h1v1h-1zM142.7 605.4h1v1h-1zM144.9 597.6h1v1h-1zM122.3 602.7h1v1h-1zM113.9 598.1h1v1h-1zM132.2 596.5h1v1h-1zM122.0 594.8h1v1h-1zM121.5 599.6h1v1h-1zM133.4 594.8h1v1h-1zM130.3 600.4h1v1h-1zM119.8 600.6h1v1h-1zM125.8 600.8h1v1h-1zM130.1 599.5h1v1h-1zM126.0 606.8h1v1h-1zM123.3 608.1h1v1h-1zM114.2 599.3h1v1h-1zM131.1 590.6h1v1h-1zM126.2 595.9h1v1h-1zM142.9 598.5h1v1h-1zM120.9 598.5h1v1h-1zM120.4 594.6h1v1h-1zM129.5 601.1h1v1h-1zM140.3 599.6h1v1h-1zM126.3 597.5h1v1h-1zM135.8 602.4h1v1h-1zM116.3 603.1h1v1h-1zM127.8 599.6h1v1h-1zM134.6 594.7h1v1h-1zM126.4 595.1h1v1h-1zM110.6 603.1h1v1h-1zM126.3 606.0h1v1h-1zM138.4 597.9h1v1h-1zM127.8 604.9h1v1h-1zM133.1 594.7h1v1h-1zM137.4 600.9h1v1h-1zM131.8 599.0h1v1h-1zM132.4 602.5h1v1h-1zM132.4 592.1h1v1h-1zM130.0 590.5h1v1h-1zM125.2 602.0h1v1h-1zM132.2 603.2h1v1h-1zM131.9 597.8h1v1h-1zM125.1 599.7h1v1h-1zM109.0 592.1h1v1h-1zM109.3 592.1h1v1h-1zM133.4 595.7h1v1h-1zM124.2 596.5h1v1h-1zM127.0 590.7h1v1h-1zM146.1 600.3h1v1h-1zM128.7 592.9h1v1h-1zM128.5 605.1h1v1h-1zM122.7 602.4h1v1h-1zM131.5 601.4h1v1h-1zM126.9 594.8h1v1h-1zM123.7 596.3h1v1h-1zM114.6 599.7h1v1h-1zM129.0 587.7h1v1h-1zM120.1 604.4h1v1h-1zM114.8 599.9h1v1h-1zM121.1 594.4h1v1h-1zM122.2 600.9h1v1h-1zM117.1 590.6h1v1h-1zM124.2 592.5h1v1h-1zM128.7 598.3h1v1h-1zM122.7 599.0h1v1h-1zM122.8 602.2h1v1h-1zM125.5 601.5h1v1h-1zM131.1 598.8h1v1h-1zM126.4 596.0h1v1h-1zM133.7 606.2h1v1h-1zM131.4 602.3h1v1h-1zM130.3 599.9h1v1h-1zM139.1 598.5h1v1h-1zM116.1 607.4h1v1h-1zM123.5 602.8h1v1h-1zM114.7 594.0h1v1h-1zM119.6 600.4h1v1h-1zM142.3 600.5h1v1h-1zM110.9 605.3h1v1h-1zM129.5 601.5h1v1h-1zM124.1 606.3h1v1h-1zM128.3 602.4h1v1h-1zM144.0 593.2h1v1h-1zM134.7 603.1h1v1h-1zM118.5 595.5h1v1h-1zM137.2 591.2h1v1h-1zM127.9 596.5h1v1h-1zM112.5 598.0h1v1h-1zM123.3 597.2h1v1h-1zM119.0 599.7h1v1h-1zM119.0 613.8h1v1h-1zM125.7 594.5h1v1h-1zM127.2 597.5h1v1h-1zM142.6 585.5h1v1h-1zM121.4 598.8h1v1h-1zM115.0 595.6h1v1h-1zM126.8 601.8h1v1h-1zM117.3 586.4h1v1h-1zM133.1 598.1h1v1h-1zM126.2 599.9h1v1h-1zM122.8 591.1h1v1h-1zM125.2 601.1h1v1h-1zM122.1 597.7h1v1h-1zM124.6 598.3h1v1h-1zM118.5 597.6h1v1h-1zM137.8 604.1h1v1h-1zM129.3 596.5h1v1h-1zM137.7 597.6h1v1h-1zM137.4 596.3h1v1h-1zM135.6 598.0h1v1h-1zM123.2 608.3h1v1h-1zM133.6 600.3h1v1h-1zM124.5 593.5h1v1h-1zM119.6 591.9h1v1h-1zM125.4 598.0h1v1h-1zM124.7 602.7h1v1h-1zM142.8 604.9h1v1h-1zM123.0 589.9h1v1h-1zM120.4 606.3h1v1h-1zM137.8 598.6h1v1h-1zM140.7 596.8h1v1h-1zM121.4 599.4h1v1h-1zM135.9 596.8h1v1h-1zM140.7 601.0h1v1h-1zM126.9 593.4h1v1h-1zM139.5 593.8h1v1h-1zM135.5 589.3h1v1h-1zM122.2 598.9h1v1h-1zM125.2 600.9h1v1h-1zM126.5 602.4h1v1h-1zM129.0 597.7h1v1h-1zM127.5 599.4h1v1h-1zM123.3 599.1h1v1h-1zM125.4 604.2h1v1h-1zM122.7 603.6h1v1h-1zM127.3 588.4h1v1h-1zM114.0 597.3h1v1h-1zM132.5 594.6h1v1h-1zM129.0 606.4h1v1h-1zM128.4 595.2h1v1h-1zM128.3 608.2h1v1h-1zM139.0 597.9h1v1h-1zM117.8 602.8h1v1h-1zM123.2 604.2h1v1h-1zM121.7 601.6h1v1h-1zM131.2 597.5h1v1h-1zM112.5 597.0h1v1h-1zM124.7 596.5h1v1h-1zM138.2 594.5h1v1h-1zM124.2 584.5h1v1h-1zM139.5 591.4h1v1h-1zM135.8 600.6h1v1h-1zM138.2 600.1h1v1h-1zM132.9 598.1h1v1h-1zM131.1 601.7h1v1h-1zM126.1 602.4h1v1h-1zM138.2 606.5h1v1h-1zM127.6 599.0h1v1h-1zM126.5 594.1h1v1h-1zM133.0 598.0h1v1h-1zM127.8 594.1h1v1h-1zM126.7 605.6h1v1h-1zM131.0 597.5h1v1h-1zM127.0 598.3h1v1h-1zM128.5 609.8h1v1h-1zM126.8 599.8h1v1h-1zM135.2 603.9h1v1h-1zM126.5 595.9h1v1h-1zM139.8 600.8h1v1h-1zM130.3 596.5h1v1h-1zM133.9 595.2h1v1h-1zM135.4 597.2h1v1h-1zM132.4 604.2h1v1h-1zM125.8 601.1h1v1h-1zM147.1 597.8h1v1h-1zM125.0 599.5h1v1h-1zM122.6 602.3h1v1h-1zM124.5 596.2h1v1h-1zM120.5 597.0h1v1h-1zM129.5 598.9h1v1h-1zM138.2 591.4h1v1h-1zM129.3 597.4h1v1h-1zM119.2 605.2h1v1h-1zM130.9 599.7h1v1h-1zM125.8 595.2h1v1h-1zM129.5 598.0h1v1h-1zM113.5 596.9h1v1h-1zM105.6 598.8h1v1h-1zM113.3 596.6h1v1h-1zM131.9 592.0h1v1h-1zM125.9 605.2h1v1h-1zM134.4 599.3h1v1h-1zM129.0 598.7h1v1h-1zM140.6 596.8h1v1h-1zM121.1 597.0h1v1h-1zM138.9 602.6h1v1h-1zM114.8 599.1h1v1h-1zM133.4 594.5h1v1h-1zM134.6 604.2h1v1h-1zM128.7 596.9h1v1h-1zM132.4 600.3h1v1h-1zM130.7 600.8h1v1h-1zM133.4 602.0h1v1h-1zM136.8 593.1h1v1h-1zM132.1 595.4h1v1h-1zM116.5 601.4h1v1h-1zM128.6 595.7h1v1h-1zM127.6 600.4h1v1h-1zM113.9 608.0h1v1h-1zM125.4 595.6h1v1h-1zM134.9 594.1h1v1h-1zM128.1 596.0h1v1h-1zM120.3 605.6h1v1h-1zM122.6 596.5h1v1h-1zM123.5 600.0h1v1h-1zM113.2 602.9h1v1h-1zM119.0 602.7h1v1h-1zM143.0 598.7h1v1h-1zM119.9 601.0h1v1h-1zM123.4 600.7h1v1h-1zM125.6 605.9h1v1h-1zM121.7 596.1h1v1h-1zM134.6 599.4h1v1h-1zM143.2 607.0h1v1h-1zM123.9 601.8h1v1h-1zM128.9 609.6h1v1h-1zM122.0 596.8h1v1h-1zM135.0 590.6h1v1h-1zM119.3 599.1h1v1h-1zM123.6 596.6h1v1h-1zM126.4 598.5h1v1h-1zM116.9 601.8h1v1h-1zM130.7 590.2h1v1h-1zM124.6 598.1h1v1h-1zM120.2 599.7h1v1h-1zM139.1 601.7h1v1h-1zM132.6 604.5h1v1h-1zM123.4 598.5h1v1h-1zM137.5 606.5h1v1h-1zM127.0 604.7h1v1h-1zM119.7 599.2h1v1h-1zM115.9 595.6h1v1h-1zM127.7 589.9h1v1h-1zM132.6 599.8h1v1h-1zM135.5 597.4h1v1h-1zM123.6 595.3h1v1h-1zM132.9 588.4h1v1h-1zM114.8 593.5h1v1h-1zM125.7 602.1h1v1h-1zM124.3 603.6h1v1h-1zM124.6 608.6h1v1h-1zM140.2 603.1h1v1h-1zM121.8 596.2h1v1h-1zM126.5 598.3h1v1h-1zM130.6 601.6h1v1h-1zM127.1 607.8h1v1h-1zM127.4 602.1h1v1h-1zM136.3 597.3h1v1h-1zM122.2 606.7h1v1h-1zM120.8 592.7h1v1h-1zM130.2 595.9h1v1h-1zM124.6 604.3h1v1h-1zM134.6 594.1h1v1h-1zM125.2 597.0h1v1h-1zM123.3 594.7h1v1h-1zM125.3 599.1h1v1h-1zM119.0 603.5h1v1h-1zM128.5 600.6h1v1h-1zM126.3 594.3h1v1h-1zM124.1 602.6h1v1h-1zM121.9 609.6h1v1h-1zM137.3 598.8h1v1h-1zM110.0 593.0h1v1h-1zM143.5 597.3h1v1h-1zM115.2 602.3h1v1h-1zM123.7 589.2h1v1h-1zM127.8 598.0h1v1h-1zM126.8 585.8h1v1h-1zM136.9 593.1h1v1h-1zM134.2 595.3h1v1h-1zM121.3 596.1h1v1h-1zM124.4 594.2h1v1h-1zM128.4 598.1h1v1h-1zM127.8 598.9h1v1h-1zM130.0 600.6h1v1h-1zM120.4 600.3h1v1h-1zM125.7 603.2h1v1h-1zM134.9 603.2h1v1h-1zM134.2 594.8h1v1h-1zM120.3 601.8h1v1h-1zM122.8 596.6h1v1h-1zM128.3 594.0h1v1h-1zM142.5 601.1h1v1h-1zM140.5 601.1h1v1h-1zM122.2 599.5h1v1h-1zM115.5 600.6h1v1h-1zM112.7 601.7h1v1h-1zM133.6 593.4h1v1h-1zM134.0 607.0h1v1h-1zM117.7 588.8h1v1h-1zM126.3 599.7h1v1h-1zM126.2 598.1h1v1h-1zM117.9 607.4h1v1h-1zM120.2 605.9h1v1h-1zM113.6 606.9h1v1h-1zM129.6 592.9h1v1h-1zM143.4 600.6h1v1h-1zM142.8 596.9h1v1h-1zM125.4 600.1h1v1h-1zM138.0 588.8h1v1h-1zM127.9 604.3h1v1h-1zM118.0 596.3h1v1h-1zM125.0 598.7h1v1h-1zM119.6 597.2h1v1h-1zM125.8 600.5h1v1h-1zM125.2 602.3h1v1h-1zM131.2 598.4h1v1h-1zM126.7 596.8h1v1h-1zM120.9 606.8h1v1h-1zM128.3 600.9h1v1h-1zM138.5 596.2h1v1h-1zM137.5 599.6h1v1h-1zM141.3 600.9h1v1h-1zM141.2 600.8h1v1h-1zM135.8 597.9h1v1h-1zM127.7 588.6h1v1h-1zM131.8 599.9h1v1h-1zM120.6 596.0h1v1h-1zM116.7 608.5h1v1h-1zM121.6 598.8h1v1h-1zM127.0 602.4h1v1h-1zM129.8 596.4h1v1h-1zM134.5 599.4h1v1h-1zM133.3 594.9h1v1h-1zM120.7 598.4h1v1h-1zM116.4 595.3h1v1h-1zM131.7 599.6h1v1h-1zM118.5 596.9h1v1h-1zM142.6 598.8h1v1h-1zM122.2 596.3h1v1h-1zM125.2 602.7h1v1h-1zM131.2 595.9h1v1h-1zM134.0 606.2h1v1h-1zM131.8 599.5h1v1h-1zM140.0 601.0h1v1h-1zM121.9 596.7h1v1h-1zM131.8 594.1h1v1h-1zM118.0 603.7h1v1h-1zM129.6 598.3h1v1h-1zM124.8 602.1h1v1h-1zM145.0 603.2h1v1h-1zM133.8 593.6h1v1h-1zM126.4 602.7h1v1h-1zM128.7 607.0h1v1h-1zM120.9 596.2h1v1h-1zM118.9 603.3h1v1h-1zM138.7 597.5h1v1h-1zM127.1 605.4h1v1h-1zM132.4 598.5h1v1h-1zM127.0 596.6h1v1h-1zM127.5 594.4h1v1h-1zM131.5 601.1h1v1h-1zM119.9 604.8h1v1h-1zM125.8 603.5h1v1h-1zM125.9 602.0h1v1h-1zM117.9 596.6h1v1h-1zM123.6 610.1h1v1h-1zM135.3 591.4h1v1h-1zM128.9 597.9h1v1h-1zM126.9 601.4h1v1h-1zM141.3 597.7h1v1h-1zM121.4 599.3h1v1h-1zM110.6 605.0h1v1h-1zM127.3 598.6h1v1h-1zM133.2 591.2h1v1h-1zM131.1 598.8h1v1h-1zM117.9 596.2h1v1h-1zM113.4 600.9h1v1h-1zM128.2 594.9h1v1h-1zM137.6 603.3h1v1h-1zM128.6 603.1h1v1h-1zM124.6 603.8h1v1h-1zM130.9 594.9h1v1h-1zM122.4 596.5h1v1h-1zM139.9 593.7h1v1h-1zM112.2 598.0h1v1h-1zM130.1 598.4h1v1h-1zM126.1 602.5h1v1h-1zM137.1 604.3h1v1h-1zM143.4 598.7h1v1h-1zM125.2 603.3h1v1h-1zM121.3 600.2h1v1h-1zM128.1 599.9h1v1h-1zM136.2 597.6h1v1h-1zM131.6 598.4h1v1h-1zM115.0 601.3h1v1h-1zM132.2 602.2h1v1h-1zM121.2 598.3h1v1h-1zM131.4 599.9h1v1h-1zM107.7 605.6h1v1h-1zM120.1 598.1h1v1h-1zM122.1 596.3h1v1h-1zM121.8 599.0h1v1h-1zM112.8 598.7h1v1h-1zM132.8 605.7h1v1h-1zM122.5 598.1h1v1h-1zM124.1 605.8h1v1h-1zM127.2 595.1h1v1h-1zM129.5 592.3h1v1h-1zM133.1 584.0h1v1h-1zM130.1 597.9h1v1h-1zM120.6 597.8h1v1h-1zM131.9 607.5h1v1h-1zM123.9 611.1h1v1h-1zM114.8 611.5h1v1h-1zM121.0 619.1h1v1h-1zM120.6 633.5h1v1h-1zM120.8 628.4h1v1h-1zM112.0 620.4h1v1h-1zM128.5 628.0h1v1h-1zM124.3 621.0h1v1h-1zM125.0 615.7h1v1h-1zM108.5 626.5h1v1h-1zM115.0 621.7h1v1h-1zM119.9 625.5h1v1h-1zM131.9 625.2h1v1h-1zM118.7 621.8h1v1h-1zM121.2 616.8h1v1h-1zM127.3 631.5h1v1h-1zM114.3 627.0h1v1h-1zM115.7 619.0h1v1h-1zM105.9 619.7h1v1h-1zM129.8 625.8h1v1h-1zM133.2 622.0h1v1h-1zM135.3 627.8h1v1h-1zM113.4 617.1h1v1h-1zM114.4 635.2h1v1h-1zM128.8 618.3h1v1h-1zM127.8 635.2h1v1h-1zM122.4 609.3h1v1h-1zM126.1 622.1h1v1h-1zM113.7 620.8h1v1h-1zM117.3 610.2h1v1h-1zM126.5 611.2h1v1h-1zM122.9 628.1h1v1h-1zM130.9 615.6h1v1h-1zM115.1 622.2h1v1h-1zM114.7 609.6h1v1h-1zM128.0 620.4h1v1h-1zM121.9 614.9h1v1h-1zM113.9 620.9h1v1h-1zM118.9 617.0h1v1h-1zM118.6 620.5h1v1h-1zM120.9 625.4h1v1h-1zM115.9 627.6h1v1h-1zM131.7 625.4h1v1h-1zM127.9 609.9h1v1h-1zM132.3 618.8h1v1h-1zM119.5 620.6h1v1h-1zM124.9 622.6h1v1h-1zM114.6 624.8h1v1h-1zM107.1 612.0h1v1h-1zM119.8 628.1h1v1h-1zM118.0 629.2h1v1h-1zM128.3 620.4h1v1h-1zM118.1 615.9h1v1h-1zM127.1 636.8h1v1h-1zM124.7 624.8h1v1h-1zM122.7 633.5h1v1h-1zM116.5 618.4h1v1h-1zM111.6 624.0h1v1h-1zM116.9 626.8h1v1h-1zM125.4 618.3h1v1h-1zM112.3 625.8h1v1h-1zM131.8 619.9h1v1h-1zM127.5 623.1h1v1h-1zM125.1 624.9h1v1h-1zM125.3 617.5h1v1h-1zM117.1 620.0h1v1h-1zM123.0 620.1h1v1h-1zM120.2 629.5h1v1h-1zM120.0 615.1h1v1h-1zM116.0 614.9h1v1h-1zM125.0 625.4h1v1h-1zM136.3 625.8h1v1h-1zM117.8 612.6h1v1h-1zM116.7 623.8h1v1h-1zM120.5 610.8h1v1h-1zM117.5 627.5h1v1h-1zM124.5 624.8h1v1h-1zM125.8 626.4h1v1h-1zM122.0 624.8h1v1h-1zM133.7 613.6h1v1h-1zM118.1 621.6h1v1h-1zM123.7 619.6h1v1h-1zM121.4 629.2h1v1h-1zM122.4 618.1h1v1h-1zM111.3 621.7h1v1h-1zM124.2 627.1h1v1h-1zM131.5 613.2h1v1h-1zM113.5 615.8h1v1h-1zM121.0 624.8h1v1h-1zM111.9 634.7h1v1h-1zM110.3 623.0h1v1h-1zM116.8 626.7h1v1h-1zM122.4 609.5h1v1h-1zM124.4 609.9h1v1h-1zM117.2 624.9h1v1h-1zM103.7 629.0h1v1h-1zM124.3 629.2h1v1h-1zM122.7 624.0h1v1h-1zM119.4 613.4h1v1h-1zM118.9 628.1h1v1h-1zM124.3 622.1h1v1h-1zM119.4 623.8h1v1h-1zM120.6 621.2h1v1h-1zM128.2 616.3h1v1h-1zM119.3 615.6h1v1h-1zM130.4 622.2h1v1h-1zM125.2 609.9h1v1h-1zM122.9 612.7h1v1h-1zM121.2 609.8h1v1h-1zM131.4 623.8h1v1h-1zM120.2 619.7h1v1h-1zM117.8 615.3h1v1h-1zM124.1 617.4h1v1h-1zM122.8 612.6h1v1h-1zM115.3 622.2h1v1h-1zM124.9 615.0h1v1h-1zM123.2 625.6h1v1h-1zM121.2 617.0h1v1h-1zM123.3 614.6h1v1h-1zM139.6 599.4h1v1h-1zM148.1 612.5h1v1h-1zM138.2 611.3h1v1h-1zM140.4 588.9h1v1h-1zM152.9 602.8h1v1h-1zM125.7 617.8h1v1h-1zM157.8 609.9h1v1h-1zM159.6 607.8h1v1h-1zM125.2 604.9h1v1h-1zM125.1 598.9h1v1h-1zM133.3 610.7h1v1h-1zM139.3 610.0h1v1h-1zM108.1 597.3h1v1h-1zM159.6 610.2h1v1h-1zM134.1 600.9h1v1h-1zM119.4 601.4h1v1h-1zM142.5 602.2h1v1h-1zM126.1 598.8h1v1h-1zM134.1 615.8h1v1h-1zM137.4 605.6h1v1h-1z" fill="#a81a00" fill-opacity="0.62"/>
<path d="M131.9 600.1h1v1h-1zM135.4 597.8h1v1h-1zM125.5 592.8h1v1h-1zM120.2 602.8h1v1h-1zM130.5 600.5h1v1h-1zM134.6 604.2h1v1h-1zM123.0 594.5h1v1h-1zM111.5 604.9h1v1h-1zM132.5 595.4h1v1h-1zM122.5 592.9h1v1h-1zM106.2 601.0h1v1h-1zM131.9 594.8h1v1h-1zM123.2 603.0h1v1h-1zM125.5 603.4h1v1h-1zM126.7 606.7h1v1h-1zM137.9 602.6h1v1h-1zM119.2 601.9h1v1h-1zM136.3 598.3h1v1h-1zM141.4 601.7h1v1h-1zM118.7 602.2h1v1h-1zM140.7 599.0h1v1h-1zM137.3 596.0h1v1h-1zM124.9 601.3h1v1h-1zM133.1 599.9h1v1h-1zM132.0 600.8h1v1h-1zM132.7 599.3h1v1h-1zM137.2 597.0h1v1h-1zM121.5 602.1h1v1h-1zM126.1 587.7h1v1h-1zM128.3 601.5h1v1h-1zM123.9 600.6h1v1h-1zM113.9 608.6h1v1h-1zM119.5 605.6h1v1h-1zM139.7 595.4h1v1h-1zM129.6 596.5h1v1h-1zM127.9 601.2h1v1h-1zM138.2 592.4h1v1h-1zM114.6 604.9h1v1h-1zM121.4 604.9h1v1h-1zM118.1 593.3h1v1h-1zM106.4 599.2h1v1h-1zM114.8 601.1h1v1h-1zM135.0 607.7h1v1h-1zM115.5 592.2h1v1h-1zM127.8 601.2h1v1h-1zM116.2 602.0h1v1h-1zM123.7 599.4h1v1h-1zM124.1 600.8h1v1h-1zM126.9 599.3h1v1h-1zM127.4 595.2h1v1h-1zM147.9 592.7h1v1h-1zM121.8 602.4h1v1h-1zM131.1 596.9h1v1h-1zM138.8 591.4h1v1h-1zM127.4 603.3h1v1h-1zM119.9 592.2h1v1h-1zM103.3 607.1h1v1h-1zM137.3 590.1h1v1h-1zM125.5 609.5h1v1h-1zM140.4 602.0h1v1h-1zM111.0 593.7h1v1h-1zM138.6 596.4h1v1h-1zM126.0 586.7h1v1h-1zM146.2 602.9h1v1h-1zM130.9 596.4h1v1h-1zM114.5 603.7h1v1h-1zM111.0 600.9h1v1h-1zM120.1 601.7h1v1h-1zM116.4 600.1h1v1h-1zM140.3 605.8h1v1h-1zM134.7 601.8h1v1h-1zM124.0 599.2h1v1h-1zM124.8 605.5h1v1h-1zM130.0 601.8h1v1h-1zM131.7 600.8h1v1h-1zM111.7 591.1h1v1h-1zM132.0 598.9h1v1h-1zM117.4 602.5h1v1h-1zM130.4 601.3h1v1h-1zM113.9 596.1h1v1h-1zM127.1 592.4h1v1h-1zM121.5 591.2h1v1h-1zM134.7 595.3h1v1h-1zM126.7 602.2h1v1h-1zM134.6 592.4h1v1h-1zM126.6 590.3h1v1h-1zM131.8 601.1h1v1h-1zM129.5 599.2h1v1h-1zM136.0 600.5h1v1h-1zM144.1 600.8h1v1h-1zM135.9 596.1h1v1h-1zM142.4 594.9h1v1h-1zM125.7 604.3h1v1h-1zM133.1 594.3h1v1h-1zM134.8 600.9h1v1h-1zM130.0 607.7h1v1h-1zM132.5 599.2h1v1h-1zM129.5 600.4h1v1h-1zM125.3 592.1h1v1h-1zM127.2 588.2h1v1h-1zM130.9 604.8h1v1h-1zM130.3 602.8h1v1h-1zM127.2 601.2h1v1h-1zM122.9 597.3h1v1h-1zM122.6 596.1h1v1h-1zM142.8 597.0h1v1h-1zM124.0 602.6h1v1h-1zM122.9 605.2h1v1h-1zM143.9 601.8h1v1h-1zM122.9 601.8h1v1h-1zM130.0 596.4h1v1h-1zM130.2 604.3h1v1h-1zM135.7 602.9h1v1h-1zM129.2 596.3h1v1h-1zM123.8 599.5h1v1h-1zM129.8 593.3h1v1h-1zM112.4 603.3h1v1h-1zM108.0 597.3h1v1h-1zM131.7 591.3h1v1h-1zM138.1 600.4h1v1h-1zM142.3 599.0h1v1h-1zM126.0 600.0h1v1h-1zM127.8 601.5h1v1h-1zM123.8 601.0h1v1h-1zM121.8 601.7h1v1h-1zM114.3 600.4h1v1h-1zM123.0 601.4h1v1h-1zM129.5 594.8h1v1h-1zM142.3 597.2h1v1h-1zM131.2 595.2h1v1h-1zM122.4 602.6h1v1h-1zM125.4 603.9h1v1h-1zM134.9 597.3h1v1h-1zM135.5 598.0h1v1h-1zM110.5 601.8h1v1h-1zM130.8 591.8h1v1h-1zM133.9 590.0h1v1h-1zM136.2 596.3h1v1h-1zM122.7 596.6h1v1h-1zM126.5 595.8h1v1h-1zM116.6 597.5h1v1h-1zM127.4 605.5h1v1h-1zM124.5 593.5h1v1h-1zM146.4 601.4h1v1h-1zM129.0 588.6h1v1h-1zM137.3 601.5h1v1h-1zM131.6 602.4h1v1h-1zM124.9 602.5h1v1h-1zM141.3 595.0h1v1h-1zM135.0 599.4h1v1h-1zM125.9 597.9h1v1h-1zM129.2 605.6h1v1h-1zM117.7 609.6h1v1h-1zM141.2 601.6h1v1h-1zM122.2 600.7h1v1h-1zM121.6 609.0h1v1h-1zM117.4 595.9h1v1h-1zM133.5 608.9h1v1h-1zM122.7 605.1h1v1h-1zM133.6 599.5h1v1h-1zM135.0 597.2h1v1h-1zM132.0 599.2h1v1h-1zM129.6 601.8h1v1h-1zM137.9 589.2h1v1h-1zM125.9 602.6h1v1h-1zM130.2 597.6h1v1h-1zM109.7 592.4h1v1h-1zM126.7 600.5h1v1h-1zM136.1 601.2h1v1h-1zM118.8 599.7h1v1h-1zM113.0 606.6h1v1h-1zM122.1 609.2h1v1h-1zM120.8 601.1h1v1h-1zM130.4 594.7h1v1h-1zM133.4 593.6h1v1h-1zM129.7 602.0h1v1h-1zM157.4 596.6h1v1h-1zM129.7 593.9h1v1h-1zM132.9 602.7h1v1h-1zM126.4 593.7h1v1h-1zM118.0 601.7h1v1h-1zM131.8 594.8h1v1h-1zM142.2 599.2h1v1h-1zM115.2 593.7h1v1h-1zM119.9 597.3h1v1h-1zM122.7 599.6h1v1h-1zM137.3 600.4h1v1h-1zM124.9 599.5h1v1h-1zM117.0 600.9h1v1h-1zM129.9 600.3h1v1h-1zM116.1 596.1h1v1h-1zM116.7 593.9h1v1h-1zM132.3 604.6h1v1h-1zM123.2 610.0h1v1h-1zM131.3 598.7h1v1h-1zM124.9 599.7h1v1h-1zM132.0 598.9h1v1h-1zM129.0 611.1h1v1h-1zM125.2 605.1h1v1h-1zM128.5 600.3h1v1h-1zM124.3 588.9h1v1h-1zM135.2 596.4h1v1h-1zM125.2 596.1h1v1h-1zM133.7 601.4h1v1h-1zM129.7 603.4h1v1h-1zM132.7 592.1h1v1h-1zM136.2 602.1h1v1h-1zM123.9 592.2h1v1h-1zM133.6 594.0h1v1h-1zM107.1 592.8h1v1h-1zM125.9 598.0h1v1h-1zM111.8 593.3h1v1h-1zM139.7 597.1h1v1h-1zM138.1 594.2h1v1h-1zM127.2 599.3h1v1h-1zM137.2 602.0h1v1h-1zM126.9 595.4h1v1h-1zM128.7 597.0h1v1h-1zM129.0 589.8h1v1h-1zM124.1 597.7h1v1h-1zM132.0 599.9h1v1h-1zM109.3 601.0h1v1h-1zM126.1 599.9h1v1h-1zM139.2 594.1h1v1h-1zM127.5 595.4h1v1h-1zM127.4 604.5h1v1h-1zM129.5 591.8h1v1h-1zM114.3 604.3h1v1h-1zM113.8 605.4h1v1h-1zM127.8 587.6h1v1h-1zM124.7 593.5h1v1h-1zM136.3 609.4h1v1h-1zM127.0 609.8h1v1h-1zM123.3 602.1h1v1h-1zM128.0 598.4h1v1h-1zM141.8 597.3h1v1h-1zM143.1 597.9h1v1h-1zM135.3 601.7h1v1h-1zM125.7 606.7h1v1h-1zM137.1 611.8h1v1h-1zM123.9 604.1h1v1h-1zM149.9 591.2h1v1h-1zM117.4 599.0h1v1h-1zM112.1 597.1h1v1h-1zM128.2 591.7h1v1h-1zM128.6 595.5h1v1h-1zM127.5 596.9h1v1h-1zM118.7 605.2h1v1h-1zM128.7 601.4h1v1h-1zM117.2 607.0h1v1h-1zM135.1 597.9h1v1h-1zM119.9 603.4h1v1h-1zM124.3 597.6h1v1h-1zM147.9 609.3h1v1h-1zM135.3 597.9h1v1h-1zM131.4 596.4h1v1h-1zM120.9 598.2h1v1h-1zM126.2 596.0h1v1h-1zM135.6 592.1h1v1h-1zM130.7 606.9h1v1h-1zM140.1 607.9h1v1h-1zM149.7 601.9h1v1h-1zM128.5 604.7h1v1h-1zM120.3 592.3h1v1h-1zM136.3 601.3h1v1h-1zM127.6 590.2h1v1h-1zM144.5 602.0h1v1h-1zM131.6 593.4h1v1h-1zM145.1 595.5h1v1h-1zM131.8 601.2h1v1h-1zM121.3 604.2h1v1h-1zM130.5 591.7h1v1h-1zM122.5 598.6h1v1h-1zM138.7 596.4h1v1h-1zM114.9 607.2h1v1h-1zM140.0 601.6h1v1h-1zM121.2 596.3h1v1h-1zM130.8 600.5h1v1h-1zM132.0 596.1h1v1h-1zM134.0 605.7h1v1h-1zM117.4 597.6h1v1h-1zM137.9 597.1h1v1h-1zM130.4 601.0h1v1h-1zM128.1 605.8h1v1h-1zM110.4 605.5h1v1h-1zM126.6 601.1h1v1h-1zM119.0 597.7h1v1h-1zM99.3 599.5h1v1h-1zM125.1 591.7h1v1h-1zM116.9 598.6h1v1h-1zM142.0 602.3h1v1h-1zM133.3 596.7h1v1h-1zM127.2 592.6h1v1h-1zM116.9 601.4h1v1h-1zM132.1 596.7h1v1h-1zM134.8 602.5h1v1h-1zM134.2 606.8h1v1h-1zM117.5 607.5h1v1h-1zM130.9 601.6h1v1h-1zM126.4 594.8h1v1h-1zM131.0 600.3h1v1h-1zM115.7 611.3h1v1h-1zM133.6 603.4h1v1h-1zM132.1 606.1h1v1h-1zM124.1 596.6h1v1h-1zM130.2 599.7h1v1h-1zM116.2 599.4h1v1h-1zM130.3 599.3h1v1h-1zM135.9 609.5h1v1h-1zM121.4 606.6h1v1h-1zM115.2 606.8h1v1h-1zM132.7 605.9h1v1h-1zM131.9 606.3h1v1h-1zM146.6 590.2h1v1h-1zM136.8 595.9h1v1h-1zM131.5 591.4h1v1h-1zM128.0 594.1h1v1h-1zM122.5 589.8h1v1h-1zM125.3 593.1h1v1h-1zM133.8 596.8h1v1h-1zM121.6 605.0h1v1h-1zM122.4 596.6h1v1h-1zM138.0 597.2h1v1h-1zM118.6 591.4h1v1h-1zM132.9 590.9h1v1h-1zM130.2 601.7h1v1h-1zM130.7 601.5h1v1h-1zM131.7 598.3h1v1h-1zM134.4 591.1h1v1h-1zM149.3 598.5h1v1h-1zM117.5 600.5h1v1h-1zM125.1 597.4h1v1h-1zM129.5 598.3h1v1h-1zM139.4 592.0h1v1h-1zM124.9 597.6h1v1h-1zM118.0 595.3h1v1h-1zM138.4 594.6h1v1h-1zM135.1 604.3h1v1h-1zM109.7 594.4h1v1h-1zM116.8 603.3h1v1h-1zM119.6 602.5h1v1h-1zM116.9 596.2h1v1h-1zM108.8 595.9h1v1h-1zM126.7 601.8h1v1h-1zM141.6 607.7h1v1h-1zM126.3 597.5h1v1h-1zM114.4 596.2h1v1h-1zM121.7 601.8h1v1h-1zM128.1 593.1h1v1h-1zM136.5 595.5h1v1h-1zM132.0 601.1h1v1h-1zM131.7 593.6h1v1h-1zM129.3 601.1h1v1h-1zM138.1 600.9h1v1h-1zM138.5 597.3h1v1h-1zM123.9 602.5h1v1h-1zM134.9 601.4h1v1h-1zM114.3 595.0h1v1h-1zM139.1 592.2h1v1h-1zM117.0 590.5h1v1h-1zM138.9 592.8h1v1h-1zM113.2 600.2h1v1h-1zM133.9 601.0h1v1h-1zM128.9 595.1h1v1h-1zM125.9 598.6h1v1h-1zM139.3 588.0h1v1h-1zM119.4 594.7h1v1h-1zM132.5 602.9h1v1h-1zM135.4 595.2h1v1h-1zM124.6 603.1h1v1h-1zM133.2 603.3h1v1h-1zM122.4 603.4h1v1h-1zM125.7 597.6h1v1h-1zM124.9 595.9h1v1h-1zM123.0 603.6h1v1h-1zM127.1 599.5h1v1h-1zM147.3 596.6h1v1h-1zM130.6 597.0h1v1h-1zM134.3 602.4h1v1h-1zM132.0 602.9h1v1h-1zM145.4 598.8h1v1h-1zM121.9 604.4h1v1h-1zM119.5 596.1h1v1h-1zM142.4 593.5h1v1h-1zM114.3 600.2h1v1h-1zM122.9 601.1h1v1h-1zM135.3 595.8h1v1h-1zM124.5 609.2h1v1h-1zM126.8 599.5h1v1h-1zM152.9 593.2h1v1h-1zM124.2 598.1h1v1h-1zM139.9 603.4h1v1h-1zM109.1 596.4h1v1h-1zM123.1 588.6h1v1h-1zM124.2 602.1h1v1h-1zM129.5 591.7h1v1h-1zM117.3 601.5h1v1h-1zM132.3 594.5h1v1h-1zM123.0 602.4h1v1h-1zM126.4 598.3h1v1h-1zM127.0 587.7h1v1h-1zM132.3 601.0h1v1h-1zM135.3 597.1h1v1h-1zM129.8 601.7h1v1h-1zM122.5 607.6h1v1h-1zM120.0 594.9h1v1h-1zM137.6 599.5h1v1h-1zM133.1 599.2h1v1h-1zM128.8 596.5h1v1h-1zM120.5 597.7h1v1h-1zM130.1 597.3h1v1h-1zM131.1 593.3h1v1h-1zM122.0 597.6h1v1h-1zM113.7 606.1h1v1h-1zM126.9 595.2h1v1h-1zM125.0 594.1h1v1h-1zM129.1 599.1h1v1h-1zM134.4 595.8h1v1h-1zM143.3 605.6h1v1h-1zM133.9 602.8h1v1h-1zM124.0 600.1h1v1h-1zM129.0 602.8h1v1h-1zM128.9 600.9h1v1h-1zM132.4 600.7h1v1h-1zM133.5 603.4h1v1h-1zM129.0 595.8h1v1h-1zM137.7 592.5h1v1h-1zM126.2 610.4h1v1h-1zM127.5 601.3h1v1h-1zM118.6 598.6h1v1h-1zM134.3 599.4h1v1h-1zM138.7 603.0h1v1h-1zM117.0 595.2h1v1h-1zM128.5 603.3h1v1h-1zM125.4 601.9h1v1h-1zM119.8 596.7h1v1h-1zM123.1 598.9h1v1h-1zM134.3 598.3h1v1h-1zM130.5 589.1h1v1h-1zM144.0 596.5h1v1h-1zM119.4 606.0h1v1h-1zM135.2 595.3h1v1h-1zM105.3 608.5h1v1h-1zM107.3 604.1h1v1h-1zM140.5 608.6h1v1h-1zM134.5 599.6h1v1h-1zM127.9 603.6h1v1h-1zM124.5 615.6h1v1h-1zM132.4 592.1h1v1h-1zM116.6 596.9h1v1h-1zM126.9 601.1h1v1h-1zM133.7 602.7h1v1h-1zM126.4 599.7h1v1h-1zM128.5 604.9h1v1h-1zM127.3 599.4h1v1h-1zM123.7 595.7h1v1h-1zM121.9 592.2h1v1h-1zM120.8 590.9h1v1h-1zM128.1 599.0h1v1h-1zM125.4 599.8h1v1h-1zM133.4 591.8h1v1h-1zM125.2 596.7h1v1h-1zM115.8 600.2h1v1h-1zM117.8 601.4h1v1h-1zM145.6 590.7h1v1h-1zM120.4 599.5h1v1h-1zM121.1 606.2h1v1h-1zM123.1 595.5h1v1h-1zM133.0 601.8h1v1h-1zM130.0 600.7h1v1h-1zM127.3 595.4h1v1h-1zM124.9 597.6h1v1h-1zM122.5 606.3h1v1h-1zM126.8 602.3h1v1h-1zM125.3 596.3h1v1h-1zM133.2 606.0h1v1h-1zM121.2 605.0h1v1h-1zM140.6 602.2h1v1h-1zM145.3 593.6h1v1h-1zM113.7 595.6h1v1h-1zM110.0 602.3h1v1h-1zM134.6 603.3h1v1h-1zM144.8 594.3h1v1h-1zM125.4 597.9h1v1h-1zM122.9 595.1h1v1h-1zM131.8 593.0h1v1h-1zM125.1 594.3h1v1h-1zM131.0 603.8h1v1h-1zM130.8 592.6h1v1h-1zM129.0 600.3h1v1h-1zM130.4 600.2h1v1h-1zM130.4 606.5h1v1h-1zM124.9 593.7h1v1h-1zM142.6 608.2h1v1h-1zM140.6 597.0h1v1h-1zM116.5 606.0h1v1h-1zM133.4 599.5h1v1h-1zM139.1 599.3h1v1h-1zM119.7 607.5h1v1h-1zM118.0 604.9h1v1h-1zM123.2 599.0h1v1h-1zM131.3 598.1h1v1h-1zM120.3 592.3h1v1h-1zM132.0 603.7h1v1h-1zM146.1 601.9h1v1h-1zM125.3 609.1h1v1h-1zM140.1 599.9h1v1h-1zM127.6 602.9h1v1h-1zM135.9 600.9h1v1h-1zM117.5 591.9h1v1h-1zM106.3 603.0h1v1h-1zM116.5 594.1h1v1h-1zM129.0 597.8h1v1h-1zM129.5 604.7h1v1h-1zM136.8 600.1h1v1h-1zM128.6 607.4h1v1h-1zM133.7 595.4h1v1h-1zM118.7 602.8h1v1h-1zM132.1 601.6h1v1h-1zM118.5 593.4h1v1h-1zM140.2 594.6h1v1h-1zM140.3 589.8h1v1h-1zM142.0 591.6h1v1h-1zM120.0 601.2h1v1h-1zM129.8 587.9h1v1h-1zM121.6 603.1h1v1h-1zM111.9 596.0h1v1h-1zM137.4 605.4h1v1h-1zM133.4 601.0h1v1h-1zM141.7 597.4h1v1h-1zM145.4 599.6h1v1h-1zM133.7 609.9h1v1h-1zM123.7 590.1h1v1h-1zM133.7 601.7h1v1h-1zM121.3 595.1h1v1h-1zM130.0 594.7h1v1h-1zM133.2 602.3h1v1h-1zM126.9 602.3h1v1h-1zM122.8 598.2h1v1h-1zM116.1 600.6h1v1h-1zM122.0 602.4h1v1h-1zM135.1 597.6h1v1h-1zM124.0 591.1h1v1h-1zM110.8 599.8h1v1h-1zM120.3 601.4h1v1h-1zM119.0 603.1h1v1h-1zM126.7 598.5h1v1h-1zM116.7 597.5h1v1h-1zM129.9 607.7h1v1h-1zM147.3 599.1h1v1h-1zM128.9 595.2h1v1h-1zM127.6 601.1h1v1h-1zM124.3 597.5h1v1h-1zM126.2 599.0h1v1h-1zM145.9 604.8h1v1h-1zM119.8 599.7h1v1h-1zM128.9 603.7h1v1h-1zM136.0 607.1h1v1h-1zM122.6 597.9h1v1h-1zM120.3 597.5h1v1h-1zM123.8 595.7h1v1h-1zM125.5 594.6h1v1h-1zM136.4 599.7h1v1h-1zM125.5 604.3h1v1h-1zM125.3 597.0h1v1h-1zM109.3 603.1h1v1h-1zM136.5 598.7h1v1h-1zM120.9 598.5h1v1h-1zM115.0 591.7h1v1h-1zM122.8 601.6h1v1h-1zM127.7 601.3h1v1h-1zM125.5 608.1h1v1h-1zM140.4 603.0h1v1h-1zM119.2 599.3h1v1h-1zM121.0 603.2h1v1h-1zM135.3 616.2h1v1h-1zM113.0 617.7h1v1h-1zM123.3 627.5h1v1h-1zM111.9 622.6h1v1h-1zM119.4 619.0h1v1h-1zM135.7 618.0h1v1h-1zM130.4 612.9h1v1h-1zM123.9 617.7h1v1h-1zM99.0 615.3h1v1h-1zM116.6 607.4h1v1h-1zM119.6 618.1h1v1h-1zM124.0 626.8h1v1h-1zM115.4 626.5h1v1h-1zM125.2 627.4h1v1h-1zM120.0 615.5h1v1h-1zM132.8 623.1h1v1h-1zM124.0 624.5h1v1h-1zM110.3 622.6h1v1h-1zM118.8 614.7h1v1h-1zM122.0 617.5h1v1h-1zM122.7 623.0h1v1h-1zM109.9 611.2h1v1h-1zM117.9 626.3h1v1h-1zM108.8 626.7h1v1h-1zM130.7 612.9h1v1h-1zM130.4 621.3h1v1h-1zM121.0 616.8h1v1h-1zM116.4 620.9h1v1h-1zM122.0 622.5h1v1h-1zM109.0 621.7h1v1h-1zM124.5 621.8h1v1h-1zM113.9 622.7h1v1h-1zM121.9 614.3h1v1h-1zM124.3 623.0h1v1h-1zM109.8 627.3h1v1h-1zM117.8 620.5h1v1h-1zM114.0 617.3h1v1h-1zM120.4 628.5h1v1h-1zM113.6 618.8h1v1h-1zM111.3 632.0h1v1h-1zM120.2 623.0h1v1h-1zM116.8 630.6h1v1h-1zM114.8 616.8h1v1h-1zM115.3 615.3h1v1h-1zM119.9 612.7h1v1h-1zM126.8 616.0h1v1h-1zM126.9 618.6h1v1h-1zM120.5 625.1h1v1h-1zM121.6 613.6h1v1h-1zM118.2 615.7h1v1h-1zM127.9 619.2h1v1h-1zM126.0 612.9h1v1h-1zM116.1 625.3h1v1h-1zM136.3 622.4h1v1h-1zM116.5 623.7h1v1h-1zM96.9 628.3h1v1h-1zM128.4 626.0h1v1h-1zM128.5 628.8h1v1h-1zM117.8 625.2h1v1h-1zM108.7 627.4h1v1h-1zM118.6 627.2h1v1h-1zM129.1 619.0h1v1h-1zM118.8 605.6h1v1h-1zM120.3 607.6h1v1h-1zM124.5 617.4h1v1h-1zM115.2 621.1h1v1h-1zM115.3 616.7h1v1h-1zM113.9 609.2h1v1h-1zM131.0 627.2h1v1h-1zM109.1 626.6h1v1h-1zM124.2 622.4h1v1h-1zM111.5 631.2h1v1h-1zM115.0 620.2h1v1h-1zM109.8 614.3h1v1h-1zM125.4 618.8h1v1h-1zM125.0 624.0h1v1h-1zM120.2 629.6h1v1h-1zM129.7 629.7h1v1h-1zM128.7 631.4h1v1h-1zM123.5 609.6h1v1h-1zM128.9 611.4h1v1h-1zM119.6 622.0h1v1h-1zM115.5 618.2h1v1h-1zM118.8 620.5h1v1h-1zM129.0 615.8h1v1h-1zM122.4 614.8h1v1h-1zM123.0 626.8h1v1h-1zM125.9 630.2h1v1h-1zM125.2 626.4h1v1h-1zM114.6 618.1h1v1h-1zM116.3 620.7h1v1h-1zM116.1 619.1h1v1h-1zM126.4 623.1h1v1h-1zM127.6 613.4h1v1h-1zM118.7 633.8h1v1h-1zM120.7 613.4h1v1h-1zM112.2 628.6h1v1h-1zM118.9 625.6h1v1h-1zM105.2 619.8h1v1h-1zM123.4 619.7h1v1h-1zM118.4 622.0h1v1h-1zM121.0 614.7h1v1h-1zM126.1 622.4h1v1h-1zM121.4 617.8h1v1h-1zM124.8 617.5h1v1h-1zM121.0 618.7h1v1h-1zM129.2 616.3h1v1h-1zM110.6 620.4h1v1h-1zM125.7 608.9h1v1h-1zM115.2 622.0h1v1h-1zM115.8 626.2h1v1h-1zM121.7 619.0h1v1h-1zM109.6 622.3h1v1h-1zM121.8 616.0h1v1h-1zM127.8 618.5h1v1h-1zM126.2 618.4h1v1h-1zM108.6 623.4h1v1h-1zM122.4 617.6h1v1h-1zM110.1 620.6h1v1h-1zM120.9 622.9h1v1h-1zM155.3 600.3h1v1h-1zM120.7 612.5h1v1h-1zM125.7 604.1h1v1h-1zM125.3 598.6h1v1h-1zM135.0 600.7h1v1h-1zM140.6 602.2h1v1h-1zM135.4 604.6h1v1h-1zM164.4 620.7h1v1h-1zM117.3 598.3h1v1h-1zM116.4 596.6h1v1h-1zM140.7 603.7h1v1h-1zM139.6 618.1h1v1h-1zM132.4 601.2h1v1h-1zM128.9 607.9h1v1h-1zM124.5 616.5h1v1h-1zM136.0 618.2h1v1h-1zM139.8 601.7h1v1h-1zM127.3 605.6h1v1h-1zM144.6 613.3h1v1h-1zM142.3 598.1h1v1h-1z" fill="#a81a00" fill-opacity="0.62"/>
<path d="M119.1 603.5h1v1h-1zM107.3 592.0h1v1h-1zM125.9 607.8h1v1h-1zM125.5 607.5h1v1h-1zM130.9 599.4h1v1h-1zM130.7 599.9h1v1h-1zM127.4 603.6h1v1h-1zM122.7 602.3h1v1h-1zM125.4 593.6h1v1h-1zM123.8 593.4h1v1h-1zM122.3 596.3h1v1h-1zM127.9 597.8h1v1h-1zM124.7 596.1h1v1h-1zM135.2 599.0h1v1h-1zM107.6 592.9h1v1h-1zM123.0 604.4h1v1h-1zM136.3 591.2h1v1h-1zM130.0 606.9h1v1h-1zM122.4 599.9h1v1h-1zM130.6 603.6h1v1h-1zM135.0 593.5h1v1h-1zM117.4 594.2h1v1h-1zM135.3 604.6h1v1h-1zM115.0 604.8h1v1h-1zM128.4 608.3h1v1h-1zM132.2 601.6h1v1h-1zM144.1 599.0h1v1h-1zM126.0 597.3h1v1h-1zM112.7 598.8h1v1h-1zM130.6 594.7h1v1h-1zM137.8 610.0h1v1h-1zM124.5 604.0h1v1h-1zM128.7 598.0h1v1h-1zM129.5 595.3h1v1h-1zM138.9 590.9h1v1h-1zM130.7 595.5h1v1h-1zM126.2 599.9h1v1h-1zM124.6 589.3h1v1h-1zM133.2 591.1h1v1h-1zM133.4 602.4h1v1h-1zM134.8 591.1h1v1h-1zM127.2 606.6h1v1h-1zM144.0 594.3h1v1h-1zM133.4 598.1h1v1h-1zM114.6 608.9h1v1h-1zM137.5 603.6h1v1h-1zM134.9 593.2h1v1h-1zM126.4 602.9h1v1h-1zM132.9 601.9h1v1h-1zM130.4 599.8h1v1h-1zM116.9 595.0h1v1h-1zM138.3 597.0h1v1h-1zM123.9 604.9h1v1h-1zM127.7 587.7h1v1h-1zM133.6 595.9h1v1h-1zM132.4 599.6h1v1h-1zM130.1 598.2h1v1h-1zM130.6 600.4h1v1h-1zM118.7 596.3h1v1h-1zM120.4 590.3h1v1h-1zM130.5 596.4h1v1h-1zM149.7 597.9h1v1h-1zM122.9 597.9h1v1h-1zM121.9 602.8h1v1h-1zM129.2 594.9h1v1h-1zM123.4 606.3h1v1h-1zM117.6 600.7h1v1h-1zM135.3 599.6h1v1h-1zM121.3 598.9h1v1h-1zM133.4 593.5h1v1h-1zM138.0 602.4h1v1h-1zM125.3 596.5h1v1h-1zM116.3 601.9h1v1h-1zM127.8 592.3h1v1h-1zM115.5 601.0h1v1h-1zM120.1 605.3h1v1h-1zM149.7 598.7h1v1h-1zM129.3 595.8h1v1h-1zM121.8 587.2h1v1h-1zM129.0 599.1h1v1h-1zM121.6 598.1h1v1h-1zM115.1 600.5h1v1h-1zM118.6 600.7h1v1h-1zM124.7 602.2h1v1h-1zM132.6 601.7h1v1h-1zM132.9 589.5h1v1h-1zM125.0 597.8h1v1h-1zM133.6 595.4h1v1h-1zM124.9 597.5h1v1h-1zM127.5 601.9h1v1h-1zM112.8 602.6h1v1h-1zM131.7 599.3h1v1h-1zM114.7 599.7h1v1h-1zM115.9 604.2h1v1h-1zM128.2 594.3h1v1h-1zM120.8 602.2h1v1h-1zM142.8 598.5h1v1h-1zM128.7 591.7h1v1h-1zM121.2 599.0h1v1h-1zM134.6 598.7h1v1h-1zM130.8 591.8h1v1h-1zM135.2 599.5h1v1h-1zM118.6 597.8h1v1h-1zM130.0 591.0h1v1h-1zM139.4 600.3h1v1h-1zM138.6 597.8h1v1h-1zM130.8 591.1h1v1h-1zM131.4 594.5h1v1h-1zM119.2 600.4h1v1h-1zM119.4 599.7h1v1h-1zM137.0 603.9h1v1h-1zM127.6 587.1h1v1h-1zM132.6 599.4h1v1h-1zM125.8 598.3h1v1h-1zM118.4 607.9h1v1h-1zM125.9 592.5h1v1h-1zM121.3 607.4h1v1h-1zM138.3 593.1h1v1h-1zM124.1 598.3h1v1h-1zM131.5 604.0h1v1h-1zM128.4 606.7h1v1h-1zM129.2 598.1h1v1h-1zM132.0 600.5h1v1h-1zM122.5 596.5h1v1h-1zM117.1 606.4h1v1h-1zM125.0 600.8h1v1h-1zM132.9 596.1h1v1h-1zM125.1 600.4h1v1h-1zM119.6 598.4h1v1h-1zM128.3 599.0h1v1h-1zM120.7 594.7h1v1h-1zM131.2 600.7h1v1h-1zM124.9 595.1h1v1h-1zM117.3 601.5h1v1h-1zM124.0 594.8h1v1h-1zM129.8 599.4h1v1h-1zM124.8 601.6h1v1h-1zM128.3 600.0h1v1h-1zM126.8 595.5h1v1h-1zM133.1 607.3h1v1h-1zM116.6 596.8h1v1h-1zM129.4 604.9h1v1h-1zM127.8 605.4h1v1h-1zM103.6 607.4h1v1h-1zM129.1 602.9h1v1h-1zM141.2 599.3h1v1h-1zM125.4 597.6h1v1h-1zM132.7 601.0h1v1h-1zM117.8 594.0h1v1h-1zM129.7 597.4h1v1h-1zM123.4 593.6h1v1h-1zM127.4 598.4h1v1h-1zM129.9 593.5h1v1h-1zM131.7 604.8h1v1h-1zM128.8 597.3h1v1h-1zM128.7 596.2h1v1h-1zM137.1 600.4h1v1h-1zM129.6 594.5h1v1h-1zM139.0 596.6h1v1h-1zM133.8 598.7h1v1h-1zM127.7 595.7h1v1h-1zM126.6 602.3h1v1h-1zM137.8 593.1h1v1h-1zM140.2 599.1h1v1h-1zM132.4 591.9h1v1h-1zM139.5 607.0h1v1h-1zM128.1 600.5h1v1h-1zM132.7 589.0h1v1h-1zM126.4 597.6h1v1h-1zM124.5 603.6h1v1h-1zM126.1 598.5h1v1h-1zM110.7 595.2h1v1h-1zM120.1 596.8h1v1h-1zM124.2 601.4h1v1h-1zM119.1 592.8h1v1h-1zM124.7 602.9h1v1h-1zM128.2 590.8h1v1h-1zM119.0 603.3h1v1h-1zM130.0 607.0h1v1h-1zM129.8 594.7h1v1h-1zM120.4 604.2h1v1h-1zM117.1 603.5h1v1h-1zM132.2 597.3h1v1h-1zM133.5 598.2h1v1h-1zM130.9 597.4h1v1h-1zM147.1 603.0h1v1h-1zM135.7 607.1h1v1h-1zM143.8 595.1h1v1h-1zM138.1 595.8h1v1h-1zM116.0 605.2h1v1h-1zM124.0 609.2h1v1h-1zM130.8 602.1h1v1h-1zM112.5 607.6h1v1h-1zM123.8 591.8h1v1h-1zM139.0 603.4h1v1h-1zM123.3 591.6h1v1h-1zM134.3 596.3h1v1h-1zM137.7 605.4h1v1h-1zM125.4 600.5h1v1h-1zM125.4 596.1h1v1h-1zM122.6 602.1h1v1h-1zM128.3 601.1h1v1h-1zM138.8 592.2h1v1h-1zM123.1 598.1h1v1h-1zM131.8 603.2h1v1h-1zM125.9 600.5h1v1h-1zM144.0 597.3h1v1h-1zM140.4 596.8h1v1h-1zM122.3 605.3h1v1h-1zM129.2 605.7h1v1h-1zM123.2 602.3h1v1h-1zM127.5 594.6h1v1h-1zM127.6 600.1h1v1h-1zM128.1 606.6h1v1h-1zM130.1 597.5h1v1h-1zM137.3 588.3h1v1h-1zM130.8 602.2h1v1h-1zM136.1 597.5h1v1h-1zM128.4 598.0h1v1h-1zM127.1 595.3h1v1h-1zM123.3 599.9h1v1h-1zM148.3 592.7h1v1h-1zM135.1 596.2h1v1h-1zM118.5 599.3h1v1h-1zM142.7 599.9h1v1h-1zM125.4 595.7h1v1h-1zM135.2 596.0h1v1h-1zM127.9 603.2h1v1h-1zM127.5 596.9h1v1h-1zM122.4 602.0h1v1h-1zM120.5 592.9h1v1h-1zM113.7 602.8h1v1h-1zM118.3 603.5h1v1h-1zM122.0 605.0h1v1h-1zM106.9 593.3h1v1h-1zM136.5 596.1h1v1h-1zM139.3 595.5h1v1h-1zM123.8 591.7h1v1h-1zM131.1 594.4h1v1h-1zM142.5 595.5h1v1h-1zM121.5 596.4h1v1h-1zM139.1 589.8h1v1h-1zM134.0 593.9h1v1h-1zM132.4 603.4h1v1h-1zM135.4 601.3h1v1h-1zM127.6 604.7h1v1h-1zM122.1 590.0h1v1h-1zM127.3 594.2h1v1h-1zM131.0 599.9h1v1h-1zM138.3 596.4h1v1h-1zM119.8 605.2h1v1h-1zM123.6 600.0h1v1h-1zM120.5 591.9h1v1h-1zM125.5 593.7h1v1h-1zM130.7 595.8h1v1h-1zM119.8 600.0h1v1h-1zM117.1 586.2h1v1h-1zM133.1 594.7h1v1h-1zM123.3 600.1h1v1h-1zM127.9 598.3h1v1h-1zM113.9 604.2h1v1h-1zM121.5 594.1h1v1h-1zM120.3 588.1h1v1h-1zM135.9 593.0h1v1h-1zM123.2 594.2h1v1h-1zM132.0 603.9h1v1h-1zM129.5 595.8h1v1h-1zM117.2 599.0h1v1h-1zM132.7 604.7h1v1h-1zM133.6 604.0h1v1h-1zM110.5 605.8h1v1h-1zM117.9 601.9h1v1h-1zM140.3 603.5h1v1h-1zM129.6 603.5h1v1h-1zM125.2 600.4h1v1h-1zM140.7 597.8h1v1h-1zM142.6 610.7h1v1h-1zM125.1 598.7h1v1h-1zM136.0 598.7h1v1h-1zM122.7 608.0h1v1h-1zM132.0 596.9h1v1h-1zM114.8 594.6h1v1h-1zM118.3 605.3h1v1h-1zM126.6 596.1h1v1h-1zM139.1 592.0h1v1h-1zM139.6 602.0h1v1h-1zM142.8 588.9h1v1h-1zM137.7 593.3h1v1h-1zM128.0 595.3h1v1h-1zM111.4 592.2h1v1h-1zM107.8 599.4h1v1h-1zM114.4 597.9h1v1h-1zM129.4 603.0h1v1h-1zM120.3 599.9h1v1h-1zM125.7 601.0h1v1h-1zM134.7 604.5h1v1h-1zM134.8 601.9h1v1h-1zM129.7 601.9h1v1h-1zM116.0 600.8h1v1h-1zM129.5 588.7h1v1h-1zM132.7 599.0h1v1h-1zM127.3 593.8h1v1h-1zM128.0 607.5h1v1h-1zM132.7 591.5h1v1h-1zM129.5 599.9h1v1h-1zM122.1 601.8h1v1h-1zM125.8 602.9h1v1h-1zM140.8 600.7h1v1h-1zM123.4 602.5h1v1h-1zM118.8 606.3h1v1h-1zM137.2 604.3h1v1h-1zM130.9 597.9h1v1h-1zM133.1 599.5h1v1h-1zM135.1 595.2h1v1h-1zM139.0 599.1h1v1h-1zM127.5 594.0h1v1h-1zM129.5 593.9h1v1h-1zM130.3 593.5h1v1h-1zM129.2 600.2h1v1h-1zM131.0 591.9h1v1h-1zM125.7 600.7h1v1h-1zM142.1 601.2h1v1h-1zM142.1 596.8h1v1h-1zM121.1 594.8h1v1h-1zM131.3 601.7h1v1h-1zM131.4 596.3h1v1h-1zM119.2 603.8h1v1h-1zM115.0 598.6h1v1h-1zM126.5 597.9h1v1h-1zM131.8 598.1h1v1h-1zM123.4 600.4h1v1h-1zM129.7 596.8h1v1h-1zM123.8 600.5h1v1h-1zM131.8 600.7h1v1h-1zM144.3 592.6h1v1h-1zM135.1 604.4h1v1h-1zM141.7 594.3h1v1h-1zM124.5 603.7h1v1h-1zM127.4 601.2h1v1h-1zM115.5 604.5h1v1h-1zM118.1 598.4h1v1h-1zM127.9 591.3h1v1h-1zM130.5 598.0h1v1h-1zM141.2 587.5h1v1h-1zM125.7 594.5h1v1h-1zM136.7 589.8h1v1h-1zM131.1 601.3h1v1h-1zM130.5 591.3h1v1h-1zM143.5 598.5h1v1h-1zM125.8 594.1h1v1h-1zM123.8 596.9h1v1h-1zM123.5 605.9h1v1h-1zM137.8 601.4h1v1h-1zM128.3 594.7h1v1h-1zM114.7 596.6h1v1h-1zM123.7 601.3h1v1h-1zM127.8 596.7h1v1h-1zM126.8 601.8h1v1h-1zM120.1 592.6h1v1h-1zM120.2 606.9h1v1h-1zM123.7 601.5h1v1h-1zM138.4 606.1h1v1h-1zM132.5 597.5h1v1h-1zM121.8 600.1h1v1h-1zM133.3 594.7h1v1h-1zM119.3 605.0h1v1h-1zM127.7 595.3h1v1h-1zM135.3 600.6h1v1h-1zM139.4 602.3h1v1h-1zM137.5 598.2h1v1h-1zM123.4 596.0h1v1h-1zM125.3 599.5h1v1h-1zM135.6 600.6h1v1h-1zM129.8 597.0h1v1h-1zM115.6 601.1h1v1h-1zM130.3 592.3h1v1h-1zM127.4 590.9h1v1h-1zM136.2 597.4h1v1h-1zM131.6 598.3h1v1h-1zM116.3 609.9h1v1h-1zM111.5 600.1h1v1h-1zM114.2 598.8h1v1h-1zM116.3 606.3h1v1h-1zM142.8 597.7h1v1h-1zM131.4 597.7h1v1h-1zM120.3 600.9h1v1h-1zM133.5 591.6h1v1h-1zM126.6 608.5h1v1h-1zM132.5 602.6h1v1h-1zM129.1 612.3h1v1h-1zM113.2 589.8h1v1h-1zM116.4 599.7h1v1h-1zM129.0 601.0h1v1h-1zM135.1 600.8h1v1h-1zM133.5 596.1h1v1h-1zM125.0 610.7h1v1h-1zM133.2 601.1h1v1h-1zM126.3 599.2h1v1h-1zM140.5 593.2h1v1h-1zM153.8 594.7h1v1h-1zM128.7 600.1h1v1h-1zM125.3 602.3h1v1h-1zM121.5 598.2h1v1h-1zM121.4 589.9h1v1h-1zM137.1 596.7h1v1h-1zM118.4 602.5h1v1h-1zM122.2 597.3h1v1h-1zM121.6 607.3h1v1h-1zM127.5 599.7h1v1h-1zM119.9 596.0h1v1h-1zM134.7 595.3h1v1h-1zM136.6 598.1h1v1h-1zM118.0 592.1h1v1h-1zM130.0 598.2h1v1h-1zM128.2 594.0h1v1h-1zM140.5 587.5h1v1h-1zM133.7 601.3h1v1h-1zM148.3 588.9h1v1h-1zM134.5 600.5h1v1h-1zM139.4 605.2h1v1h-1zM117.4 598.7h1v1h-1zM127.0 601.0h1v1h-1zM130.8 598.5h1v1h-1zM119.5 596.3h1v1h-1zM132.9 596.8h1v1h-1zM127.1 602.0h1v1h-1zM129.0 609.4h1v1h-1zM135.5 601.1h1v1h-1zM120.1 593.1h1v1h-1zM116.7 602.9h1v1h-1zM131.5 599.7h1v1h-1zM132.7 596.0h1v1h-1zM136.0 601.7h1v1h-1zM132.8 600.0h1v1h-1zM127.7 601.0h1v1h-1zM128.1 601.4h1v1h-1zM130.2 600.6h1v1h-1zM120.2 600.0h1v1h-1zM137.0 594.5h1v1h-1zM125.6 596.9h1v1h-1zM135.1 610.1h1v1h-1zM137.7 596.7h1v1h-1zM127.1 600.4h1v1h-1zM129.8 594.9h1v1h-1zM119.4 594.5h1v1h-1zM125.7 598.3h1v1h-1zM124.6 608.9h1v1h-1zM131.6 605.0h1v1h-1zM109.1 606.4h1v1h-1zM123.3 605.2h1v1h-1zM117.5 596.9h1v1h-1zM120.6 610.2h1v1h-1zM108.8 595.9h1v1h-1zM135.2 602.9h1v1h-1zM133.9 589.1h1v1h-1zM133.6 601.0h1v1h-1zM133.2 599.7h1v1h-1zM125.8 603.2h1v1h-1zM124.7 597.7h1v1h-1zM134.0 602.1h1v1h-1zM135.2 593.2h1v1h-1zM127.5 592.8h1v1h-1zM118.2 604.6h1v1h-1zM134.9 598.8h1v1h-1zM115.1 601.5h1v1h-1zM125.8 594.4h1v1h-1zM129.5 595.0h1v1h-1zM116.2 601.2h1v1h-1zM135.3 597.2h1v1h-1zM143.0 605.1h1v1h-1zM132.1 596.9h1v1h-1zM129.8 597.3h1v1h-1zM110.3 610.6h1v1h-1zM135.9 606.2h1v1h-1zM134.4 588.8h1v1h-1zM138.0 594.5h1v1h-1zM123.8 598.3h1v1h-1zM126.8 601.5h1v1h-1zM127.9 606.7h1v1h-1zM136.8 595.9h1v1h-1zM127.8 600.2h1v1h-1zM126.1 587.9h1v1h-1zM123.9 591.2h1v1h-1zM109.2 596.6h1v1h-1zM122.7 608.5h1v1h-1zM135.9 592.6h1v1h-1zM124.0 600.5h1v1h-1zM133.6 599.9h1v1h-1zM129.4 598.8h1v1h-1zM121.0 605.4h1v1h-1zM128.0 605.2h1v1h-1zM141.3 594.9h1v1h-1zM144.6 601.3h1v1h-1zM129.6 607.0h1v1h-1zM122.7 595.0h1v1h-1zM133.7 600.6h1v1h-1zM131.5 603.6h1v1h-1zM142.5 591.0h1v1h-1zM120.1 601.7h1v1h-1zM120.9 590.7h1v1h-1zM118.0 605.3h1v1h-1zM128.0 605.2h1v1h-1zM132.1 592.4h1v1h-1zM119.5 601.7h1v1h-1zM126.1 605.9h1v1h-1zM136.1 603.4h1v1h-1zM134.9 593.5h1v1h-1zM121.0 590.7h1v1h-1zM122.0 599.2h1v1h-1zM132.5 602.1h1v1h-1zM124.5 597.2h1v1h-1zM113.7 599.5h1v1h-1zM126.8 594.3h1v1h-1zM118.8 596.9h1v1h-1zM119.3 598.8h1v1h-1zM122.1 603.6h1v1h-1zM122.2 604.1h1v1h-1zM130.0 596.6h1v1h-1zM126.4 603.3h1v1h-1zM141.6 592.0h1v1h-1zM129.5 599.8h1v1h-1zM134.3 595.9h1v1h-1zM118.5 596.0h1v1h-1zM113.2 603.0h1v1h-1zM131.2 598.0h1v1h-1zM117.1 599.4h1v1h-1zM114.1 595.4h1v1h-1zM125.6 584.3h1v1h-1zM132.8 601.3h1v1h-1zM138.8 594.8h1v1h-1zM137.9 596.7h1v1h-1zM116.0 596.4h1v1h-1zM119.8 601.4h1v1h-1zM140.8 602.3h1v1h-1zM130.2 591.2h1v1h-1zM134.6 592.4h1v1h-1zM139.5 595.6h1v1h-1zM142.3 589.4h1v1h-1zM131.7 603.4h1v1h-1zM130.9 602.6h1v1h-1zM124.3 599.5h1v1h-1zM125.9 597.1h1v1h-1zM113.3 601.0h1v1h-1zM128.6 597.2h1v1h-1zM133.5 596.5h1v1h-1zM130.8 601.7h1v1h-1zM125.4 590.4h1v1h-1zM120.3 599.0h1v1h-1zM134.2 596.2h1v1h-1zM134.6 601.5h1v1h-1zM127.4 601.6h1v1h-1zM139.7 601.7h1v1h-1zM126.7 590.3h1v1h-1zM127.2 602.4h1v1h-1zM119.3 597.5h1v1h-1zM120.8 604.0h1v1h-1zM117.1 597.0h1v1h-1zM121.8 599.7h1v1h-1zM128.7 595.2h1v1h-1zM140.5 598.3h1v1h-1zM125.5 593.4h1v1h-1zM128.2 596.0h1v1h-1zM135.1 606.3h1v1h-1zM122.9 610.2h1v1h-1zM122.5 598.9h1v1h-1zM139.7 594.6h1v1h-1zM129.8 600.4h1v1h-1zM136.6 600.5h1v1h-1zM125.7 608.3h1v1h-1zM116.4 598.0h1v1h-1zM131.2 592.4h1v1h-1zM136.4 593.0h1v1h-1zM131.0 601.2h1v1h-1zM124.3 595.5h1v1h-1zM124.2 604.9h1v1h-1zM117.3 608.9h1v1h-1zM120.0 621.1h1v1h-1zM139.9 619.8h1v1h-1zM127.9 620.2h1v1h-1zM119.6 626.8h1v1h-1zM133.0 609.6h1v1h-1zM121.8 618.4h1v1h-1zM107.5 625.6h1v1h-1zM124.8 627.8h1v1h-1zM104.6 612.5h1v1h-1zM125.3 613.7h1v1h-1zM127.2 628.8h1v1h-1zM117.6 612.7h1v1h-1zM134.3 617.8h1v1h-1zM127.0 612.7h1v1h-1zM122.9 623.0h1v1h-1zM119.0 615.5h1v1h-1zM122.1 618.6h1v1h-1zM126.3 610.1h1v1h-1zM121.9 615.4h1v1h-1zM114.4 617.0h1v1h-1zM129.4 620.3h1v1h-1zM121.7 621.2h1v1h-1zM120.9 625.8h1v1h-1zM128.7 615.8h1v1h-1zM135.7 614.1h1v1h-1zM110.9 633.2h1v1h-1zM125.5 620.0h1v1h-1zM121.4 629.1h1v1h-1zM115.4 607.4h1v1h-1zM121.4 616.8h1v1h-1zM129.3 623.0h1v1h-1zM113.0 629.4h1v1h-1zM123.1 626.2h1v1h-1zM140.7 623.3h1v1h-1zM119.6 617.4h1v1h-1zM112.1 621.9h1v1h-1zM109.5 613.5h1v1h-1zM126.0 603.6h1v1h-1zM116.5 617.9h1v1h-1zM113.4 620.4h1v1h-1zM116.2 619.0h1v1h-1zM133.8 622.2h1v1h-1zM117.7 635.8h1v1h-1zM117.9 620.6h1v1h-1zM124.2 619.7h1v1h-1zM111.5 609.8h1v1h-1zM105.4 619.0h1v1h-1zM120.7 609.6h1v1h-1zM119.7 620.6h1v1h-1zM121.3 621.1h1v1h-1zM116.3 616.0h1v1h-1zM108.2 622.3h1v1h-1zM132.1 618.3h1v1h-1zM116.2 628.2h1v1h-1zM142.3 622.4h1v1h-1zM123.1 617.8h1v1h-1zM120.2 614.0h1v1h-1zM134.1 627.7h1v1h-1zM112.1 620.2h1v1h-1zM116.5 625.8h1v1h-1zM113.7 613.7h1v1h-1zM118.2 624.1h1v1h-1zM115.3 613.7h1v1h-1zM137.7 614.8h1v1h-1zM101.7 609.0h1v1h-1zM125.1 618.3h1v1h-1zM136.9 619.7h1v1h-1zM115.0 614.1h1v1h-1zM121.9 614.3h1v1h-1zM119.8 631.2h1v1h-1zM122.6 616.0h1v1h-1zM120.6 625.0h1v1h-1zM124.9 624.0h1v1h-1zM114.9 614.9h1v1h-1zM112.5 625.7h1v1h-1zM120.2 600.0h1v1h-1zM118.0 625.3h1v1h-1zM140.3 621.3h1v1h-1zM116.6 615.4h1v1h-1zM115.3 619.3h1v1h-1zM111.7 617.6h1v1h-1zM120.5 629.8h1v1h-1zM113.2 615.2h1v1h-1zM126.3 621.6h1v1h-1zM117.5 617.0h1v1h-1zM111.4 616.7h1v1h-1zM114.4 615.6h1v1h-1zM101.4 618.7h1v1h-1zM100.5 626.1h1v1h-1zM128.8 622.6h1v1h-1zM123.4 610.0h1v1h-1zM113.0 615.0h1v1h-1zM132.0 632.5h1v1h-1zM105.5 622.1h1v1h-1zM113.9 622.7h1v1h-1zM134.5 618.4h1v1h-1zM114.8 629.6h1v1h-1zM125.7 622.8h1v1h-1zM114.4 612.3h1v1h-1zM116.9 616.3h1v1h-1zM122.3 613.9h1v1h-1zM108.8 615.5h1v1h-1zM123.8 610.8h1v1h-1zM112.3 621.3h1v1h-1zM127.0 624.2h1v1h-1zM129.5 620.7h1v1h-1zM112.3 612.7h1v1h-1zM136.4 627.1h1v1h-1zM105.3 623.7h1v1h-1zM115.8 609.6h1v1h-1zM122.3 626.3h1v1h-1zM122.3 612.2h1v1h-1zM121.8 621.3h1v1h-1zM118.7 624.0h1v1h-1zM118.3 622.6h1v1h-1zM120.5 614.1h1v1h-1zM129.0 631.8h1v1h-1zM121.0 614.8h1v1h-1zM120.1 620.2h1v1h-1zM108.9 613.0h1v1h-1zM141.9 603.8h1v1h-1zM143.2 617.5h1v1h-1zM125.5 608.7h1v1h-1zM136.5 603.0h1v1h-1zM122.2 620.2h1v1h-1zM119.4 614.5h1v1h-1zM143.2 612.6h1v1h-1zM126.5 615.4h1v1h-1zM110.6 608.1h1v1h-1zM137.0 608.0h1v1h-1zM115.3 627.4h1v1h-1zM115.1 612.2h1v1h-1zM134.7 611.4h1v1h-1zM120.1 606.8h1v1h-1zM125.8 604.7h1v1h-1zM137.3 596.3h1v1h-1zM119.6 615.7h1v1h-1zM124.5 623.5h1v1h-1zM107.2 618.9h1v1h-1z" fill="#a81a00" fill-opacity="0.62"/>
<line x1="107.8" y1="540.9" x2="107.8" y2="644" stroke="#3a3a3a" stroke-width="0.9"/>
<line x1="74" y1="613.2" x2="202.8" y2="613.2" stroke="#3a3a3a" stroke-width="0.9"/>
<line x1="74" y1="644.4" x2="74" y2="543" stroke="#231f20" stroke-width="1.35"/>
<path d="M74.0 537.4L70.4 545.7L74.0 544.1L77.6 545.7Z" fill="#231f20"/>
<line x1="73.4" y1="644.4" x2="204" y2="644.4" stroke="#231f20" stroke-width="1.35"/>
<path d="M210.6 644.4L202.3 640.8L203.9 644.4L202.3 648.0Z" fill="#231f20"/>
<line x1="97.8" y1="532.9" x2="104.7" y2="532.9" stroke="#9a9a9a" stroke-width="1"/>
<path d="M99.25 534.5L103.25 534.5L101.25 531.1Z" fill="#8a8a8a"/>
<text x="108.2" y="535.8" font-size="8" fill="#231f20" textLength="12.1" lengthAdjust="spacingAndGlyphs">Cyt</text>
<line x1="131.2" y1="532.9" x2="138.4" y2="532.9" stroke="#c21e4b" stroke-width="1"/>
<path d="M132.6 531.14L137 531.14L134.8 534.88Z" fill="#8a0022"/>
<text x="141.6" y="535.8" font-size="8" fill="#231f20" textLength="32.3" lengthAdjust="spacingAndGlyphs">Cyt+VPA</text>
<text x="69.1" y="591.1" font-size="8.2" fill="#231f20" text-anchor="middle" textLength="23" lengthAdjust="spacingAndGlyphs" transform="rotate(-90 69.1 591.1)">CD90<tspan font-size="5" dy="-2.75">+</tspan></text>
<text x="142.05" y="658.6" font-size="8.2" fill="#231f20" text-anchor="middle" textLength="23.1" lengthAdjust="spacingAndGlyphs">CD34<tspan font-size="5" dy="-2.75">+</tspan></text>
<line x1="73" y1="198" x2="73" y2="301.7" stroke="#231f20" stroke-width="1.35"/>
<line x1="72.5" y1="301.2" x2="200.8" y2="301.2" stroke="#231f20" stroke-width="1.35"/>
<line x1="104.9" y1="301.2" x2="104.9" y2="304" stroke="#231f20" stroke-width="1"/>
<line x1="168.4" y1="301.2" x2="168.4" y2="304" stroke="#231f20" stroke-width="1"/>
<line x1="70" y1="301.2" x2="73" y2="301.2" stroke="#231f20" stroke-width="1.1"/>
<text x="66.4" y="304" font-size="7.9" fill="#231f20" text-anchor="end">0</text>
<line x1="70" y1="267.7" x2="73" y2="267.7" stroke="#231f20" stroke-width="1.1"/>
<text x="66.4" y="270.5" font-size="7.9" fill="#231f20" text-anchor="end">1</text>
<line x1="70" y1="234.1" x2="73" y2="234.1" stroke="#231f20" stroke-width="1.1"/>
<text x="66.4" y="236.9" font-size="7.9" fill="#231f20" text-anchor="end">2</text>
<line x1="70" y1="200.6" x2="73" y2="200.6" stroke="#231f20" stroke-width="1.1"/>
<text x="66.4" y="203.4" font-size="7.9" fill="#231f20" text-anchor="end">3</text>
<rect x="85" y="267.6" width="16.2" height="33.6" fill="#808080"/>
<rect x="108.6" y="225" width="16.5" height="76.2" fill="#a0002a"/>
<rect x="148.4" y="267.6" width="16.3" height="33.6" fill="#808080"/>
<rect x="172.4" y="260" width="16.4" height="41.2" fill="#a0002a"/>
<line x1="93.1" y1="267.6" x2="93.1" y2="263.2" stroke="#231f20" stroke-width="1"/>
<line x1="89.35" y1="263.2" x2="96.85" y2="263.2" stroke="#231f20" stroke-width="1.4"/>
<line x1="116.85" y1="225" x2="116.85" y2="213" stroke="#231f20" stroke-width="1"/>
<line x1="112.6" y1="213" x2="121.1" y2="213" stroke="#231f20" stroke-width="1.4"/>
<line x1="156.6" y1="267.6" x2="156.6" y2="262.1" stroke="#231f20" stroke-width="1"/>
<line x1="152.6" y1="262.1" x2="160.6" y2="262.1" stroke="#231f20" stroke-width="1.4"/>
<line x1="180.6" y1="260" x2="180.6" y2="255.2" stroke="#231f20" stroke-width="1"/>
<line x1="176.6" y1="255.2" x2="184.6" y2="255.2" stroke="#231f20" stroke-width="1.4"/>
<line x1="93" y1="197" x2="117" y2="197" stroke="#231f20" stroke-width="1.1"/>
<line x1="93" y1="196.5" x2="93" y2="262.8" stroke="#231f20" stroke-width="1.1"/>
<line x1="117" y1="196.5" x2="117" y2="208" stroke="#231f20" stroke-width="1.1"/>
<text x="105" y="198.2" font-size="7.2" fill="#231f20" text-anchor="middle" textLength="9.6" lengthAdjust="spacingAndGlyphs">***</text>
<line x1="156.5" y1="226.2" x2="181.2" y2="226.2" stroke="#231f20" stroke-width="1.1"/>
<line x1="156.5" y1="225.7" x2="156.5" y2="257.2" stroke="#231f20" stroke-width="1.1"/>
<line x1="181.2" y1="225.7" x2="181.2" y2="241.8" stroke="#231f20" stroke-width="1.1"/>
<text x="169" y="223.6" font-size="7.6" fill="#231f20" text-anchor="middle">ns</text>
<text x="105.3" y="315.5" font-size="8.6" fill="#231f20" text-anchor="middle" textLength="21.5" lengthAdjust="spacingAndGlyphs">Day 4</text>
<text x="168.8" y="315.5" font-size="8.6" fill="#231f20" text-anchor="middle" textLength="21" lengthAdjust="spacingAndGlyphs">Day 6</text>
<rect x="102.3" y="321" width="4.2" height="11" fill="#808080"/>
<text x="109.8" y="329.4" font-size="8.6" fill="#231f20" textLength="10.8" lengthAdjust="spacingAndGlyphs">Cyt</text>
<rect x="131.6" y="321" width="4.2" height="11" fill="#a0002a"/>
<text x="139.4" y="329.4" font-size="8.6" fill="#231f20" textLength="29.6" lengthAdjust="spacingAndGlyphs">Cyt+VPA</text>
<text x="44.5" y="249.2" font-size="10" fill="#231f20" text-anchor="middle" textLength="106.4" lengthAdjust="spacingAndGlyphs" transform="rotate(-90 44.5 249.2)">Percent CD34<tspan font-size="6.6" dy="-3.63">+</tspan><tspan dy="3">cells in G</tspan><tspan font-size="6.6" dy="2.31">0</tspan></text>
<text x="56.3" y="249.7" font-size="10" fill="#231f20" text-anchor="middle" textLength="85.5" lengthAdjust="spacingAndGlyphs" transform="rotate(-90 56.3 249.7)">relative fold change</text>
<line x1="73.2" y1="368.8" x2="73.2" y2="472.1" stroke="#231f20" stroke-width="1.35"/>
<line x1="72.7" y1="471.6" x2="257.3" y2="471.6" stroke="#231f20" stroke-width="1.35"/>
<line x1="70.2" y1="471.6" x2="73.2" y2="471.6" stroke="#231f20" stroke-width="1.1"/>
<text x="66.4" y="474.5" font-size="8.4" fill="#231f20" text-anchor="end">0</text>
<line x1="70.2" y1="438.3" x2="73.2" y2="438.3" stroke="#231f20" stroke-width="1.1"/>
<text x="66.4" y="441.2" font-size="8.4" fill="#231f20" text-anchor="end">20</text>
<line x1="70.2" y1="405" x2="73.2" y2="405" stroke="#231f20" stroke-width="1.1"/>
<text x="66.4" y="407.9" font-size="8.4" fill="#231f20" text-anchor="end">40</text>
<line x1="70.2" y1="371.4" x2="73.2" y2="371.4" stroke="#231f20" stroke-width="1.1"/>
<text x="66.4" y="374.3" font-size="8.4" fill="#231f20" text-anchor="end">60</text>
<rect x="78.5" y="466" width="7.4" height="5.6" fill="#808080"/>
<line x1="82.2" y1="466" x2="82.2" y2="465.2" stroke="#231f20" stroke-width="1"/>
<line x1="80.2" y1="465.2" x2="84.2" y2="465.2" stroke="#231f20" stroke-width="1.4"/>
<rect x="89.06" y="464.1" width="7.4" height="7.5" fill="#808080"/>
<line x1="92.76" y1="464.1" x2="92.76" y2="463" stroke="#231f20" stroke-width="1"/>
<line x1="90.76" y1="463" x2="94.76" y2="463" stroke="#231f20" stroke-width="1.4"/>
<rect x="99.62" y="467.7" width="7.4" height="3.9" fill="#808080"/>
<line x1="103.32" y1="467.7" x2="103.32" y2="466.6" stroke="#231f20" stroke-width="1"/>
<line x1="101.32" y1="466.6" x2="105.32" y2="466.6" stroke="#231f20" stroke-width="1.4"/>
<rect x="110.18" y="469.8" width="7.4" height="1.8" fill="#808080"/>
<line x1="113.88" y1="469.8" x2="113.88" y2="469.3" stroke="#231f20" stroke-width="1"/>
<line x1="111.88" y1="469.3" x2="115.88" y2="469.3" stroke="#231f20" stroke-width="1.4"/>
<rect x="120.74" y="470.6" width="7.4" height="1" fill="#808080"/>
<line x1="124.44" y1="470.6" x2="124.44" y2="470.2" stroke="#231f20" stroke-width="1"/>
<line x1="122.44" y1="470.2" x2="126.44" y2="470.2" stroke="#231f20" stroke-width="1.4"/>
<rect x="131.3" y="471" width="7.4" height="0.6" fill="#808080"/>
<line x1="135" y1="471" x2="135" y2="470.6" stroke="#231f20" stroke-width="1"/>
<line x1="133" y1="470.6" x2="137" y2="470.6" stroke="#231f20" stroke-width="1.4"/>
<rect x="170.1" y="466.6" width="7.4" height="5" fill="#a0002a"/>
<line x1="173.8" y1="466.6" x2="173.8" y2="465.6" stroke="#231f20" stroke-width="1"/>
<line x1="171.8" y1="465.6" x2="175.8" y2="465.6" stroke="#231f20" stroke-width="1.4"/>
<rect x="180.69" y="398.7" width="7.4" height="72.9" fill="#a0002a"/>
<line x1="184.39" y1="398.7" x2="184.39" y2="392" stroke="#231f20" stroke-width="1"/>
<line x1="182.39" y1="392" x2="186.39" y2="392" stroke="#231f20" stroke-width="1.4"/>
<rect x="191.28" y="383" width="7.4" height="88.6" fill="#a0002a"/>
<line x1="194.98" y1="383" x2="194.98" y2="378.2" stroke="#231f20" stroke-width="1"/>
<line x1="192.98" y1="378.2" x2="196.98" y2="378.2" stroke="#231f20" stroke-width="1.4"/>
<rect x="201.87" y="390" width="7.4" height="81.6" fill="#a0002a"/>
<line x1="205.57" y1="390" x2="205.57" y2="385.8" stroke="#231f20" stroke-width="1"/>
<line x1="203.57" y1="385.8" x2="207.57" y2="385.8" stroke="#231f20" stroke-width="1.4"/>
<rect x="212.46" y="397" width="7.4" height="74.6" fill="#a0002a"/>
<line x1="216.16" y1="397" x2="216.16" y2="394.4" stroke="#231f20" stroke-width="1"/>
<line x1="214.16" y1="394.4" x2="218.16" y2="394.4" stroke="#231f20" stroke-width="1.4"/>
<rect x="223.05" y="426.2" width="7.4" height="45.4" fill="#a0002a"/>
<line x1="226.75" y1="426.2" x2="226.75" y2="421.8" stroke="#231f20" stroke-width="1"/>
<line x1="224.75" y1="421.8" x2="228.75" y2="421.8" stroke="#231f20" stroke-width="1.4"/>
<rect x="233.64" y="433.7" width="7.4" height="37.9" fill="#a0002a"/>
<line x1="237.34" y1="433.7" x2="237.34" y2="429.4" stroke="#231f20" stroke-width="1"/>
<line x1="235.34" y1="429.4" x2="239.34" y2="429.4" stroke="#231f20" stroke-width="1.4"/>
<rect x="244.23" y="446.3" width="7.4" height="25.3" fill="#a0002a"/>
<line x1="247.93" y1="446.3" x2="247.93" y2="440.2" stroke="#231f20" stroke-width="1"/>
<line x1="245.93" y1="440.2" x2="249.93" y2="440.2" stroke="#231f20" stroke-width="1.4"/>
<line x1="82.2" y1="471.6" x2="82.2" y2="474.6" stroke="#231f20" stroke-width="1"/>
<line x1="92.76" y1="471.6" x2="92.76" y2="474.6" stroke="#231f20" stroke-width="1"/>
<line x1="103.32" y1="471.6" x2="103.32" y2="474.6" stroke="#231f20" stroke-width="1"/>
<line x1="113.88" y1="471.6" x2="113.88" y2="474.6" stroke="#231f20" stroke-width="1"/>
<line x1="124.44" y1="471.6" x2="124.44" y2="474.6" stroke="#231f20" stroke-width="1"/>
<line x1="135" y1="471.6" x2="135" y2="474.6" stroke="#231f20" stroke-width="1"/>
<line x1="145.56" y1="471.6" x2="145.56" y2="474.6" stroke="#231f20" stroke-width="1"/>
<line x1="156.12" y1="471.6" x2="156.12" y2="474.6" stroke="#231f20" stroke-width="1"/>
<line x1="173.8" y1="471.6" x2="173.8" y2="474.6" stroke="#231f20" stroke-width="1"/>
<line x1="184.39" y1="471.6" x2="184.39" y2="474.6" stroke="#231f20" stroke-width="1"/>
<line x1="194.98" y1="471.6" x2="194.98" y2="474.6" stroke="#231f20" stroke-width="1"/>
<line x1="205.57" y1="471.6" x2="205.57" y2="474.6" stroke="#231f20" stroke-width="1"/>
<line x1="216.16" y1="471.6" x2="216.16" y2="474.6" stroke="#231f20" stroke-width="1"/>
<line x1="226.75" y1="471.6" x2="226.75" y2="474.6" stroke="#231f20" stroke-width="1"/>
<line x1="237.34" y1="471.6" x2="237.34" y2="474.6" stroke="#231f20" stroke-width="1"/>
<line x1="247.93" y1="471.6" x2="247.93" y2="474.6" stroke="#231f20" stroke-width="1"/>
<text x="82.2" y="485.6" font-size="8.2" fill="#231f20" text-anchor="middle" textLength="9.6" lengthAdjust="spacingAndGlyphs">PC</text>
<text x="92.76" y="485.6" font-size="8.2" fill="#231f20" text-anchor="middle">1</text>
<text x="103.32" y="485.6" font-size="8.2" fill="#231f20" text-anchor="middle">2</text>
<text x="113.88" y="485.6" font-size="8.2" fill="#231f20" text-anchor="middle">3</text>
<text x="124.44" y="485.6" font-size="8.2" fill="#231f20" text-anchor="middle">4</text>
<text x="135" y="485.6" font-size="8.2" fill="#231f20" text-anchor="middle">5</text>
<text x="145.56" y="485.6" font-size="8.2" fill="#231f20" text-anchor="middle">6</text>
<text x="156.12" y="485.6" font-size="8.2" fill="#231f20" text-anchor="middle">7</text>
<text x="173.8" y="485.6" font-size="8.2" fill="#231f20" text-anchor="middle" textLength="9.6" lengthAdjust="spacingAndGlyphs">PC</text>
<text x="184.39" y="485.6" font-size="8.2" fill="#231f20" text-anchor="middle">1</text>
<text x="194.98" y="485.6" font-size="8.2" fill="#231f20" text-anchor="middle">2</text>
<text x="205.57" y="485.6" font-size="8.2" fill="#231f20" text-anchor="middle">3</text>
<text x="216.16" y="485.6" font-size="8.2" fill="#231f20" text-anchor="middle">4</text>
<text x="226.75" y="485.6" font-size="8.2" fill="#231f20" text-anchor="middle">5</text>
<text x="237.34" y="485.6" font-size="8.2" fill="#231f20" text-anchor="middle">6</text>
<text x="247.93" y="485.6" font-size="8.2" fill="#231f20" text-anchor="middle">7</text>
<line x1="122.5" y1="358.8" x2="216.4" y2="358.8" stroke="#231f20" stroke-width="1.1"/>
<line x1="122.5" y1="358.3" x2="122.5" y2="442.6" stroke="#231f20" stroke-width="1.1"/>
<line x1="216.4" y1="358.3" x2="216.4" y2="371.5" stroke="#231f20" stroke-width="1.1"/>
<line x1="91.2" y1="442.6" x2="155" y2="442.6" stroke="#231f20" stroke-width="1.1"/>
<line x1="183.3" y1="371.5" x2="252" y2="371.5" stroke="#231f20" stroke-width="1.1"/>
<text x="169.8" y="359.9" font-size="7.2" fill="#231f20" text-anchor="middle" textLength="12.4" lengthAdjust="spacingAndGlyphs">****</text>
<rect x="130.2" y="491.8" width="4.2" height="11.1" fill="#808080"/>
<text x="137.5" y="500.6" font-size="8.6" fill="#231f20" textLength="10.8" lengthAdjust="spacingAndGlyphs">Cyt</text>
<rect x="159.8" y="491.8" width="4.2" height="11.1" fill="#a0002a"/>
<text x="167.1" y="500.6" font-size="8.6" fill="#231f20" textLength="30.2" lengthAdjust="spacingAndGlyphs">Cyt+VPA</text>
<text x="39" y="419.8" font-size="10.2" fill="#231f20" text-anchor="middle" textLength="48.5" lengthAdjust="spacingAndGlyphs" transform="rotate(-90 39 419.8)">Percentage</text>
<text x="51" y="420" font-size="10.2" fill="#231f20" text-anchor="middle" textLength="77.3" lengthAdjust="spacingAndGlyphs" transform="rotate(-90 51 420)">CD34<tspan font-size="6.6" dy="-3.63">+</tspan><tspan dy="3">CD90</tspan><tspan font-size="6.6" dy="-3.63">+</tspan><tspan dy="3"> cells</tspan></text>
<line x1="336" y1="372" x2="336" y2="472" stroke="#231f20" stroke-width="1.35"/>
<line x1="335.5" y1="471.5" x2="509.5" y2="471.5" stroke="#231f20" stroke-width="1.35"/>
<line x1="333" y1="374.5" x2="336" y2="374.5" stroke="#231f20" stroke-width="1.1"/>
<text x="329.1" y="379.1" font-size="7.4" fill="#231f20" text-anchor="end" textLength="27.8" lengthAdjust="spacingAndGlyphs">2.0×10<tspan font-size="5.4" dy="-2.97">7</tspan></text>
<line x1="333" y1="399.4" x2="336" y2="399.4" stroke="#231f20" stroke-width="1.1"/>
<text x="329.1" y="404" font-size="7.4" fill="#231f20" text-anchor="end" textLength="27.8" lengthAdjust="spacingAndGlyphs">1.5×10<tspan font-size="5.4" dy="-2.97">7</tspan></text>
<line x1="333" y1="424" x2="336" y2="424" stroke="#231f20" stroke-width="1.1"/>
<text x="329.1" y="428.6" font-size="7.4" fill="#231f20" text-anchor="end" textLength="27.8" lengthAdjust="spacingAndGlyphs">1.0×10<tspan font-size="5.4" dy="-2.97">7</tspan></text>
<line x1="333" y1="447.6" x2="336" y2="447.6" stroke="#231f20" stroke-width="1.1"/>
<text x="329.1" y="452.2" font-size="7.4" fill="#231f20" text-anchor="end" textLength="27.8" lengthAdjust="spacingAndGlyphs">5.0×10<tspan font-size="5.4" dy="-2.97">6</tspan></text>
<line x1="333" y1="471.5" x2="336" y2="471.5" stroke="#231f20" stroke-width="1.1"/>
<text x="328.4" y="474.5" font-size="7.4" fill="#231f20" text-anchor="end" textLength="10.4" lengthAdjust="spacingAndGlyphs">0.0</text>
<rect x="351.25" y="471" width="7.5" height="0.5" fill="#808080"/>
<rect x="361.25" y="470.7" width="7.5" height="0.8" fill="#808080"/>
<line x1="365" y1="470.7" x2="365" y2="470.3" stroke="#231f20" stroke-width="1"/>
<line x1="363" y1="470.3" x2="367" y2="470.3" stroke="#231f20" stroke-width="1.4"/>
<rect x="371.25" y="470.8" width="7.5" height="0.7" fill="#808080"/>
<line x1="375" y1="470.8" x2="375" y2="470.4" stroke="#231f20" stroke-width="1"/>
<line x1="373" y1="470.4" x2="377" y2="470.4" stroke="#231f20" stroke-width="1.4"/>
<rect x="381.25" y="470.5" width="7.5" height="1" fill="#808080"/>
<line x1="385" y1="470.5" x2="385" y2="470" stroke="#231f20" stroke-width="1"/>
<line x1="383" y1="470" x2="387" y2="470" stroke="#231f20" stroke-width="1.4"/>
<rect x="391.25" y="470.5" width="7.5" height="1" fill="#808080"/>
<line x1="395" y1="470.5" x2="395" y2="470" stroke="#231f20" stroke-width="1"/>
<line x1="393" y1="470" x2="397" y2="470" stroke="#231f20" stroke-width="1.4"/>
<rect x="401.25" y="470.8" width="7.5" height="0.7" fill="#808080"/>
<line x1="405" y1="470.8" x2="405" y2="470.4" stroke="#231f20" stroke-width="1"/>
<line x1="403" y1="470.4" x2="407" y2="470.4" stroke="#231f20" stroke-width="1.4"/>
<rect x="411.25" y="471.2" width="7.5" height="0.3" fill="#808080"/>
<rect x="428.25" y="471.2" width="7.5" height="0.3" fill="#a0002a"/>
<rect x="438.25" y="469.3" width="7.5" height="2.2" fill="#a0002a"/>
<line x1="442" y1="469.3" x2="442" y2="468.8" stroke="#231f20" stroke-width="1"/>
<line x1="440" y1="468.8" x2="444" y2="468.8" stroke="#231f20" stroke-width="1.4"/>
<rect x="448.25" y="464.3" width="7.5" height="7.2" fill="#a0002a"/>
<line x1="452" y1="464.3" x2="452" y2="463.3" stroke="#231f20" stroke-width="1"/>
<line x1="450" y1="463.3" x2="454" y2="463.3" stroke="#231f20" stroke-width="1.4"/>
<rect x="458.25" y="451.3" width="7.5" height="20.2" fill="#a0002a"/>
<line x1="462" y1="451.3" x2="462" y2="449.3" stroke="#231f20" stroke-width="1"/>
<line x1="460" y1="449.3" x2="464" y2="449.3" stroke="#231f20" stroke-width="1.4"/>
<rect x="468.25" y="444.3" width="7.5" height="27.2" fill="#a0002a"/>
<line x1="472" y1="444.3" x2="472" y2="440.5" stroke="#231f20" stroke-width="1"/>
<line x1="470" y1="440.5" x2="474" y2="440.5" stroke="#231f20" stroke-width="1.4"/>
<rect x="478.25" y="421.3" width="7.5" height="50.2" fill="#a0002a"/>
<line x1="482" y1="421.3" x2="482" y2="411.5" stroke="#231f20" stroke-width="1"/>
<line x1="480" y1="411.5" x2="484" y2="411.5" stroke="#231f20" stroke-width="1.4"/>
<rect x="488.25" y="406.3" width="7.5" height="65.2" fill="#a0002a"/>
<line x1="492" y1="406.3" x2="492" y2="395.5" stroke="#231f20" stroke-width="1"/>
<line x1="490" y1="395.5" x2="494" y2="395.5" stroke="#231f20" stroke-width="1.4"/>
<rect x="498.25" y="425.8" width="7.5" height="45.7" fill="#a0002a"/>
<line x1="502" y1="425.8" x2="502" y2="409.5" stroke="#231f20" stroke-width="1"/>
<line x1="500" y1="409.5" x2="504" y2="409.5" stroke="#231f20" stroke-width="1.4"/>
<line x1="345" y1="471.5" x2="345" y2="474.5" stroke="#231f20" stroke-width="1"/>
<line x1="355" y1="471.5" x2="355" y2="474.5" stroke="#231f20" stroke-width="1"/>
<line x1="365" y1="471.5" x2="365" y2="474.5" stroke="#231f20" stroke-width="1"/>
<line x1="375" y1="471.5" x2="375" y2="474.5" stroke="#231f20" stroke-width="1"/>
<line x1="385" y1="471.5" x2="385" y2="474.5" stroke="#231f20" stroke-width="1"/>
<line x1="395" y1="471.5" x2="395" y2="474.5" stroke="#231f20" stroke-width="1"/>
<line x1="405" y1="471.5" x2="405" y2="474.5" stroke="#231f20" stroke-width="1"/>
<line x1="415" y1="471.5" x2="415" y2="474.5" stroke="#231f20" stroke-width="1"/>
<line x1="432" y1="471.5" x2="432" y2="474.5" stroke="#231f20" stroke-width="1"/>
<line x1="442" y1="471.5" x2="442" y2="474.5" stroke="#231f20" stroke-width="1"/>
<line x1="452" y1="471.5" x2="452" y2="474.5" stroke="#231f20" stroke-width="1"/>
<line x1="462" y1="471.5" x2="462" y2="474.5" stroke="#231f20" stroke-width="1"/>
<line x1="472" y1="471.5" x2="472" y2="474.5" stroke="#231f20" stroke-width="1"/>
<line x1="482" y1="471.5" x2="482" y2="474.5" stroke="#231f20" stroke-width="1"/>
<line x1="492" y1="471.5" x2="492" y2="474.5" stroke="#231f20" stroke-width="1"/>
<line x1="502" y1="471.5" x2="502" y2="474.5" stroke="#231f20" stroke-width="1"/>
<text x="345" y="486" font-size="8.2" fill="#231f20" text-anchor="middle" textLength="9.6" lengthAdjust="spacingAndGlyphs">PC</text>
<text x="355" y="486" font-size="8.2" fill="#231f20" text-anchor="middle">1</text>
<text x="365" y="486" font-size="8.2" fill="#231f20" text-anchor="middle">2</text>
<text x="375" y="486" font-size="8.2" fill="#231f20" text-anchor="middle">3</text>
<text x="385" y="486" font-size="8.2" fill="#231f20" text-anchor="middle">4</text>
<text x="395" y="486" font-size="8.2" fill="#231f20" text-anchor="middle">5</text>
<text x="405" y="486" font-size="8.2" fill="#231f20" text-anchor="middle">6</text>
<text x="415" y="486" font-size="8.2" fill="#231f20" text-anchor="middle">7</text>
<text x="432" y="486" font-size="8.2" fill="#231f20" text-anchor="middle" textLength="9.6" lengthAdjust="spacingAndGlyphs">PC</text>
<text x="442" y="486" font-size="8.2" fill="#231f20" text-anchor="middle">1</text>
<text x="452" y="486" font-size="8.2" fill="#231f20" text-anchor="middle">2</text>
<text x="462" y="486" font-size="8.2" fill="#231f20" text-anchor="middle">3</text>
<text x="472" y="486" font-size="8.2" fill="#231f20" text-anchor="middle">4</text>
<text x="482" y="486" font-size="8.2" fill="#231f20" text-anchor="middle">5</text>
<text x="492" y="486" font-size="8.2" fill="#231f20" text-anchor="middle">6</text>
<text x="502" y="486" font-size="8.2" fill="#231f20" text-anchor="middle">7</text>
<line x1="381.75" y1="371.75" x2="478.25" y2="371.75" stroke="#231f20" stroke-width="1.1"/>
<line x1="381.75" y1="371.25" x2="381.75" y2="452.5" stroke="#231f20" stroke-width="1.1"/>
<line x1="478.25" y1="371.25" x2="478.25" y2="385.75" stroke="#231f20" stroke-width="1.1"/>
<line x1="351.25" y1="452.5" x2="413.75" y2="452.5" stroke="#231f20" stroke-width="1.1"/>
<line x1="446.25" y1="385.75" x2="508" y2="385.75" stroke="#231f20" stroke-width="1.1"/>
<text x="430" y="372.4" font-size="7.2" fill="#231f20" text-anchor="middle" textLength="12.5" lengthAdjust="spacingAndGlyphs">****</text>
<rect x="393.3" y="491.8" width="4.2" height="11.2" fill="#808080"/>
<text x="400.5" y="500.6" font-size="8.6" fill="#231f20" textLength="11.5" lengthAdjust="spacingAndGlyphs">Cyt</text>
<rect x="423.3" y="491.8" width="4.2" height="11.2" fill="#a0002a"/>
<text x="430.8" y="500.6" font-size="8.6" fill="#231f20" textLength="29.2" lengthAdjust="spacingAndGlyphs">Cyt+VPA</text>
<text x="281.8" y="421.9" font-size="10" fill="#231f20" text-anchor="middle" textLength="75.7" lengthAdjust="spacingAndGlyphs" transform="rotate(-90 281.8 421.9)">Absolute number</text>
<text x="292" y="421.4" font-size="10" fill="#231f20" text-anchor="middle" textLength="78.2" lengthAdjust="spacingAndGlyphs" transform="rotate(-90 292 421.4)">CD34<tspan font-size="6.6" dy="-3.63">+</tspan><tspan dy="3">CD90</tspan><tspan font-size="6.6" dy="-3.63">+</tspan><tspan dy="3"> cells</tspan></text>
<line x1="336.2" y1="537.5" x2="336.2" y2="645" stroke="#231f20" stroke-width="1.35"/>
<line x1="335.7" y1="644.5" x2="473.8" y2="644.5" stroke="#231f20" stroke-width="1.35"/>
<line x1="333.2" y1="627.2" x2="336.2" y2="627.2" stroke="#231f20" stroke-width="1.1"/>
<text x="329" y="630.1" font-size="8.4" fill="#231f20" text-anchor="end">0</text>
<line x1="333.2" y1="605.5" x2="336.2" y2="605.5" stroke="#231f20" stroke-width="1.1"/>
<text x="329" y="608.4" font-size="8.4" fill="#231f20" text-anchor="end">25</text>
<line x1="333.2" y1="583.8" x2="336.2" y2="583.8" stroke="#231f20" stroke-width="1.1"/>
<text x="329" y="586.7" font-size="8.4" fill="#231f20" text-anchor="end">50</text>
<line x1="333.2" y1="562" x2="336.2" y2="562" stroke="#231f20" stroke-width="1.1"/>
<text x="329" y="564.9" font-size="8.4" fill="#231f20" text-anchor="end">75</text>
<line x1="333.2" y1="540" x2="336.2" y2="540" stroke="#231f20" stroke-width="1.1"/>
<text x="329" y="542.9" font-size="8.4" fill="#231f20" text-anchor="end">100</text>
<line x1="350" y1="644.5" x2="350" y2="647.5" stroke="#231f20" stroke-width="1"/>
<text x="350.1" y="658.6" font-size="7.6" fill="#231f20" text-anchor="middle" textLength="18.6" lengthAdjust="spacingAndGlyphs">Day0</text>
<line x1="377.5" y1="644.5" x2="377.5" y2="647.5" stroke="#231f20" stroke-width="1"/>
<text x="377.6" y="658.6" font-size="7.6" fill="#231f20" text-anchor="middle" textLength="18.6" lengthAdjust="spacingAndGlyphs">Day1</text>
<line x1="405" y1="644.5" x2="405" y2="647.5" stroke="#231f20" stroke-width="1"/>
<text x="405.1" y="658.6" font-size="7.6" fill="#231f20" text-anchor="middle" textLength="18.6" lengthAdjust="spacingAndGlyphs">Day2</text>
<line x1="432.5" y1="644.5" x2="432.5" y2="647.5" stroke="#231f20" stroke-width="1"/>
<text x="432.6" y="658.6" font-size="7.6" fill="#231f20" text-anchor="middle" textLength="18.6" lengthAdjust="spacingAndGlyphs">Day3</text>
<line x1="460" y1="644.5" x2="460" y2="647.5" stroke="#231f20" stroke-width="1"/>
<text x="460.1" y="658.6" font-size="7.6" fill="#231f20" text-anchor="middle" textLength="18.6" lengthAdjust="spacingAndGlyphs">Day4</text>
<polyline points="350,627.4 377.5,627.4 405,627 432.5,627.3 460,627.5" fill="none" stroke="#9a9a9a" stroke-width="1"/>
<path d="M348 629L352 629L350 625.6Z" fill="#6e6e6e"/>
<path d="M375.5 629L379.5 629L377.5 625.6Z" fill="#6e6e6e"/>
<path d="M403 628.6L407 628.6L405 625.2Z" fill="#6e6e6e"/>
<path d="M430.5 628.9L434.5 628.9L432.5 625.5Z" fill="#6e6e6e"/>
<path d="M458 629.1L462 629.1L460 625.7Z" fill="#6e6e6e"/>
<polyline points="350,627 377.5,558.6 405,558.1 432.5,562 460,577.4" fill="none" stroke="#c21e4b" stroke-width="1.1"/>
<path d="M348 625.4L352 625.4L350 628.8Z" fill="#8a0022"/>
<line x1="377.5" y1="558.6" x2="377.5" y2="556.3" stroke="#231f20" stroke-width="1"/>
<line x1="375" y1="556.3" x2="380" y2="556.3" stroke="#231f20" stroke-width="1.3"/>
<path d="M375.5 557L379.5 557L377.5 560.4Z" fill="#8a0022"/>
<line x1="405" y1="558.1" x2="405" y2="556.5" stroke="#231f20" stroke-width="1"/>
<line x1="402.5" y1="556.5" x2="407.5" y2="556.5" stroke="#231f20" stroke-width="1.3"/>
<path d="M403 556.5L407 556.5L405 559.9Z" fill="#8a0022"/>
<line x1="432.5" y1="562" x2="432.5" y2="560" stroke="#231f20" stroke-width="1"/>
<line x1="430" y1="560" x2="435" y2="560" stroke="#231f20" stroke-width="1.3"/>
<path d="M430.5 560.4L434.5 560.4L432.5 563.8Z" fill="#8a0022"/>
<line x1="460" y1="577.4" x2="460" y2="572" stroke="#231f20" stroke-width="1"/>
<line x1="457.5" y1="572" x2="462.5" y2="572" stroke="#231f20" stroke-width="1.3"/>
<path d="M458 575.8L462 575.8L460 579.2Z" fill="#8a0022"/>
<line x1="377.5" y1="551.8" x2="463.3" y2="551.8" stroke="#231f20" stroke-width="1.1"/>
<line x1="377.5" y1="551.3" x2="377.5" y2="556" stroke="#231f20" stroke-width="1.1"/>
<line x1="463.3" y1="551.3" x2="463.3" y2="556.3" stroke="#231f20" stroke-width="1.1"/>
<text x="420.8" y="551.9" font-size="7.2" fill="#231f20" text-anchor="middle" textLength="12.5" lengthAdjust="spacingAndGlyphs">****</text>
<line x1="365.5" y1="528.8" x2="372" y2="528.8" stroke="#9a9a9a" stroke-width="1"/>
<path d="M366.75 530.4L370.75 530.4L368.75 527Z" fill="#8a8a8a"/>
<text x="376.3" y="531.6" font-size="7.8" fill="#231f20" textLength="11.7" lengthAdjust="spacingAndGlyphs">Cyt</text>
<line x1="398.8" y1="528.8" x2="407" y2="528.8" stroke="#c21e4b" stroke-width="1"/>
<path d="M400.7 527.04L405.1 527.04L402.9 530.78Z" fill="#8a0022"/>
<text x="409.5" y="531.6" font-size="7.8" fill="#231f20" textLength="31.7" lengthAdjust="spacingAndGlyphs">Cyt+VPA</text>
<text x="295.8" y="590.5" font-size="10" fill="#231f20" text-anchor="middle" textLength="50.3" lengthAdjust="spacingAndGlyphs" transform="rotate(-90 295.8 590.5)">Percentage</text>
<text x="309" y="591" font-size="10" fill="#231f20" text-anchor="middle" textLength="75.9" lengthAdjust="spacingAndGlyphs" transform="rotate(-90 309 591)">CD34<tspan font-size="6.6" dy="-3.63">+</tspan><tspan dy="3">CD90</tspan><tspan font-size="6.6" dy="-3.63">+</tspan><tspan dy="3">cells</tspan></text>
</svg>
</body></html>
